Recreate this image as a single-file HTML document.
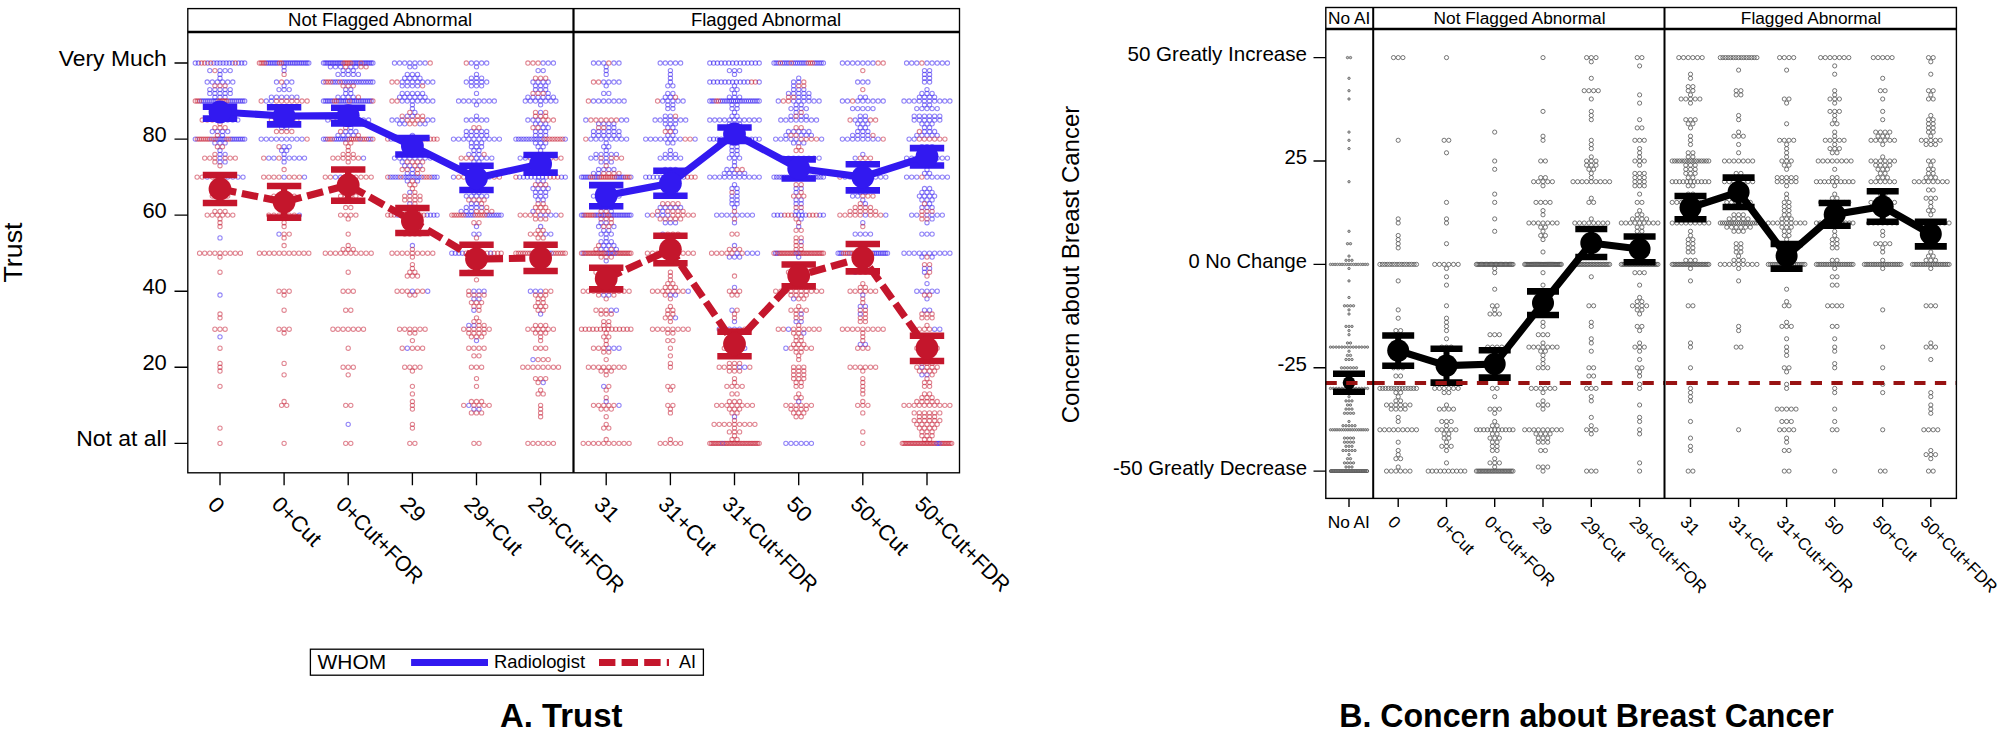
<!DOCTYPE html>
<html lang="en"><head><meta charset="utf-8"><title>Figure: Trust and Concern about Breast Cancer</title>
<style>
html,body{margin:0;padding:0;background:#fff}
body{width:2000px;height:729px;overflow:hidden}
svg{display:block}
.l circle{r:2.15px}
.r circle{r:2.1px}
.n circle{r:1.2px}
</style></head><body>
<svg width="2000" height="729" viewBox="0 0 2000 729" font-family='"Liberation Sans", sans-serif' fill="#000">
<rect width="2000" height="729" fill="#fff"/>
<g fill="none" stroke="#3219f0" stroke-opacity=".54" stroke-width="1.05" class="l">
<circle cx="195.3" cy="63"/><circle cx="198.4" cy="63"/><circle cx="207.7" cy="63"/><circle cx="213.8" cy="63"/><circle cx="216.9" cy="63"/><circle cx="220" cy="63"/><circle cx="223.1" cy="63"/><circle cx="226.2" cy="63"/><circle cx="229.3" cy="63"/><circle cx="232.4" cy="63"/><circle cx="238.5" cy="63"/><circle cx="241.6" cy="63"/><circle cx="244.7" cy="63"/><circle cx="209.8" cy="70.6"/><circle cx="220" cy="70.6"/><circle cx="225.1" cy="70.6"/><circle cx="230.2" cy="70.6"/><circle cx="220" cy="74.4"/><circle cx="220" cy="78.2"/><circle cx="207.2" cy="82"/><circle cx="212.3" cy="82"/><circle cx="217.4" cy="82"/><circle cx="222.6" cy="82"/><circle cx="227.7" cy="82"/><circle cx="232.8" cy="82"/><circle cx="209.8" cy="89.6"/><circle cx="214.9" cy="89.6"/><circle cx="220" cy="89.6"/><circle cx="225.1" cy="89.6"/><circle cx="230.2" cy="89.6"/><circle cx="209.8" cy="93.4"/><circle cx="214.9" cy="93.4"/><circle cx="220" cy="93.4"/><circle cx="225.1" cy="93.4"/><circle cx="230.2" cy="93.4"/><circle cx="214.9" cy="97.2"/><circle cx="220" cy="97.2"/><circle cx="225.1" cy="97.2"/><circle cx="201.2" cy="101"/><circle cx="203.2" cy="101"/><circle cx="205.2" cy="101"/><circle cx="207.2" cy="101"/><circle cx="209.1" cy="101"/><circle cx="211.1" cy="101"/><circle cx="213.1" cy="101"/><circle cx="215.1" cy="101"/><circle cx="217" cy="101"/><circle cx="228.9" cy="101"/><circle cx="230.9" cy="101"/><circle cx="232.8" cy="101"/><circle cx="234.8" cy="101"/><circle cx="236.8" cy="101"/><circle cx="238.8" cy="101"/><circle cx="240.7" cy="101"/><circle cx="242.7" cy="101"/><circle cx="244.7" cy="101"/><circle cx="214.9" cy="108.6"/><circle cx="220" cy="108.6"/><circle cx="225.1" cy="108.6"/><circle cx="222.5" cy="112.4"/><circle cx="222.5" cy="116.2"/><circle cx="217.5" cy="120"/><circle cx="222.6" cy="120"/><circle cx="227.7" cy="120"/><circle cx="232.8" cy="120"/><circle cx="237.8" cy="120"/><circle cx="212.3" cy="131.5"/><circle cx="217.4" cy="131.5"/><circle cx="222.5" cy="131.5"/><circle cx="227.7" cy="131.5"/><circle cx="222.5" cy="135.3"/><circle cx="195.3" cy="139.1"/><circle cx="211.1" cy="139.1"/><circle cx="217" cy="139.1"/><circle cx="219" cy="139.1"/><circle cx="221" cy="139.1"/><circle cx="223" cy="139.1"/><circle cx="224.9" cy="139.1"/><circle cx="230.9" cy="139.1"/><circle cx="232.8" cy="139.1"/><circle cx="234.8" cy="139.1"/><circle cx="236.8" cy="139.1"/><circle cx="238.8" cy="139.1"/><circle cx="240.7" cy="139.1"/><circle cx="242.7" cy="139.1"/><circle cx="244.7" cy="139.1"/><circle cx="214.9" cy="142.9"/><circle cx="220" cy="142.9"/><circle cx="225.1" cy="142.9"/><circle cx="220" cy="150.5"/><circle cx="220" cy="154.3"/><circle cx="225.1" cy="154.3"/><circle cx="220" cy="158.1"/><circle cx="220" cy="161.9"/><circle cx="225.1" cy="161.9"/><circle cx="207.2" cy="177.1"/><circle cx="227.7" cy="177.1"/><circle cx="232.8" cy="177.1"/><circle cx="237.9" cy="177.1"/><circle cx="243" cy="177.1"/><circle cx="222.5" cy="184.7"/><circle cx="220" cy="199.9"/><circle cx="220" cy="237.9"/><circle cx="220" cy="295"/><circle cx="220" cy="336.8"/><circle cx="266.7" cy="63"/><circle cx="268.6" cy="63"/><circle cx="270.4" cy="63"/><circle cx="272.2" cy="63"/><circle cx="274.1" cy="63"/><circle cx="275.9" cy="63"/><circle cx="277.7" cy="63"/><circle cx="283.2" cy="63"/><circle cx="285" cy="63"/><circle cx="286.9" cy="63"/><circle cx="288.7" cy="63"/><circle cx="290.5" cy="63"/><circle cx="292.4" cy="63"/><circle cx="294.2" cy="63"/><circle cx="296" cy="63"/><circle cx="297.8" cy="63"/><circle cx="299.7" cy="63"/><circle cx="301.5" cy="63"/><circle cx="303.3" cy="63"/><circle cx="305.2" cy="63"/><circle cx="307" cy="63"/><circle cx="308.8" cy="63"/><circle cx="284.1" cy="66.8"/><circle cx="284.1" cy="70.6"/><circle cx="276.5" cy="82"/><circle cx="286.7" cy="82"/><circle cx="291.8" cy="82"/><circle cx="284.1" cy="85.8"/><circle cx="279" cy="89.6"/><circle cx="284.1" cy="89.6"/><circle cx="289.2" cy="89.6"/><circle cx="271.4" cy="97.2"/><circle cx="276.5" cy="97.2"/><circle cx="281.6" cy="97.2"/><circle cx="286.7" cy="97.2"/><circle cx="291.8" cy="97.2"/><circle cx="296.9" cy="97.2"/><circle cx="266.3" cy="101"/><circle cx="271.4" cy="101"/><circle cx="279" cy="108.6"/><circle cx="284.1" cy="108.6"/><circle cx="289.2" cy="108.6"/><circle cx="281.6" cy="112.4"/><circle cx="286.7" cy="112.4"/><circle cx="281.6" cy="116.2"/><circle cx="286.7" cy="116.2"/><circle cx="281.6" cy="127.7"/><circle cx="286.7" cy="127.7"/><circle cx="261.2" cy="139.1"/><circle cx="266.3" cy="139.1"/><circle cx="271.4" cy="139.1"/><circle cx="276.5" cy="139.1"/><circle cx="281.6" cy="139.1"/><circle cx="286.7" cy="139.1"/><circle cx="291.8" cy="139.1"/><circle cx="296.9" cy="139.1"/><circle cx="302" cy="139.1"/><circle cx="284.1" cy="146.7"/><circle cx="289.2" cy="146.7"/><circle cx="281.6" cy="150.5"/><circle cx="286.7" cy="150.5"/><circle cx="284.1" cy="154.3"/><circle cx="268.8" cy="158.1"/><circle cx="273.9" cy="158.1"/><circle cx="284.1" cy="158.1"/><circle cx="289.2" cy="158.1"/><circle cx="294.3" cy="158.1"/><circle cx="299.4" cy="158.1"/><circle cx="304.5" cy="158.1"/><circle cx="284.1" cy="161.9"/><circle cx="284.1" cy="177.1"/><circle cx="304.5" cy="177.1"/><circle cx="284.1" cy="196.1"/><circle cx="289.2" cy="196.1"/><circle cx="299.4" cy="215.1"/><circle cx="279" cy="234.1"/><circle cx="323.5" cy="63"/><circle cx="325.2" cy="63"/><circle cx="326.9" cy="63"/><circle cx="328.7" cy="63"/><circle cx="330.4" cy="63"/><circle cx="332.1" cy="63"/><circle cx="333.8" cy="63"/><circle cx="335.5" cy="63"/><circle cx="337.2" cy="63"/><circle cx="338.9" cy="63"/><circle cx="340.6" cy="63"/><circle cx="342.3" cy="63"/><circle cx="352.5" cy="63"/><circle cx="354.2" cy="63"/><circle cx="355.9" cy="63"/><circle cx="357.6" cy="63"/><circle cx="359.3" cy="63"/><circle cx="362.7" cy="63"/><circle cx="364.4" cy="63"/><circle cx="366.1" cy="63"/><circle cx="367.8" cy="63"/><circle cx="369.5" cy="63"/><circle cx="371.2" cy="63"/><circle cx="372.9" cy="63"/><circle cx="330.4" cy="66.8"/><circle cx="335.5" cy="66.8"/><circle cx="340.6" cy="66.8"/><circle cx="350.8" cy="66.8"/><circle cx="355.9" cy="66.8"/><circle cx="343.1" cy="70.6"/><circle cx="348.2" cy="70.6"/><circle cx="353.3" cy="70.6"/><circle cx="338" cy="74.4"/><circle cx="343.1" cy="74.4"/><circle cx="348.2" cy="74.4"/><circle cx="353.3" cy="74.4"/><circle cx="358.4" cy="74.4"/><circle cx="323.5" cy="82"/><circle cx="332.9" cy="82"/><circle cx="335.3" cy="82"/><circle cx="337.7" cy="82"/><circle cx="342.4" cy="82"/><circle cx="344.7" cy="82"/><circle cx="347.1" cy="82"/><circle cx="349.4" cy="82"/><circle cx="351.8" cy="82"/><circle cx="354.1" cy="82"/><circle cx="356.5" cy="82"/><circle cx="358.8" cy="82"/><circle cx="361.2" cy="82"/><circle cx="363.5" cy="82"/><circle cx="365.9" cy="82"/><circle cx="368.2" cy="82"/><circle cx="370.6" cy="82"/><circle cx="372.9" cy="82"/><circle cx="345.7" cy="89.6"/><circle cx="350.8" cy="89.6"/><circle cx="345.7" cy="93.4"/><circle cx="350.8" cy="93.4"/><circle cx="338" cy="97.2"/><circle cx="343.1" cy="97.2"/><circle cx="348.2" cy="97.2"/><circle cx="353.3" cy="97.2"/><circle cx="323.5" cy="101"/><circle cx="325.4" cy="101"/><circle cx="327.2" cy="101"/><circle cx="329" cy="101"/><circle cx="330.9" cy="101"/><circle cx="332.7" cy="101"/><circle cx="338.2" cy="101"/><circle cx="340" cy="101"/><circle cx="341.8" cy="101"/><circle cx="343.7" cy="101"/><circle cx="345.5" cy="101"/><circle cx="347.3" cy="101"/><circle cx="351" cy="101"/><circle cx="352.8" cy="101"/><circle cx="354.6" cy="101"/><circle cx="356.5" cy="101"/><circle cx="358.3" cy="101"/><circle cx="360.1" cy="101"/><circle cx="362" cy="101"/><circle cx="363.8" cy="101"/><circle cx="365.6" cy="101"/><circle cx="367.5" cy="101"/><circle cx="369.3" cy="101"/><circle cx="371.1" cy="101"/><circle cx="343.1" cy="108.6"/><circle cx="348.2" cy="108.6"/><circle cx="345.7" cy="112.4"/><circle cx="350.8" cy="112.4"/><circle cx="327.8" cy="120"/><circle cx="338" cy="120"/><circle cx="358.4" cy="120"/><circle cx="363.5" cy="120"/><circle cx="368.6" cy="120"/><circle cx="350.8" cy="127.7"/><circle cx="345.7" cy="131.5"/><circle cx="350.8" cy="131.5"/><circle cx="355.9" cy="131.5"/><circle cx="338" cy="135.3"/><circle cx="343.1" cy="135.3"/><circle cx="348.2" cy="135.3"/><circle cx="353.3" cy="135.3"/><circle cx="323.5" cy="139.1"/><circle cx="325.7" cy="139.1"/><circle cx="334.3" cy="139.1"/><circle cx="336.4" cy="139.1"/><circle cx="338.6" cy="139.1"/><circle cx="340.7" cy="139.1"/><circle cx="342.9" cy="139.1"/><circle cx="345" cy="139.1"/><circle cx="347.2" cy="139.1"/><circle cx="360.1" cy="139.1"/><circle cx="368.6" cy="139.1"/><circle cx="370.8" cy="139.1"/><circle cx="363.5" cy="158.1"/><circle cx="343.1" cy="169.5"/><circle cx="348.2" cy="169.5"/><circle cx="335.5" cy="177.1"/><circle cx="340.6" cy="177.1"/><circle cx="345.7" cy="177.1"/><circle cx="348.2" cy="424.3"/><circle cx="394.5" cy="63"/><circle cx="399.6" cy="63"/><circle cx="404.7" cy="63"/><circle cx="409.8" cy="63"/><circle cx="414.9" cy="63"/><circle cx="420" cy="63"/><circle cx="425.1" cy="63"/><circle cx="409.8" cy="66.8"/><circle cx="414.9" cy="66.8"/><circle cx="407.3" cy="74.4"/><circle cx="412.4" cy="74.4"/><circle cx="417.5" cy="74.4"/><circle cx="404.7" cy="78.2"/><circle cx="409.8" cy="78.2"/><circle cx="414.9" cy="78.2"/><circle cx="420" cy="78.2"/><circle cx="402.2" cy="82"/><circle cx="407.3" cy="82"/><circle cx="412.4" cy="82"/><circle cx="417.5" cy="82"/><circle cx="422.6" cy="82"/><circle cx="427.7" cy="82"/><circle cx="432.8" cy="82"/><circle cx="402.2" cy="85.8"/><circle cx="407.3" cy="85.8"/><circle cx="412.4" cy="85.8"/><circle cx="417.5" cy="85.8"/><circle cx="402.2" cy="93.4"/><circle cx="407.3" cy="93.4"/><circle cx="412.4" cy="93.4"/><circle cx="417.5" cy="93.4"/><circle cx="422.6" cy="93.4"/><circle cx="399.6" cy="97.2"/><circle cx="404.7" cy="97.2"/><circle cx="409.8" cy="97.2"/><circle cx="414.9" cy="97.2"/><circle cx="420" cy="97.2"/><circle cx="425.1" cy="97.2"/><circle cx="402.2" cy="101"/><circle cx="407.3" cy="101"/><circle cx="412.4" cy="101"/><circle cx="417.5" cy="101"/><circle cx="422.6" cy="101"/><circle cx="427.7" cy="101"/><circle cx="432.8" cy="101"/><circle cx="412.4" cy="104.8"/><circle cx="412.4" cy="108.6"/><circle cx="414.9" cy="112.4"/><circle cx="407.3" cy="116.2"/><circle cx="412.4" cy="116.2"/><circle cx="392" cy="120"/><circle cx="397.1" cy="120"/><circle cx="402.2" cy="120"/><circle cx="427.7" cy="120"/><circle cx="432.8" cy="120"/><circle cx="399.6" cy="123.8"/><circle cx="404.7" cy="123.8"/><circle cx="420" cy="123.8"/><circle cx="425.1" cy="123.8"/><circle cx="412.4" cy="135.3"/><circle cx="391" cy="139.1"/><circle cx="394.2" cy="139.1"/><circle cx="397.5" cy="139.1"/><circle cx="400.8" cy="139.1"/><circle cx="404.1" cy="139.1"/><circle cx="410.7" cy="139.1"/><circle cx="414" cy="139.1"/><circle cx="417.3" cy="139.1"/><circle cx="420.6" cy="139.1"/><circle cx="407.3" cy="142.9"/><circle cx="412.4" cy="142.9"/><circle cx="417.5" cy="142.9"/><circle cx="407.3" cy="146.7"/><circle cx="412.4" cy="146.7"/><circle cx="409.8" cy="150.5"/><circle cx="394.5" cy="158.1"/><circle cx="399.6" cy="158.1"/><circle cx="404.7" cy="158.1"/><circle cx="409.8" cy="158.1"/><circle cx="414.9" cy="158.1"/><circle cx="420" cy="158.1"/><circle cx="425.1" cy="158.1"/><circle cx="430.2" cy="158.1"/><circle cx="402.2" cy="161.9"/><circle cx="404.7" cy="165.7"/><circle cx="409.8" cy="165.7"/><circle cx="420" cy="165.7"/><circle cx="412.4" cy="169.5"/><circle cx="407.3" cy="173.3"/><circle cx="412.4" cy="173.3"/><circle cx="390.3" cy="177.1"/><circle cx="392.9" cy="177.1"/><circle cx="395.5" cy="177.1"/><circle cx="398.1" cy="177.1"/><circle cx="403.3" cy="177.1"/><circle cx="405.9" cy="177.1"/><circle cx="408.5" cy="177.1"/><circle cx="411.1" cy="177.1"/><circle cx="413.7" cy="177.1"/><circle cx="416.3" cy="177.1"/><circle cx="418.9" cy="177.1"/><circle cx="421.5" cy="177.1"/><circle cx="431.9" cy="177.1"/><circle cx="434.5" cy="177.1"/><circle cx="437.1" cy="177.1"/><circle cx="407.3" cy="180.9"/><circle cx="417.5" cy="180.9"/><circle cx="409.8" cy="192.3"/><circle cx="409.8" cy="203.7"/><circle cx="414.9" cy="207.5"/><circle cx="397.5" cy="215.1"/><circle cx="427.2" cy="215.1"/><circle cx="430.5" cy="215.1"/><circle cx="433.8" cy="215.1"/><circle cx="437.1" cy="215.1"/><circle cx="414.9" cy="222.7"/><circle cx="412.4" cy="245.5"/><circle cx="412.4" cy="291.2"/><circle cx="427.7" cy="291.2"/><circle cx="407.3" cy="348.2"/><circle cx="471.4" cy="63"/><circle cx="476.5" cy="63"/><circle cx="481.6" cy="63"/><circle cx="486.7" cy="63"/><circle cx="476.5" cy="66.8"/><circle cx="476.5" cy="74.4"/><circle cx="471.4" cy="78.2"/><circle cx="476.5" cy="78.2"/><circle cx="481.6" cy="78.2"/><circle cx="466.3" cy="82"/><circle cx="471.4" cy="82"/><circle cx="476.5" cy="82"/><circle cx="481.6" cy="82"/><circle cx="486.7" cy="82"/><circle cx="471.4" cy="85.8"/><circle cx="476.5" cy="85.8"/><circle cx="481.6" cy="85.8"/><circle cx="476.5" cy="93.4"/><circle cx="458.6" cy="101"/><circle cx="463.7" cy="101"/><circle cx="468.8" cy="101"/><circle cx="473.9" cy="101"/><circle cx="479" cy="101"/><circle cx="484.1" cy="101"/><circle cx="489.2" cy="101"/><circle cx="494.3" cy="101"/><circle cx="476.5" cy="104.8"/><circle cx="476.5" cy="116.2"/><circle cx="466.3" cy="120"/><circle cx="471.4" cy="120"/><circle cx="476.5" cy="120"/><circle cx="481.6" cy="120"/><circle cx="486.7" cy="120"/><circle cx="466.3" cy="131.5"/><circle cx="471.4" cy="131.5"/><circle cx="476.5" cy="131.5"/><circle cx="481.6" cy="131.5"/><circle cx="486.7" cy="131.5"/><circle cx="466.3" cy="135.3"/><circle cx="471.4" cy="135.3"/><circle cx="476.5" cy="135.3"/><circle cx="481.6" cy="135.3"/><circle cx="486.7" cy="135.3"/><circle cx="453.5" cy="139.1"/><circle cx="458.6" cy="139.1"/><circle cx="463.7" cy="139.1"/><circle cx="468.8" cy="139.1"/><circle cx="473.9" cy="139.1"/><circle cx="479" cy="139.1"/><circle cx="484.1" cy="139.1"/><circle cx="489.2" cy="139.1"/><circle cx="494.3" cy="139.1"/><circle cx="499.4" cy="139.1"/><circle cx="471.4" cy="142.9"/><circle cx="476.5" cy="142.9"/><circle cx="481.6" cy="142.9"/><circle cx="471.4" cy="146.7"/><circle cx="476.5" cy="146.7"/><circle cx="481.6" cy="146.7"/><circle cx="473.9" cy="150.5"/><circle cx="479" cy="150.5"/><circle cx="468.8" cy="154.3"/><circle cx="473.9" cy="154.3"/><circle cx="479" cy="154.3"/><circle cx="476.5" cy="158.1"/><circle cx="481.6" cy="158.1"/><circle cx="486.7" cy="158.1"/><circle cx="491.8" cy="158.1"/><circle cx="473.9" cy="161.9"/><circle cx="479" cy="161.9"/><circle cx="473.9" cy="165.7"/><circle cx="471.4" cy="169.5"/><circle cx="476.5" cy="169.5"/><circle cx="473.9" cy="173.3"/><circle cx="479" cy="173.3"/><circle cx="453.5" cy="177.1"/><circle cx="484.1" cy="177.1"/><circle cx="489.2" cy="177.1"/><circle cx="473.9" cy="192.3"/><circle cx="479" cy="192.3"/><circle cx="466.3" cy="196.1"/><circle cx="471.4" cy="196.1"/><circle cx="476.5" cy="196.1"/><circle cx="481.6" cy="196.1"/><circle cx="486.7" cy="196.1"/><circle cx="471.4" cy="203.7"/><circle cx="476.5" cy="203.7"/><circle cx="466.3" cy="207.5"/><circle cx="471.4" cy="207.5"/><circle cx="476.5" cy="207.5"/><circle cx="481.6" cy="207.5"/><circle cx="461.2" cy="211.3"/><circle cx="466.3" cy="211.3"/><circle cx="471.4" cy="211.3"/><circle cx="465.9" cy="215.1"/><circle cx="468.2" cy="215.1"/><circle cx="470.6" cy="215.1"/><circle cx="473" cy="215.1"/><circle cx="487.1" cy="215.1"/><circle cx="489.4" cy="215.1"/><circle cx="491.8" cy="215.1"/><circle cx="494.1" cy="215.1"/><circle cx="496.5" cy="215.1"/><circle cx="498.8" cy="215.1"/><circle cx="501.2" cy="215.1"/><circle cx="476.5" cy="226.5"/><circle cx="473.9" cy="234.1"/><circle cx="479" cy="234.1"/><circle cx="451.8" cy="253.2"/><circle cx="455.3" cy="253.2"/><circle cx="458.8" cy="253.2"/><circle cx="462.4" cy="253.2"/><circle cx="490.6" cy="253.2"/><circle cx="473.9" cy="291.2"/><circle cx="479" cy="291.2"/><circle cx="484.1" cy="291.2"/><circle cx="473.9" cy="298.8"/><circle cx="479" cy="298.8"/><circle cx="473.9" cy="310.2"/><circle cx="468.8" cy="325.4"/><circle cx="473.9" cy="325.4"/><circle cx="476.5" cy="340.6"/><circle cx="468.8" cy="405.3"/><circle cx="473.9" cy="409.1"/><circle cx="479" cy="409.1"/><circle cx="543.1" cy="63"/><circle cx="548.2" cy="63"/><circle cx="553.4" cy="63"/><circle cx="538.1" cy="70.6"/><circle cx="543.2" cy="70.6"/><circle cx="533" cy="82"/><circle cx="538.1" cy="82"/><circle cx="543.2" cy="82"/><circle cx="548.2" cy="82"/><circle cx="535.5" cy="85.8"/><circle cx="540.6" cy="85.8"/><circle cx="545.7" cy="85.8"/><circle cx="535.5" cy="89.6"/><circle cx="540.6" cy="89.6"/><circle cx="545.7" cy="89.6"/><circle cx="548.2" cy="93.4"/><circle cx="527.9" cy="97.2"/><circle cx="533" cy="97.2"/><circle cx="538.1" cy="97.2"/><circle cx="543.1" cy="97.2"/><circle cx="548.2" cy="97.2"/><circle cx="553.4" cy="97.2"/><circle cx="525.3" cy="101"/><circle cx="530.4" cy="101"/><circle cx="535.5" cy="101"/><circle cx="540.6" cy="101"/><circle cx="545.7" cy="101"/><circle cx="550.8" cy="101"/><circle cx="555.9" cy="101"/><circle cx="540.6" cy="104.8"/><circle cx="540.6" cy="112.4"/><circle cx="527.9" cy="120"/><circle cx="533" cy="120"/><circle cx="538.1" cy="120"/><circle cx="535.5" cy="123.8"/><circle cx="540.6" cy="123.8"/><circle cx="545.7" cy="123.8"/><circle cx="543.2" cy="127.7"/><circle cx="548.2" cy="127.7"/><circle cx="535.5" cy="131.5"/><circle cx="540.6" cy="131.5"/><circle cx="545.7" cy="131.5"/><circle cx="535.5" cy="135.3"/><circle cx="540.6" cy="135.3"/><circle cx="545.7" cy="135.3"/><circle cx="515.9" cy="139.1"/><circle cx="518.5" cy="139.1"/><circle cx="521.1" cy="139.1"/><circle cx="523.7" cy="139.1"/><circle cx="526.3" cy="139.1"/><circle cx="528.9" cy="139.1"/><circle cx="531.5" cy="139.1"/><circle cx="534.1" cy="139.1"/><circle cx="536.7" cy="139.1"/><circle cx="539.3" cy="139.1"/><circle cx="541.9" cy="139.1"/><circle cx="565.3" cy="139.1"/><circle cx="535.5" cy="142.9"/><circle cx="540.6" cy="142.9"/><circle cx="545.7" cy="142.9"/><circle cx="538.1" cy="146.7"/><circle cx="543.2" cy="146.7"/><circle cx="540.6" cy="150.5"/><circle cx="520.2" cy="158.1"/><circle cx="525.3" cy="158.1"/><circle cx="535.5" cy="158.1"/><circle cx="540.6" cy="158.1"/><circle cx="538.1" cy="161.9"/><circle cx="543.2" cy="161.9"/><circle cx="538.1" cy="165.7"/><circle cx="543.2" cy="165.7"/><circle cx="519.7" cy="177.1"/><circle cx="523.5" cy="177.1"/><circle cx="527.3" cy="177.1"/><circle cx="531.1" cy="177.1"/><circle cx="534.9" cy="177.1"/><circle cx="538.7" cy="177.1"/><circle cx="542.5" cy="177.1"/><circle cx="546.3" cy="177.1"/><circle cx="561.5" cy="177.1"/><circle cx="565.3" cy="177.1"/><circle cx="538.1" cy="180.9"/><circle cx="543.2" cy="180.9"/><circle cx="533" cy="188.5"/><circle cx="538.1" cy="188.5"/><circle cx="543.2" cy="188.5"/><circle cx="548.2" cy="188.5"/><circle cx="535.5" cy="192.3"/><circle cx="540.6" cy="192.3"/><circle cx="545.7" cy="192.3"/><circle cx="535.5" cy="196.1"/><circle cx="540.6" cy="196.1"/><circle cx="545.7" cy="196.1"/><circle cx="538.1" cy="199.9"/><circle cx="543.2" cy="199.9"/><circle cx="533" cy="211.3"/><circle cx="540.6" cy="215.1"/><circle cx="545.7" cy="215.1"/><circle cx="550.8" cy="215.1"/><circle cx="555.9" cy="215.1"/><circle cx="540.6" cy="226.5"/><circle cx="545.7" cy="234.1"/><circle cx="550.8" cy="234.1"/><circle cx="541.8" cy="253.2"/><circle cx="544.1" cy="253.2"/><circle cx="546.5" cy="253.2"/><circle cx="548.8" cy="253.2"/><circle cx="551.2" cy="253.2"/><circle cx="540.6" cy="260.8"/><circle cx="530.4" cy="291.2"/><circle cx="535.5" cy="291.2"/><circle cx="540.6" cy="291.2"/><circle cx="540.6" cy="314"/><circle cx="533" cy="359.6"/><circle cx="543.2" cy="382.5"/><circle cx="593.5" cy="63"/><circle cx="598.6" cy="63"/><circle cx="603.7" cy="63"/><circle cx="613.9" cy="63"/><circle cx="619" cy="63"/><circle cx="606.2" cy="66.8"/><circle cx="606.2" cy="70.6"/><circle cx="606.2" cy="74.4"/><circle cx="603.7" cy="82"/><circle cx="608.8" cy="82"/><circle cx="613.9" cy="82"/><circle cx="619" cy="82"/><circle cx="606.2" cy="85.8"/><circle cx="603.7" cy="93.4"/><circle cx="608.8" cy="93.4"/><circle cx="593.5" cy="101"/><circle cx="598.6" cy="101"/><circle cx="603.6" cy="101"/><circle cx="608.8" cy="101"/><circle cx="613.9" cy="101"/><circle cx="619" cy="101"/><circle cx="624.1" cy="101"/><circle cx="585.8" cy="120"/><circle cx="621.5" cy="120"/><circle cx="626.6" cy="120"/><circle cx="598.6" cy="123.8"/><circle cx="603.7" cy="123.8"/><circle cx="608.8" cy="123.8"/><circle cx="613.9" cy="123.8"/><circle cx="608.8" cy="127.7"/><circle cx="613.9" cy="127.7"/><circle cx="593.5" cy="131.5"/><circle cx="598.6" cy="131.5"/><circle cx="603.7" cy="131.5"/><circle cx="608.8" cy="131.5"/><circle cx="613.9" cy="131.5"/><circle cx="619" cy="131.5"/><circle cx="593.5" cy="135.3"/><circle cx="598.6" cy="135.3"/><circle cx="603.7" cy="135.3"/><circle cx="608.8" cy="135.3"/><circle cx="613.9" cy="135.3"/><circle cx="619" cy="135.3"/><circle cx="590.9" cy="139.1"/><circle cx="596" cy="139.1"/><circle cx="601.1" cy="139.1"/><circle cx="606.2" cy="139.1"/><circle cx="611.3" cy="139.1"/><circle cx="616.4" cy="139.1"/><circle cx="621.5" cy="139.1"/><circle cx="626.6" cy="139.1"/><circle cx="606.2" cy="142.9"/><circle cx="603.7" cy="146.7"/><circle cx="608.8" cy="146.7"/><circle cx="606.2" cy="150.5"/><circle cx="596" cy="154.3"/><circle cx="601.1" cy="154.3"/><circle cx="606.2" cy="154.3"/><circle cx="611.3" cy="154.3"/><circle cx="616.4" cy="154.3"/><circle cx="590.9" cy="158.1"/><circle cx="596" cy="158.1"/><circle cx="606.2" cy="158.1"/><circle cx="601.1" cy="161.9"/><circle cx="606.2" cy="161.9"/><circle cx="611.3" cy="161.9"/><circle cx="598.6" cy="169.5"/><circle cx="603.7" cy="169.5"/><circle cx="608.8" cy="169.5"/><circle cx="613.9" cy="169.5"/><circle cx="593.5" cy="173.3"/><circle cx="598.6" cy="173.3"/><circle cx="581.5" cy="177.1"/><circle cx="583.3" cy="177.1"/><circle cx="585.2" cy="177.1"/><circle cx="587" cy="177.1"/><circle cx="588.8" cy="177.1"/><circle cx="594.3" cy="177.1"/><circle cx="596.1" cy="177.1"/><circle cx="598" cy="177.1"/><circle cx="616.3" cy="177.1"/><circle cx="618.1" cy="177.1"/><circle cx="619.9" cy="177.1"/><circle cx="621.8" cy="177.1"/><circle cx="623.6" cy="177.1"/><circle cx="630.9" cy="177.1"/><circle cx="601.1" cy="184.7"/><circle cx="606.2" cy="184.7"/><circle cx="611.3" cy="184.7"/><circle cx="603.7" cy="192.3"/><circle cx="608.8" cy="192.3"/><circle cx="593.5" cy="196.1"/><circle cx="603.7" cy="196.1"/><circle cx="613.9" cy="196.1"/><circle cx="619" cy="196.1"/><circle cx="603.7" cy="203.7"/><circle cx="608.8" cy="203.7"/><circle cx="601.1" cy="207.5"/><circle cx="606.2" cy="207.5"/><circle cx="611.3" cy="207.5"/><circle cx="611.3" cy="211.3"/><circle cx="581.5" cy="215.1"/><circle cx="583.2" cy="215.1"/><circle cx="595.1" cy="215.1"/><circle cx="596.8" cy="215.1"/><circle cx="598.5" cy="215.1"/><circle cx="601.9" cy="215.1"/><circle cx="603.6" cy="215.1"/><circle cx="605.3" cy="215.1"/><circle cx="610.5" cy="215.1"/><circle cx="612.2" cy="215.1"/><circle cx="613.9" cy="215.1"/><circle cx="615.6" cy="215.1"/><circle cx="617.3" cy="215.1"/><circle cx="619" cy="215.1"/><circle cx="620.7" cy="215.1"/><circle cx="622.4" cy="215.1"/><circle cx="624.1" cy="215.1"/><circle cx="625.8" cy="215.1"/><circle cx="627.5" cy="215.1"/><circle cx="629.2" cy="215.1"/><circle cx="630.9" cy="215.1"/><circle cx="601.1" cy="222.7"/><circle cx="606.2" cy="222.7"/><circle cx="598.6" cy="226.5"/><circle cx="613.9" cy="226.5"/><circle cx="603.7" cy="230.3"/><circle cx="608.8" cy="230.3"/><circle cx="601.1" cy="234.1"/><circle cx="606.2" cy="234.1"/><circle cx="611.3" cy="234.1"/><circle cx="606.2" cy="237.9"/><circle cx="601.1" cy="241.7"/><circle cx="606.2" cy="241.7"/><circle cx="611.3" cy="241.7"/><circle cx="603.7" cy="245.5"/><circle cx="608.8" cy="245.5"/><circle cx="613.9" cy="245.5"/><circle cx="601.1" cy="249.3"/><circle cx="606.2" cy="249.3"/><circle cx="616.4" cy="249.3"/><circle cx="583.1" cy="253.2"/><circle cx="607" cy="253.2"/><circle cx="608.6" cy="253.2"/><circle cx="610.2" cy="253.2"/><circle cx="613.4" cy="253.2"/><circle cx="615" cy="253.2"/><circle cx="606.2" cy="260.8"/><circle cx="603.7" cy="283.6"/><circle cx="608.8" cy="283.6"/><circle cx="603.7" cy="295"/><circle cx="608.8" cy="295"/><circle cx="611.3" cy="310.2"/><circle cx="616.4" cy="310.2"/><circle cx="608.8" cy="348.2"/><circle cx="613.9" cy="348.2"/><circle cx="619" cy="348.2"/><circle cx="603.7" cy="386.3"/><circle cx="606.2" cy="401.5"/><circle cx="619" cy="405.3"/><circle cx="660.2" cy="63"/><circle cx="665.3" cy="63"/><circle cx="670.4" cy="63"/><circle cx="675.5" cy="63"/><circle cx="680.6" cy="63"/><circle cx="670.4" cy="70.6"/><circle cx="670.4" cy="74.4"/><circle cx="670.4" cy="78.2"/><circle cx="670.4" cy="82"/><circle cx="667.8" cy="85.8"/><circle cx="672.9" cy="85.8"/><circle cx="667.8" cy="93.4"/><circle cx="672.9" cy="93.4"/><circle cx="665.3" cy="97.2"/><circle cx="670.4" cy="97.2"/><circle cx="662.7" cy="101"/><circle cx="667.8" cy="101"/><circle cx="672.9" cy="101"/><circle cx="678" cy="101"/><circle cx="683.1" cy="101"/><circle cx="667.8" cy="104.8"/><circle cx="672.9" cy="104.8"/><circle cx="667.8" cy="108.6"/><circle cx="672.9" cy="108.6"/><circle cx="665.3" cy="116.2"/><circle cx="670.4" cy="116.2"/><circle cx="655.1" cy="120"/><circle cx="660.2" cy="120"/><circle cx="665.3" cy="120"/><circle cx="670.4" cy="120"/><circle cx="675.5" cy="120"/><circle cx="680.6" cy="120"/><circle cx="685.7" cy="120"/><circle cx="665.3" cy="123.8"/><circle cx="670.4" cy="123.8"/><circle cx="675.5" cy="123.8"/><circle cx="667.8" cy="127.7"/><circle cx="672.9" cy="127.7"/><circle cx="675.5" cy="131.5"/><circle cx="667.8" cy="135.3"/><circle cx="672.9" cy="135.3"/><circle cx="645.7" cy="139.1"/><circle cx="650.6" cy="139.1"/><circle cx="655.5" cy="139.1"/><circle cx="660.5" cy="139.1"/><circle cx="665.4" cy="139.1"/><circle cx="670.4" cy="139.1"/><circle cx="675.3" cy="139.1"/><circle cx="680.2" cy="139.1"/><circle cx="695.1" cy="139.1"/><circle cx="667.8" cy="142.9"/><circle cx="672.9" cy="142.9"/><circle cx="670.4" cy="150.5"/><circle cx="665.3" cy="154.3"/><circle cx="670.4" cy="154.3"/><circle cx="675.5" cy="154.3"/><circle cx="660.2" cy="158.1"/><circle cx="665.3" cy="158.1"/><circle cx="670.4" cy="158.1"/><circle cx="675.5" cy="158.1"/><circle cx="680.6" cy="158.1"/><circle cx="665.3" cy="169.5"/><circle cx="670.4" cy="169.5"/><circle cx="675.5" cy="169.5"/><circle cx="645.7" cy="177.1"/><circle cx="649.5" cy="177.1"/><circle cx="653.3" cy="177.1"/><circle cx="657.1" cy="177.1"/><circle cx="660.9" cy="177.1"/><circle cx="664.7" cy="177.1"/><circle cx="668.5" cy="177.1"/><circle cx="672.3" cy="177.1"/><circle cx="676.1" cy="177.1"/><circle cx="679.9" cy="177.1"/><circle cx="683.7" cy="177.1"/><circle cx="667.8" cy="184.7"/><circle cx="672.9" cy="184.7"/><circle cx="665.3" cy="192.3"/><circle cx="670.4" cy="192.3"/><circle cx="675.5" cy="192.3"/><circle cx="657.6" cy="196.1"/><circle cx="662.7" cy="196.1"/><circle cx="660.2" cy="207.5"/><circle cx="665.3" cy="207.5"/><circle cx="670.4" cy="207.5"/><circle cx="675.5" cy="207.5"/><circle cx="680.6" cy="207.5"/><circle cx="662.7" cy="211.3"/><circle cx="647.4" cy="215.1"/><circle cx="657.6" cy="215.1"/><circle cx="662.7" cy="215.1"/><circle cx="667.8" cy="215.1"/><circle cx="665.3" cy="222.7"/><circle cx="670.4" cy="222.7"/><circle cx="675.5" cy="222.7"/><circle cx="662.7" cy="234.1"/><circle cx="688.2" cy="291.2"/><circle cx="670.4" cy="295"/><circle cx="675.5" cy="295"/><circle cx="675.5" cy="317.8"/><circle cx="709.8" cy="63"/><circle cx="713.6" cy="63"/><circle cx="717.4" cy="63"/><circle cx="721.2" cy="63"/><circle cx="725" cy="63"/><circle cx="728.8" cy="63"/><circle cx="732.6" cy="63"/><circle cx="736.4" cy="63"/><circle cx="740.2" cy="63"/><circle cx="744" cy="63"/><circle cx="747.8" cy="63"/><circle cx="751.6" cy="63"/><circle cx="755.4" cy="63"/><circle cx="759.2" cy="63"/><circle cx="729.4" cy="70.6"/><circle cx="734.5" cy="70.6"/><circle cx="739.6" cy="70.6"/><circle cx="734.5" cy="74.4"/><circle cx="709.8" cy="82"/><circle cx="713.6" cy="82"/><circle cx="717.4" cy="82"/><circle cx="721.2" cy="82"/><circle cx="725" cy="82"/><circle cx="728.8" cy="82"/><circle cx="732.6" cy="82"/><circle cx="736.4" cy="82"/><circle cx="740.2" cy="82"/><circle cx="744" cy="82"/><circle cx="747.8" cy="82"/><circle cx="759.2" cy="82"/><circle cx="734.5" cy="85.8"/><circle cx="732" cy="89.6"/><circle cx="737.1" cy="89.6"/><circle cx="734.5" cy="93.4"/><circle cx="729.4" cy="97.2"/><circle cx="734.5" cy="97.2"/><circle cx="739.6" cy="97.2"/><circle cx="709.8" cy="101"/><circle cx="712" cy="101"/><circle cx="714.1" cy="101"/><circle cx="720.6" cy="101"/><circle cx="722.7" cy="101"/><circle cx="724.9" cy="101"/><circle cx="727" cy="101"/><circle cx="729.2" cy="101"/><circle cx="731.3" cy="101"/><circle cx="733.4" cy="101"/><circle cx="735.6" cy="101"/><circle cx="737.7" cy="101"/><circle cx="739.9" cy="101"/><circle cx="742" cy="101"/><circle cx="744.2" cy="101"/><circle cx="746.3" cy="101"/><circle cx="748.5" cy="101"/><circle cx="750.6" cy="101"/><circle cx="752.8" cy="101"/><circle cx="754.9" cy="101"/><circle cx="757.1" cy="101"/><circle cx="759.2" cy="101"/><circle cx="732" cy="104.8"/><circle cx="737.1" cy="104.8"/><circle cx="732" cy="108.6"/><circle cx="737.1" cy="108.6"/><circle cx="734.5" cy="112.4"/><circle cx="732" cy="116.2"/><circle cx="737.1" cy="116.2"/><circle cx="709.8" cy="120"/><circle cx="714.8" cy="120"/><circle cx="719.7" cy="120"/><circle cx="724.6" cy="120"/><circle cx="729.6" cy="120"/><circle cx="734.5" cy="120"/><circle cx="739.5" cy="120"/><circle cx="744.4" cy="120"/><circle cx="749.3" cy="120"/><circle cx="754.3" cy="120"/><circle cx="759.2" cy="120"/><circle cx="729.4" cy="123.8"/><circle cx="734.5" cy="123.8"/><circle cx="739.6" cy="123.8"/><circle cx="732" cy="127.7"/><circle cx="737.1" cy="127.7"/><circle cx="729.4" cy="131.5"/><circle cx="734.5" cy="131.5"/><circle cx="739.6" cy="131.5"/><circle cx="729.4" cy="135.3"/><circle cx="734.5" cy="135.3"/><circle cx="739.6" cy="135.3"/><circle cx="709.8" cy="139.1"/><circle cx="713.6" cy="139.1"/><circle cx="717.4" cy="139.1"/><circle cx="721.2" cy="139.1"/><circle cx="725" cy="139.1"/><circle cx="728.8" cy="139.1"/><circle cx="732.6" cy="139.1"/><circle cx="736.4" cy="139.1"/><circle cx="740.2" cy="139.1"/><circle cx="744" cy="139.1"/><circle cx="747.8" cy="139.1"/><circle cx="751.6" cy="139.1"/><circle cx="755.4" cy="139.1"/><circle cx="759.2" cy="139.1"/><circle cx="732" cy="142.9"/><circle cx="737.1" cy="142.9"/><circle cx="732" cy="146.7"/><circle cx="737.1" cy="146.7"/><circle cx="732" cy="150.5"/><circle cx="737.1" cy="150.5"/><circle cx="732" cy="154.3"/><circle cx="737.1" cy="154.3"/><circle cx="729.4" cy="158.1"/><circle cx="734.5" cy="158.1"/><circle cx="739.6" cy="158.1"/><circle cx="734.5" cy="161.9"/><circle cx="734.5" cy="165.7"/><circle cx="726.9" cy="169.5"/><circle cx="732" cy="169.5"/><circle cx="724.3" cy="173.3"/><circle cx="729.4" cy="173.3"/><circle cx="734.5" cy="173.3"/><circle cx="739.6" cy="173.3"/><circle cx="744.7" cy="173.3"/><circle cx="709.8" cy="177.1"/><circle cx="714.8" cy="177.1"/><circle cx="719.7" cy="177.1"/><circle cx="724.6" cy="177.1"/><circle cx="729.6" cy="177.1"/><circle cx="734.5" cy="177.1"/><circle cx="739.5" cy="177.1"/><circle cx="744.4" cy="177.1"/><circle cx="749.3" cy="177.1"/><circle cx="754.3" cy="177.1"/><circle cx="759.2" cy="177.1"/><circle cx="734.5" cy="184.7"/><circle cx="732" cy="188.5"/><circle cx="737.1" cy="188.5"/><circle cx="737.1" cy="192.3"/><circle cx="732" cy="196.1"/><circle cx="737.1" cy="196.1"/><circle cx="732" cy="199.9"/><circle cx="737.1" cy="199.9"/><circle cx="732" cy="203.7"/><circle cx="737.1" cy="203.7"/><circle cx="734.5" cy="207.5"/><circle cx="716.7" cy="215.1"/><circle cx="721.8" cy="215.1"/><circle cx="726.9" cy="215.1"/><circle cx="732" cy="215.1"/><circle cx="737.1" cy="215.1"/><circle cx="742.2" cy="215.1"/><circle cx="747.3" cy="215.1"/><circle cx="752.4" cy="215.1"/><circle cx="734.5" cy="222.7"/><circle cx="734.5" cy="245.5"/><circle cx="737.1" cy="253.2"/><circle cx="747.3" cy="253.2"/><circle cx="752.4" cy="253.2"/><circle cx="757.5" cy="253.2"/><circle cx="729.4" cy="257"/><circle cx="734.5" cy="257"/><circle cx="739.6" cy="257"/><circle cx="734.5" cy="287.4"/><circle cx="732" cy="310.2"/><circle cx="734.5" cy="321.6"/><circle cx="719.2" cy="329.2"/><circle cx="724.3" cy="329.2"/><circle cx="729.4" cy="329.2"/><circle cx="734.5" cy="329.2"/><circle cx="739.6" cy="329.2"/><circle cx="744.7" cy="348.2"/><circle cx="739.6" cy="367.2"/><circle cx="744.7" cy="367.2"/><circle cx="734.5" cy="416.7"/><circle cx="722.6" cy="443.3"/><circle cx="774" cy="63"/><circle cx="776.1" cy="63"/><circle cx="778.3" cy="63"/><circle cx="782.6" cy="63"/><circle cx="784.7" cy="63"/><circle cx="786.9" cy="63"/><circle cx="789" cy="63"/><circle cx="793.3" cy="63"/><circle cx="795.5" cy="63"/><circle cx="797.6" cy="63"/><circle cx="799.8" cy="63"/><circle cx="801.9" cy="63"/><circle cx="804" cy="63"/><circle cx="806.2" cy="63"/><circle cx="814.8" cy="63"/><circle cx="816.9" cy="63"/><circle cx="819.1" cy="63"/><circle cx="821.2" cy="63"/><circle cx="823.4" cy="63"/><circle cx="798.7" cy="78.2"/><circle cx="793.6" cy="82"/><circle cx="798.7" cy="82"/><circle cx="793.6" cy="85.8"/><circle cx="793.6" cy="89.6"/><circle cx="798.7" cy="89.6"/><circle cx="803.8" cy="89.6"/><circle cx="788.5" cy="93.4"/><circle cx="793.6" cy="93.4"/><circle cx="798.7" cy="93.4"/><circle cx="803.8" cy="93.4"/><circle cx="808.9" cy="93.4"/><circle cx="798.7" cy="97.2"/><circle cx="803.8" cy="97.2"/><circle cx="808.9" cy="97.2"/><circle cx="778.3" cy="101"/><circle cx="793.6" cy="101"/><circle cx="798.7" cy="101"/><circle cx="803.8" cy="101"/><circle cx="808.9" cy="101"/><circle cx="814" cy="101"/><circle cx="819.1" cy="101"/><circle cx="796.1" cy="104.8"/><circle cx="801.2" cy="104.8"/><circle cx="791" cy="108.6"/><circle cx="796.1" cy="108.6"/><circle cx="801.2" cy="108.6"/><circle cx="806.3" cy="108.6"/><circle cx="796.1" cy="112.4"/><circle cx="791" cy="116.2"/><circle cx="801.2" cy="116.2"/><circle cx="806.3" cy="116.2"/><circle cx="780.8" cy="120"/><circle cx="785.9" cy="120"/><circle cx="791" cy="120"/><circle cx="796.1" cy="120"/><circle cx="801.2" cy="120"/><circle cx="806.3" cy="120"/><circle cx="811.4" cy="120"/><circle cx="816.5" cy="120"/><circle cx="788.5" cy="131.5"/><circle cx="793.6" cy="131.5"/><circle cx="798.7" cy="131.5"/><circle cx="803.8" cy="131.5"/><circle cx="808.9" cy="131.5"/><circle cx="785.9" cy="135.3"/><circle cx="801.2" cy="135.3"/><circle cx="806.3" cy="135.3"/><circle cx="811.4" cy="135.3"/><circle cx="775.7" cy="139.1"/><circle cx="780.8" cy="139.1"/><circle cx="785.9" cy="139.1"/><circle cx="791" cy="139.1"/><circle cx="796.1" cy="139.1"/><circle cx="821.6" cy="139.1"/><circle cx="793.6" cy="142.9"/><circle cx="798.7" cy="142.9"/><circle cx="803.8" cy="142.9"/><circle cx="778.3" cy="158.1"/><circle cx="783.4" cy="158.1"/><circle cx="788.5" cy="158.1"/><circle cx="793.6" cy="158.1"/><circle cx="798.7" cy="158.1"/><circle cx="803.8" cy="158.1"/><circle cx="808.9" cy="158.1"/><circle cx="814" cy="158.1"/><circle cx="819.1" cy="158.1"/><circle cx="793.6" cy="169.5"/><circle cx="798.7" cy="169.5"/><circle cx="803.8" cy="169.5"/><circle cx="796.1" cy="173.3"/><circle cx="774" cy="177.1"/><circle cx="776.6" cy="177.1"/><circle cx="779.2" cy="177.1"/><circle cx="781.8" cy="177.1"/><circle cx="784.4" cy="177.1"/><circle cx="787" cy="177.1"/><circle cx="789.6" cy="177.1"/><circle cx="797.4" cy="177.1"/><circle cx="800" cy="177.1"/><circle cx="802.6" cy="177.1"/><circle cx="805.2" cy="177.1"/><circle cx="807.8" cy="177.1"/><circle cx="810.4" cy="177.1"/><circle cx="813" cy="177.1"/><circle cx="815.6" cy="177.1"/><circle cx="818.2" cy="177.1"/><circle cx="820.8" cy="177.1"/><circle cx="823.4" cy="177.1"/><circle cx="796.1" cy="188.5"/><circle cx="801.2" cy="188.5"/><circle cx="796.1" cy="192.3"/><circle cx="796.1" cy="199.9"/><circle cx="801.2" cy="199.9"/><circle cx="796.1" cy="203.7"/><circle cx="801.2" cy="203.7"/><circle cx="796.1" cy="211.3"/><circle cx="801.2" cy="211.3"/><circle cx="774" cy="215.1"/><circle cx="777.5" cy="215.1"/><circle cx="781" cy="215.1"/><circle cx="795.2" cy="215.1"/><circle cx="798.7" cy="215.1"/><circle cx="802.2" cy="215.1"/><circle cx="805.7" cy="215.1"/><circle cx="819.9" cy="215.1"/><circle cx="823.4" cy="215.1"/><circle cx="801.2" cy="218.9"/><circle cx="798.7" cy="226.5"/><circle cx="801.2" cy="241.7"/><circle cx="775.6" cy="253.2"/><circle cx="777.2" cy="253.2"/><circle cx="796.3" cy="253.2"/><circle cx="797.9" cy="253.2"/><circle cx="798.7" cy="257"/><circle cx="793.6" cy="298.8"/><circle cx="801.2" cy="314"/><circle cx="796.1" cy="321.6"/><circle cx="801.2" cy="321.6"/><circle cx="788.5" cy="329.2"/><circle cx="803.8" cy="333"/><circle cx="785.9" cy="348.2"/><circle cx="798.7" cy="401.5"/><circle cx="785.9" cy="443.3"/><circle cx="791" cy="443.3"/><circle cx="796.1" cy="443.3"/><circle cx="801.2" cy="443.3"/><circle cx="806.3" cy="443.3"/><circle cx="811.4" cy="443.3"/><circle cx="842.4" cy="63"/><circle cx="847.5" cy="63"/><circle cx="852.6" cy="63"/><circle cx="857.7" cy="63"/><circle cx="862.8" cy="63"/><circle cx="867.9" cy="63"/><circle cx="873" cy="63"/><circle cx="857.7" cy="82"/><circle cx="862.8" cy="82"/><circle cx="867.9" cy="82"/><circle cx="860.3" cy="97.2"/><circle cx="865.4" cy="97.2"/><circle cx="842.4" cy="101"/><circle cx="847.5" cy="101"/><circle cx="857.7" cy="101"/><circle cx="862.8" cy="101"/><circle cx="867.9" cy="101"/><circle cx="873" cy="101"/><circle cx="878.1" cy="101"/><circle cx="883.2" cy="101"/><circle cx="852.6" cy="108.6"/><circle cx="857.7" cy="108.6"/><circle cx="862.8" cy="108.6"/><circle cx="867.9" cy="108.6"/><circle cx="873" cy="108.6"/><circle cx="860.3" cy="116.2"/><circle cx="865.4" cy="116.2"/><circle cx="855.2" cy="120"/><circle cx="860.3" cy="120"/><circle cx="865.4" cy="120"/><circle cx="857.7" cy="123.8"/><circle cx="862.8" cy="123.8"/><circle cx="867.9" cy="123.8"/><circle cx="860.3" cy="127.7"/><circle cx="865.4" cy="127.7"/><circle cx="857.7" cy="131.5"/><circle cx="862.8" cy="131.5"/><circle cx="867.9" cy="131.5"/><circle cx="852.6" cy="135.3"/><circle cx="857.7" cy="135.3"/><circle cx="862.8" cy="135.3"/><circle cx="867.9" cy="135.3"/><circle cx="842.4" cy="139.1"/><circle cx="847.5" cy="139.1"/><circle cx="852.6" cy="139.1"/><circle cx="857.7" cy="139.1"/><circle cx="862.8" cy="139.1"/><circle cx="867.9" cy="139.1"/><circle cx="873" cy="139.1"/><circle cx="878.1" cy="139.1"/><circle cx="862.8" cy="154.3"/><circle cx="855.2" cy="158.1"/><circle cx="860.3" cy="169.5"/><circle cx="865.4" cy="169.5"/><circle cx="865.4" cy="173.3"/><circle cx="845" cy="177.1"/><circle cx="850.1" cy="177.1"/><circle cx="855.2" cy="177.1"/><circle cx="860.3" cy="177.1"/><circle cx="865.4" cy="177.1"/><circle cx="870.5" cy="177.1"/><circle cx="875.6" cy="177.1"/><circle cx="880.7" cy="177.1"/><circle cx="885.8" cy="177.1"/><circle cx="860.3" cy="192.3"/><circle cx="865.4" cy="192.3"/><circle cx="852.6" cy="196.1"/><circle cx="857.7" cy="196.1"/><circle cx="862.8" cy="199.9"/><circle cx="865.4" cy="203.7"/><circle cx="865.4" cy="215.1"/><circle cx="885.8" cy="215.1"/><circle cx="862.8" cy="222.7"/><circle cx="855.2" cy="234.1"/><circle cx="860.3" cy="234.1"/><circle cx="865.4" cy="234.1"/><circle cx="870.5" cy="234.1"/><circle cx="838.1" cy="253.2"/><circle cx="840" cy="253.2"/><circle cx="841.8" cy="253.2"/><circle cx="849.1" cy="253.2"/><circle cx="856.4" cy="253.2"/><circle cx="858.3" cy="253.2"/><circle cx="860.1" cy="253.2"/><circle cx="861.9" cy="253.2"/><circle cx="863.8" cy="253.2"/><circle cx="865.6" cy="253.2"/><circle cx="869.2" cy="253.2"/><circle cx="872.9" cy="253.2"/><circle cx="874.7" cy="253.2"/><circle cx="876.6" cy="253.2"/><circle cx="878.4" cy="253.2"/><circle cx="880.2" cy="253.2"/><circle cx="882.1" cy="253.2"/><circle cx="883.9" cy="253.2"/><circle cx="885.7" cy="253.2"/><circle cx="887.5" cy="253.2"/><circle cx="865.4" cy="260.8"/><circle cx="855.2" cy="272.2"/><circle cx="862.8" cy="295"/><circle cx="860.3" cy="306.4"/><circle cx="865.4" cy="306.4"/><circle cx="860.3" cy="314"/><circle cx="860.3" cy="344.4"/><circle cx="865.4" cy="344.4"/><circle cx="906.6" cy="63"/><circle cx="911.7" cy="63"/><circle cx="916.8" cy="63"/><circle cx="927" cy="63"/><circle cx="932.1" cy="63"/><circle cx="937.2" cy="63"/><circle cx="942.3" cy="63"/><circle cx="947.4" cy="63"/><circle cx="924.5" cy="70.6"/><circle cx="929.6" cy="70.6"/><circle cx="924.5" cy="74.4"/><circle cx="929.6" cy="74.4"/><circle cx="924.5" cy="78.2"/><circle cx="929.6" cy="78.2"/><circle cx="924.5" cy="82"/><circle cx="929.6" cy="82"/><circle cx="927" cy="89.6"/><circle cx="921.9" cy="93.4"/><circle cx="927" cy="93.4"/><circle cx="932.1" cy="93.4"/><circle cx="919.4" cy="97.2"/><circle cx="924.5" cy="97.2"/><circle cx="929.6" cy="97.2"/><circle cx="934.6" cy="97.2"/><circle cx="904" cy="101"/><circle cx="909.1" cy="101"/><circle cx="914.2" cy="101"/><circle cx="919.3" cy="101"/><circle cx="924.4" cy="101"/><circle cx="929.5" cy="101"/><circle cx="934.6" cy="101"/><circle cx="939.8" cy="101"/><circle cx="944.8" cy="101"/><circle cx="949.9" cy="101"/><circle cx="924.5" cy="104.8"/><circle cx="929.6" cy="104.8"/><circle cx="916.8" cy="108.6"/><circle cx="921.9" cy="108.6"/><circle cx="927" cy="108.6"/><circle cx="932.1" cy="108.6"/><circle cx="937.2" cy="108.6"/><circle cx="914.2" cy="116.2"/><circle cx="919.4" cy="116.2"/><circle cx="924.5" cy="116.2"/><circle cx="929.5" cy="116.2"/><circle cx="934.6" cy="116.2"/><circle cx="939.8" cy="116.2"/><circle cx="914.2" cy="120"/><circle cx="919.4" cy="120"/><circle cx="924.5" cy="120"/><circle cx="929.5" cy="120"/><circle cx="934.6" cy="120"/><circle cx="939.8" cy="120"/><circle cx="921.9" cy="123.8"/><circle cx="927" cy="123.8"/><circle cx="932.1" cy="123.8"/><circle cx="924.5" cy="127.7"/><circle cx="929.6" cy="127.7"/><circle cx="924.5" cy="131.5"/><circle cx="929.6" cy="131.5"/><circle cx="934.6" cy="131.5"/><circle cx="916.8" cy="135.3"/><circle cx="921.9" cy="135.3"/><circle cx="927" cy="135.3"/><circle cx="932.1" cy="135.3"/><circle cx="937.2" cy="135.3"/><circle cx="909.1" cy="139.1"/><circle cx="914.2" cy="139.1"/><circle cx="921.9" cy="146.7"/><circle cx="927" cy="146.7"/><circle cx="932.1" cy="146.7"/><circle cx="924.5" cy="150.5"/><circle cx="929.6" cy="150.5"/><circle cx="921.9" cy="154.3"/><circle cx="927" cy="154.3"/><circle cx="932.1" cy="154.3"/><circle cx="906.6" cy="158.1"/><circle cx="911.7" cy="158.1"/><circle cx="916.8" cy="158.1"/><circle cx="921.9" cy="158.1"/><circle cx="927" cy="158.1"/><circle cx="932.1" cy="158.1"/><circle cx="937.2" cy="158.1"/><circle cx="942.3" cy="158.1"/><circle cx="947.4" cy="158.1"/><circle cx="927" cy="169.5"/><circle cx="924.5" cy="173.3"/><circle cx="929.6" cy="173.3"/><circle cx="906.6" cy="177.1"/><circle cx="911.7" cy="177.1"/><circle cx="916.8" cy="177.1"/><circle cx="927" cy="177.1"/><circle cx="932.1" cy="177.1"/><circle cx="937.2" cy="177.1"/><circle cx="942.3" cy="177.1"/><circle cx="947.4" cy="177.1"/><circle cx="924.5" cy="188.5"/><circle cx="929.6" cy="188.5"/><circle cx="921.9" cy="192.3"/><circle cx="927" cy="192.3"/><circle cx="932.1" cy="192.3"/><circle cx="919.4" cy="196.1"/><circle cx="924.5" cy="196.1"/><circle cx="929.6" cy="196.1"/><circle cx="934.6" cy="196.1"/><circle cx="921.9" cy="199.9"/><circle cx="927" cy="199.9"/><circle cx="932.1" cy="199.9"/><circle cx="929.6" cy="203.7"/><circle cx="921.9" cy="207.5"/><circle cx="927" cy="207.5"/><circle cx="932.1" cy="207.5"/><circle cx="911.7" cy="215.1"/><circle cx="916.8" cy="215.1"/><circle cx="927" cy="215.1"/><circle cx="932.1" cy="215.1"/><circle cx="937.2" cy="215.1"/><circle cx="942.3" cy="215.1"/><circle cx="932.1" cy="218.9"/><circle cx="927" cy="222.7"/><circle cx="921.9" cy="234.1"/><circle cx="927" cy="234.1"/><circle cx="932.1" cy="234.1"/><circle cx="904" cy="253.2"/><circle cx="909.1" cy="253.2"/><circle cx="914.2" cy="253.2"/><circle cx="919.3" cy="253.2"/><circle cx="924.4" cy="253.2"/><circle cx="929.5" cy="253.2"/><circle cx="934.6" cy="253.2"/><circle cx="939.8" cy="253.2"/><circle cx="944.8" cy="253.2"/><circle cx="949.9" cy="253.2"/><circle cx="921.9" cy="257"/><circle cx="932.1" cy="257"/><circle cx="924.5" cy="268.4"/><circle cx="929.6" cy="268.4"/><circle cx="924.5" cy="272.2"/><circle cx="927" cy="283.6"/><circle cx="916.8" cy="291.2"/><circle cx="921.9" cy="291.2"/><circle cx="927" cy="291.2"/><circle cx="932.1" cy="291.2"/><circle cx="937.2" cy="291.2"/><circle cx="927" cy="298.8"/><circle cx="924.5" cy="310.2"/><circle cx="929.6" cy="310.2"/><circle cx="934.6" cy="329.2"/><circle cx="939.8" cy="329.2"/><circle cx="921.9" cy="367.2"/><circle cx="921.9" cy="374.8"/><circle cx="927" cy="374.8"/><circle cx="936.7" cy="443.3"/><circle cx="938.2" cy="443.3"/><circle cx="939.7" cy="443.3"/>
</g>
<g fill="none" stroke="#c4162c" stroke-opacity=".52" stroke-width="1.05" class="l">
<circle cx="201.5" cy="63"/><circle cx="204.6" cy="63"/><circle cx="210.7" cy="63"/><circle cx="235.4" cy="63"/><circle cx="214.9" cy="70.6"/><circle cx="214.9" cy="85.8"/><circle cx="220" cy="85.8"/><circle cx="225.1" cy="85.8"/><circle cx="195.3" cy="101"/><circle cx="197.3" cy="101"/><circle cx="199.3" cy="101"/><circle cx="219" cy="101"/><circle cx="221" cy="101"/><circle cx="223" cy="101"/><circle cx="224.9" cy="101"/><circle cx="226.9" cy="101"/><circle cx="217.4" cy="112.4"/><circle cx="217.4" cy="116.2"/><circle cx="202.2" cy="120"/><circle cx="207.2" cy="120"/><circle cx="212.3" cy="120"/><circle cx="220" cy="123.8"/><circle cx="214.9" cy="127.7"/><circle cx="220" cy="127.7"/><circle cx="225.1" cy="127.7"/><circle cx="217.4" cy="135.3"/><circle cx="197.3" cy="139.1"/><circle cx="199.3" cy="139.1"/><circle cx="201.2" cy="139.1"/><circle cx="203.2" cy="139.1"/><circle cx="205.2" cy="139.1"/><circle cx="207.2" cy="139.1"/><circle cx="209.1" cy="139.1"/><circle cx="213.1" cy="139.1"/><circle cx="215.1" cy="139.1"/><circle cx="226.9" cy="139.1"/><circle cx="228.9" cy="139.1"/><circle cx="217.4" cy="146.7"/><circle cx="222.5" cy="146.7"/><circle cx="214.9" cy="154.3"/><circle cx="204.7" cy="158.1"/><circle cx="209.8" cy="158.1"/><circle cx="214.9" cy="158.1"/><circle cx="225.1" cy="158.1"/><circle cx="230.2" cy="158.1"/><circle cx="235.3" cy="158.1"/><circle cx="214.9" cy="161.9"/><circle cx="220" cy="165.7"/><circle cx="197.1" cy="177.1"/><circle cx="202.2" cy="177.1"/><circle cx="212.4" cy="177.1"/><circle cx="217.5" cy="177.1"/><circle cx="222.6" cy="177.1"/><circle cx="217.4" cy="184.7"/><circle cx="217.4" cy="192.3"/><circle cx="222.5" cy="192.3"/><circle cx="212.3" cy="196.1"/><circle cx="217.4" cy="196.1"/><circle cx="222.5" cy="196.1"/><circle cx="227.7" cy="196.1"/><circle cx="214.9" cy="211.3"/><circle cx="220" cy="211.3"/><circle cx="225.1" cy="211.3"/><circle cx="207.2" cy="215.1"/><circle cx="212.3" cy="215.1"/><circle cx="217.4" cy="215.1"/><circle cx="222.6" cy="215.1"/><circle cx="227.7" cy="215.1"/><circle cx="232.8" cy="215.1"/><circle cx="220" cy="218.9"/><circle cx="220" cy="222.7"/><circle cx="220" cy="226.5"/><circle cx="199.6" cy="253.2"/><circle cx="204.7" cy="253.2"/><circle cx="209.8" cy="253.2"/><circle cx="214.9" cy="253.2"/><circle cx="220" cy="253.2"/><circle cx="225.1" cy="253.2"/><circle cx="230.2" cy="253.2"/><circle cx="235.3" cy="253.2"/><circle cx="240.4" cy="253.2"/><circle cx="220" cy="257"/><circle cx="220" cy="272.2"/><circle cx="220" cy="314"/><circle cx="220" cy="317.8"/><circle cx="214.9" cy="329.2"/><circle cx="220" cy="329.2"/><circle cx="225.1" cy="329.2"/><circle cx="220" cy="348.2"/><circle cx="220" cy="363.4"/><circle cx="220" cy="367.2"/><circle cx="220" cy="371"/><circle cx="220" cy="386.3"/><circle cx="220" cy="428.1"/><circle cx="220" cy="443.3"/><circle cx="259.4" cy="63"/><circle cx="261.2" cy="63"/><circle cx="263.1" cy="63"/><circle cx="264.9" cy="63"/><circle cx="279.5" cy="63"/><circle cx="281.4" cy="63"/><circle cx="284.1" cy="74.4"/><circle cx="281.6" cy="82"/><circle cx="261.2" cy="101"/><circle cx="276.5" cy="101"/><circle cx="281.6" cy="101"/><circle cx="286.7" cy="101"/><circle cx="291.8" cy="101"/><circle cx="296.9" cy="101"/><circle cx="302" cy="101"/><circle cx="307.1" cy="101"/><circle cx="271.4" cy="120"/><circle cx="276.5" cy="120"/><circle cx="281.6" cy="120"/><circle cx="286.7" cy="120"/><circle cx="291.8" cy="120"/><circle cx="296.9" cy="120"/><circle cx="276.5" cy="131.5"/><circle cx="281.6" cy="131.5"/><circle cx="286.7" cy="131.5"/><circle cx="291.8" cy="131.5"/><circle cx="307.1" cy="139.1"/><circle cx="279" cy="146.7"/><circle cx="263.7" cy="158.1"/><circle cx="279" cy="158.1"/><circle cx="284.1" cy="169.5"/><circle cx="263.7" cy="177.1"/><circle cx="268.8" cy="177.1"/><circle cx="273.9" cy="177.1"/><circle cx="279" cy="177.1"/><circle cx="289.2" cy="177.1"/><circle cx="294.3" cy="177.1"/><circle cx="299.4" cy="177.1"/><circle cx="273.9" cy="196.1"/><circle cx="279" cy="196.1"/><circle cx="294.3" cy="196.1"/><circle cx="268.8" cy="215.1"/><circle cx="273.9" cy="215.1"/><circle cx="279" cy="215.1"/><circle cx="284.1" cy="215.1"/><circle cx="289.2" cy="215.1"/><circle cx="294.3" cy="215.1"/><circle cx="284.1" cy="222.7"/><circle cx="284.1" cy="226.5"/><circle cx="284.1" cy="234.1"/><circle cx="289.2" cy="234.1"/><circle cx="284.1" cy="237.9"/><circle cx="284.1" cy="245.5"/><circle cx="259.4" cy="253.2"/><circle cx="264.4" cy="253.2"/><circle cx="269.3" cy="253.2"/><circle cx="274.2" cy="253.2"/><circle cx="279.2" cy="253.2"/><circle cx="284.1" cy="253.2"/><circle cx="289.1" cy="253.2"/><circle cx="294" cy="253.2"/><circle cx="298.9" cy="253.2"/><circle cx="303.9" cy="253.2"/><circle cx="308.8" cy="253.2"/><circle cx="279" cy="291.2"/><circle cx="284.1" cy="291.2"/><circle cx="289.2" cy="291.2"/><circle cx="284.1" cy="295"/><circle cx="284.1" cy="310.2"/><circle cx="279" cy="329.2"/><circle cx="284.1" cy="329.2"/><circle cx="289.2" cy="329.2"/><circle cx="284.1" cy="333"/><circle cx="284.1" cy="363.4"/><circle cx="284.1" cy="374.8"/><circle cx="284.1" cy="401.5"/><circle cx="281.6" cy="405.3"/><circle cx="286.7" cy="405.3"/><circle cx="284.1" cy="443.3"/><circle cx="344" cy="63"/><circle cx="345.7" cy="63"/><circle cx="347.4" cy="63"/><circle cx="349.1" cy="63"/><circle cx="350.8" cy="63"/><circle cx="361" cy="63"/><circle cx="345.7" cy="66.8"/><circle cx="361" cy="66.8"/><circle cx="366.1" cy="66.8"/><circle cx="325.9" cy="82"/><circle cx="328.2" cy="82"/><circle cx="330.6" cy="82"/><circle cx="340" cy="82"/><circle cx="343.1" cy="85.8"/><circle cx="348.2" cy="85.8"/><circle cx="353.3" cy="85.8"/><circle cx="358.4" cy="97.2"/><circle cx="334.5" cy="101"/><circle cx="336.3" cy="101"/><circle cx="349.2" cy="101"/><circle cx="372.9" cy="101"/><circle cx="353.3" cy="108.6"/><circle cx="343.1" cy="116.2"/><circle cx="348.2" cy="116.2"/><circle cx="353.3" cy="116.2"/><circle cx="332.9" cy="120"/><circle cx="343.1" cy="120"/><circle cx="348.2" cy="120"/><circle cx="353.3" cy="120"/><circle cx="345.7" cy="127.7"/><circle cx="340.6" cy="131.5"/><circle cx="358.4" cy="135.3"/><circle cx="327.8" cy="139.1"/><circle cx="330" cy="139.1"/><circle cx="332.1" cy="139.1"/><circle cx="349.3" cy="139.1"/><circle cx="351.5" cy="139.1"/><circle cx="353.6" cy="139.1"/><circle cx="355.8" cy="139.1"/><circle cx="357.9" cy="139.1"/><circle cx="362.2" cy="139.1"/><circle cx="364.3" cy="139.1"/><circle cx="366.5" cy="139.1"/><circle cx="372.9" cy="139.1"/><circle cx="345.7" cy="142.9"/><circle cx="350.8" cy="142.9"/><circle cx="348.2" cy="146.7"/><circle cx="348.2" cy="150.5"/><circle cx="343.1" cy="154.3"/><circle cx="348.2" cy="154.3"/><circle cx="353.3" cy="154.3"/><circle cx="332.9" cy="158.1"/><circle cx="338" cy="158.1"/><circle cx="343.1" cy="158.1"/><circle cx="348.2" cy="158.1"/><circle cx="353.3" cy="158.1"/><circle cx="358.4" cy="158.1"/><circle cx="348.2" cy="161.9"/><circle cx="353.3" cy="169.5"/><circle cx="325.3" cy="177.1"/><circle cx="330.4" cy="177.1"/><circle cx="350.8" cy="177.1"/><circle cx="355.9" cy="177.1"/><circle cx="361" cy="177.1"/><circle cx="366.1" cy="177.1"/><circle cx="371.2" cy="177.1"/><circle cx="340.6" cy="196.1"/><circle cx="345.7" cy="196.1"/><circle cx="350.8" cy="196.1"/><circle cx="355.9" cy="196.1"/><circle cx="345.7" cy="207.5"/><circle cx="350.8" cy="207.5"/><circle cx="340.6" cy="215.1"/><circle cx="345.7" cy="215.1"/><circle cx="350.8" cy="215.1"/><circle cx="355.9" cy="215.1"/><circle cx="348.2" cy="218.9"/><circle cx="348.2" cy="234.1"/><circle cx="348.2" cy="245.5"/><circle cx="343.1" cy="249.3"/><circle cx="348.2" cy="249.3"/><circle cx="353.3" cy="249.3"/><circle cx="325.3" cy="253.2"/><circle cx="330.4" cy="253.2"/><circle cx="335.5" cy="253.2"/><circle cx="340.6" cy="253.2"/><circle cx="345.7" cy="253.2"/><circle cx="350.8" cy="253.2"/><circle cx="355.9" cy="253.2"/><circle cx="361" cy="253.2"/><circle cx="366.1" cy="253.2"/><circle cx="371.2" cy="253.2"/><circle cx="348.2" cy="272.2"/><circle cx="343.1" cy="291.2"/><circle cx="348.2" cy="291.2"/><circle cx="353.3" cy="291.2"/><circle cx="345.7" cy="310.2"/><circle cx="350.8" cy="310.2"/><circle cx="332.9" cy="329.2"/><circle cx="338" cy="329.2"/><circle cx="343.1" cy="329.2"/><circle cx="348.2" cy="329.2"/><circle cx="353.3" cy="329.2"/><circle cx="358.4" cy="329.2"/><circle cx="363.5" cy="329.2"/><circle cx="348.2" cy="348.2"/><circle cx="343.1" cy="367.2"/><circle cx="348.2" cy="367.2"/><circle cx="353.3" cy="367.2"/><circle cx="348.2" cy="374.8"/><circle cx="345.7" cy="405.3"/><circle cx="350.8" cy="405.3"/><circle cx="345.7" cy="443.3"/><circle cx="350.8" cy="443.3"/><circle cx="430.2" cy="63"/><circle cx="392" cy="82"/><circle cx="397.1" cy="82"/><circle cx="422.6" cy="85.8"/><circle cx="392" cy="101"/><circle cx="397.1" cy="101"/><circle cx="409.8" cy="112.4"/><circle cx="402.2" cy="116.2"/><circle cx="417.5" cy="116.2"/><circle cx="422.6" cy="116.2"/><circle cx="407.3" cy="120"/><circle cx="412.4" cy="120"/><circle cx="417.5" cy="120"/><circle cx="422.6" cy="120"/><circle cx="409.8" cy="123.8"/><circle cx="414.9" cy="123.8"/><circle cx="387.7" cy="139.1"/><circle cx="407.4" cy="139.1"/><circle cx="423.9" cy="139.1"/><circle cx="427.2" cy="139.1"/><circle cx="430.5" cy="139.1"/><circle cx="433.8" cy="139.1"/><circle cx="437.1" cy="139.1"/><circle cx="417.5" cy="146.7"/><circle cx="414.9" cy="150.5"/><circle cx="407.3" cy="154.3"/><circle cx="412.4" cy="154.3"/><circle cx="417.5" cy="154.3"/><circle cx="407.3" cy="161.9"/><circle cx="412.4" cy="161.9"/><circle cx="417.5" cy="161.9"/><circle cx="422.6" cy="161.9"/><circle cx="414.9" cy="165.7"/><circle cx="402.2" cy="169.5"/><circle cx="407.3" cy="169.5"/><circle cx="417.5" cy="169.5"/><circle cx="422.6" cy="169.5"/><circle cx="417.5" cy="173.3"/><circle cx="387.7" cy="177.1"/><circle cx="400.7" cy="177.1"/><circle cx="424.1" cy="177.1"/><circle cx="426.7" cy="177.1"/><circle cx="429.3" cy="177.1"/><circle cx="412.4" cy="180.9"/><circle cx="409.8" cy="184.7"/><circle cx="414.9" cy="184.7"/><circle cx="412.4" cy="188.5"/><circle cx="414.9" cy="192.3"/><circle cx="404.7" cy="196.1"/><circle cx="409.8" cy="196.1"/><circle cx="414.9" cy="196.1"/><circle cx="420" cy="196.1"/><circle cx="404.7" cy="199.9"/><circle cx="409.8" cy="199.9"/><circle cx="414.9" cy="199.9"/><circle cx="420" cy="199.9"/><circle cx="414.9" cy="203.7"/><circle cx="409.8" cy="207.5"/><circle cx="407.3" cy="211.3"/><circle cx="412.4" cy="211.3"/><circle cx="417.5" cy="211.3"/><circle cx="387.7" cy="215.1"/><circle cx="391" cy="215.1"/><circle cx="394.2" cy="215.1"/><circle cx="400.8" cy="215.1"/><circle cx="404.1" cy="215.1"/><circle cx="407.4" cy="215.1"/><circle cx="410.7" cy="215.1"/><circle cx="414" cy="215.1"/><circle cx="417.3" cy="215.1"/><circle cx="420.6" cy="215.1"/><circle cx="423.9" cy="215.1"/><circle cx="409.8" cy="222.7"/><circle cx="409.8" cy="230.3"/><circle cx="414.9" cy="230.3"/><circle cx="404.7" cy="234.1"/><circle cx="409.8" cy="234.1"/><circle cx="414.9" cy="234.1"/><circle cx="420" cy="234.1"/><circle cx="412.4" cy="249.3"/><circle cx="392" cy="253.2"/><circle cx="397.1" cy="253.2"/><circle cx="402.2" cy="253.2"/><circle cx="407.3" cy="253.2"/><circle cx="412.4" cy="253.2"/><circle cx="417.5" cy="253.2"/><circle cx="422.6" cy="253.2"/><circle cx="427.7" cy="253.2"/><circle cx="432.8" cy="253.2"/><circle cx="412.4" cy="257"/><circle cx="412.4" cy="264.6"/><circle cx="412.4" cy="268.4"/><circle cx="409.8" cy="272.2"/><circle cx="414.9" cy="272.2"/><circle cx="407.3" cy="276"/><circle cx="412.4" cy="276"/><circle cx="417.5" cy="276"/><circle cx="397.1" cy="291.2"/><circle cx="402.2" cy="291.2"/><circle cx="407.3" cy="291.2"/><circle cx="417.5" cy="291.2"/><circle cx="422.6" cy="291.2"/><circle cx="409.8" cy="295"/><circle cx="414.9" cy="295"/><circle cx="399.6" cy="329.2"/><circle cx="404.7" cy="329.2"/><circle cx="409.8" cy="329.2"/><circle cx="414.9" cy="329.2"/><circle cx="420" cy="329.2"/><circle cx="425.1" cy="329.2"/><circle cx="409.8" cy="333"/><circle cx="414.9" cy="333"/><circle cx="412.4" cy="340.6"/><circle cx="402.2" cy="348.2"/><circle cx="412.4" cy="348.2"/><circle cx="417.5" cy="348.2"/><circle cx="422.6" cy="348.2"/><circle cx="404.7" cy="367.2"/><circle cx="409.8" cy="367.2"/><circle cx="414.9" cy="367.2"/><circle cx="420" cy="367.2"/><circle cx="412.4" cy="371"/><circle cx="412.4" cy="386.3"/><circle cx="412.4" cy="393.9"/><circle cx="412.4" cy="401.5"/><circle cx="412.4" cy="405.3"/><circle cx="412.4" cy="409.1"/><circle cx="412.4" cy="424.3"/><circle cx="412.4" cy="428.1"/><circle cx="409.8" cy="443.3"/><circle cx="414.9" cy="443.3"/><circle cx="466.3" cy="63"/><circle cx="473.9" cy="127.7"/><circle cx="479" cy="127.7"/><circle cx="484.1" cy="154.3"/><circle cx="461.2" cy="158.1"/><circle cx="466.3" cy="158.1"/><circle cx="471.4" cy="158.1"/><circle cx="479" cy="165.7"/><circle cx="481.6" cy="169.5"/><circle cx="458.6" cy="177.1"/><circle cx="463.7" cy="177.1"/><circle cx="468.8" cy="177.1"/><circle cx="473.9" cy="177.1"/><circle cx="479" cy="177.1"/><circle cx="494.3" cy="177.1"/><circle cx="499.4" cy="177.1"/><circle cx="473.9" cy="184.7"/><circle cx="479" cy="184.7"/><circle cx="468.8" cy="199.9"/><circle cx="473.9" cy="199.9"/><circle cx="479" cy="199.9"/><circle cx="484.1" cy="199.9"/><circle cx="481.6" cy="203.7"/><circle cx="486.7" cy="207.5"/><circle cx="476.5" cy="211.3"/><circle cx="481.6" cy="211.3"/><circle cx="486.7" cy="211.3"/><circle cx="491.8" cy="211.3"/><circle cx="451.8" cy="215.1"/><circle cx="454.1" cy="215.1"/><circle cx="456.5" cy="215.1"/><circle cx="458.8" cy="215.1"/><circle cx="461.2" cy="215.1"/><circle cx="463.5" cy="215.1"/><circle cx="475.3" cy="215.1"/><circle cx="477.7" cy="215.1"/><circle cx="480" cy="215.1"/><circle cx="482.4" cy="215.1"/><circle cx="484.7" cy="215.1"/><circle cx="473.9" cy="222.7"/><circle cx="479" cy="222.7"/><circle cx="476.5" cy="237.9"/><circle cx="465.9" cy="253.2"/><circle cx="469.4" cy="253.2"/><circle cx="473" cy="253.2"/><circle cx="476.5" cy="253.2"/><circle cx="480" cy="253.2"/><circle cx="483.5" cy="253.2"/><circle cx="487.1" cy="253.2"/><circle cx="494.1" cy="253.2"/><circle cx="497.7" cy="253.2"/><circle cx="501.2" cy="253.2"/><circle cx="473.9" cy="260.8"/><circle cx="479" cy="260.8"/><circle cx="476.5" cy="264.6"/><circle cx="468.8" cy="272.2"/><circle cx="473.9" cy="272.2"/><circle cx="479" cy="272.2"/><circle cx="484.1" cy="272.2"/><circle cx="476.5" cy="279.8"/><circle cx="468.8" cy="291.2"/><circle cx="468.8" cy="295"/><circle cx="473.9" cy="295"/><circle cx="479" cy="295"/><circle cx="484.1" cy="295"/><circle cx="471.4" cy="302.6"/><circle cx="476.5" cy="302.6"/><circle cx="481.6" cy="302.6"/><circle cx="473.9" cy="306.4"/><circle cx="479" cy="306.4"/><circle cx="479" cy="310.2"/><circle cx="476.5" cy="317.8"/><circle cx="473.9" cy="321.6"/><circle cx="479" cy="321.6"/><circle cx="479" cy="325.4"/><circle cx="484.1" cy="325.4"/><circle cx="463.7" cy="329.2"/><circle cx="468.8" cy="329.2"/><circle cx="473.9" cy="329.2"/><circle cx="479" cy="329.2"/><circle cx="484.1" cy="329.2"/><circle cx="489.2" cy="329.2"/><circle cx="468.8" cy="333"/><circle cx="473.9" cy="333"/><circle cx="479" cy="333"/><circle cx="484.1" cy="333"/><circle cx="471.4" cy="336.8"/><circle cx="476.5" cy="336.8"/><circle cx="481.6" cy="336.8"/><circle cx="468.8" cy="348.2"/><circle cx="473.9" cy="348.2"/><circle cx="479" cy="348.2"/><circle cx="484.1" cy="348.2"/><circle cx="473.9" cy="355.8"/><circle cx="479" cy="355.8"/><circle cx="471.4" cy="367.2"/><circle cx="476.5" cy="367.2"/><circle cx="481.6" cy="367.2"/><circle cx="476.5" cy="378.6"/><circle cx="476.5" cy="386.3"/><circle cx="471.4" cy="401.5"/><circle cx="476.5" cy="401.5"/><circle cx="481.6" cy="401.5"/><circle cx="463.7" cy="405.3"/><circle cx="473.9" cy="405.3"/><circle cx="479" cy="405.3"/><circle cx="484.1" cy="405.3"/><circle cx="489.2" cy="405.3"/><circle cx="471.4" cy="412.9"/><circle cx="476.5" cy="412.9"/><circle cx="481.6" cy="412.9"/><circle cx="473.9" cy="443.3"/><circle cx="479" cy="443.3"/><circle cx="527.9" cy="63"/><circle cx="533" cy="63"/><circle cx="538.1" cy="63"/><circle cx="535.5" cy="78.2"/><circle cx="540.6" cy="78.2"/><circle cx="545.7" cy="78.2"/><circle cx="533" cy="93.4"/><circle cx="538.1" cy="93.4"/><circle cx="543.2" cy="93.4"/><circle cx="535.5" cy="112.4"/><circle cx="545.7" cy="112.4"/><circle cx="535.5" cy="116.2"/><circle cx="540.6" cy="116.2"/><circle cx="545.7" cy="116.2"/><circle cx="543.1" cy="120"/><circle cx="548.2" cy="120"/><circle cx="553.4" cy="120"/><circle cx="533" cy="127.7"/><circle cx="538.1" cy="127.7"/><circle cx="544.5" cy="139.1"/><circle cx="547.1" cy="139.1"/><circle cx="549.7" cy="139.1"/><circle cx="552.3" cy="139.1"/><circle cx="554.9" cy="139.1"/><circle cx="557.5" cy="139.1"/><circle cx="560.1" cy="139.1"/><circle cx="562.7" cy="139.1"/><circle cx="538.1" cy="154.3"/><circle cx="543.2" cy="154.3"/><circle cx="530.4" cy="158.1"/><circle cx="545.7" cy="158.1"/><circle cx="550.8" cy="158.1"/><circle cx="555.9" cy="158.1"/><circle cx="561" cy="158.1"/><circle cx="515.9" cy="177.1"/><circle cx="550.1" cy="177.1"/><circle cx="553.9" cy="177.1"/><circle cx="557.7" cy="177.1"/><circle cx="535.5" cy="184.7"/><circle cx="540.6" cy="184.7"/><circle cx="545.7" cy="184.7"/><circle cx="538.1" cy="203.7"/><circle cx="543.2" cy="203.7"/><circle cx="535.5" cy="207.5"/><circle cx="540.6" cy="207.5"/><circle cx="545.7" cy="207.5"/><circle cx="538.1" cy="211.3"/><circle cx="543.2" cy="211.3"/><circle cx="548.2" cy="211.3"/><circle cx="520.2" cy="215.1"/><circle cx="525.3" cy="215.1"/><circle cx="530.4" cy="215.1"/><circle cx="535.5" cy="215.1"/><circle cx="561" cy="215.1"/><circle cx="535.5" cy="218.9"/><circle cx="540.6" cy="218.9"/><circle cx="545.7" cy="218.9"/><circle cx="538.1" cy="230.3"/><circle cx="543.2" cy="230.3"/><circle cx="530.4" cy="234.1"/><circle cx="535.5" cy="234.1"/><circle cx="540.6" cy="234.1"/><circle cx="538.1" cy="237.9"/><circle cx="543.2" cy="237.9"/><circle cx="515.9" cy="253.2"/><circle cx="518.3" cy="253.2"/><circle cx="520.6" cy="253.2"/><circle cx="523" cy="253.2"/><circle cx="525.3" cy="253.2"/><circle cx="527.7" cy="253.2"/><circle cx="530" cy="253.2"/><circle cx="532.4" cy="253.2"/><circle cx="534.7" cy="253.2"/><circle cx="537.1" cy="253.2"/><circle cx="539.4" cy="253.2"/><circle cx="553.5" cy="253.2"/><circle cx="555.9" cy="253.2"/><circle cx="558.2" cy="253.2"/><circle cx="560.6" cy="253.2"/><circle cx="562.9" cy="253.2"/><circle cx="565.3" cy="253.2"/><circle cx="538.1" cy="257"/><circle cx="543.2" cy="257"/><circle cx="540.6" cy="268.4"/><circle cx="545.7" cy="291.2"/><circle cx="550.8" cy="291.2"/><circle cx="535.5" cy="295"/><circle cx="540.6" cy="295"/><circle cx="545.7" cy="295"/><circle cx="538.1" cy="298.8"/><circle cx="543.2" cy="298.8"/><circle cx="538.1" cy="302.6"/><circle cx="543.2" cy="302.6"/><circle cx="535.5" cy="306.4"/><circle cx="540.6" cy="306.4"/><circle cx="545.7" cy="306.4"/><circle cx="538.1" cy="310.2"/><circle cx="543.2" cy="310.2"/><circle cx="535.5" cy="325.4"/><circle cx="540.6" cy="325.4"/><circle cx="545.7" cy="325.4"/><circle cx="527.9" cy="329.2"/><circle cx="533" cy="329.2"/><circle cx="538.1" cy="329.2"/><circle cx="543.1" cy="329.2"/><circle cx="548.2" cy="329.2"/><circle cx="553.4" cy="329.2"/><circle cx="535.5" cy="333"/><circle cx="540.6" cy="333"/><circle cx="545.7" cy="333"/><circle cx="540.6" cy="336.8"/><circle cx="540.6" cy="340.6"/><circle cx="535.5" cy="348.2"/><circle cx="540.6" cy="348.2"/><circle cx="545.7" cy="348.2"/><circle cx="538.1" cy="359.6"/><circle cx="543.2" cy="359.6"/><circle cx="548.2" cy="359.6"/><circle cx="522.8" cy="367.2"/><circle cx="527.9" cy="367.2"/><circle cx="533" cy="367.2"/><circle cx="538" cy="367.2"/><circle cx="543.1" cy="367.2"/><circle cx="548.2" cy="367.2"/><circle cx="553.4" cy="367.2"/><circle cx="558.5" cy="367.2"/><circle cx="535.5" cy="378.6"/><circle cx="540.6" cy="378.6"/><circle cx="545.7" cy="378.6"/><circle cx="538.1" cy="382.5"/><circle cx="540.6" cy="390.1"/><circle cx="538.1" cy="393.9"/><circle cx="543.2" cy="393.9"/><circle cx="540.6" cy="405.3"/><circle cx="540.6" cy="409.1"/><circle cx="540.6" cy="412.9"/><circle cx="540.6" cy="416.7"/><circle cx="527.9" cy="443.3"/><circle cx="533" cy="443.3"/><circle cx="538.1" cy="443.3"/><circle cx="543.1" cy="443.3"/><circle cx="548.2" cy="443.3"/><circle cx="553.4" cy="443.3"/><circle cx="608.8" cy="63"/><circle cx="593.5" cy="82"/><circle cx="598.6" cy="82"/><circle cx="588.4" cy="101"/><circle cx="590.9" cy="120"/><circle cx="596" cy="120"/><circle cx="601.1" cy="120"/><circle cx="606.2" cy="120"/><circle cx="611.3" cy="120"/><circle cx="616.4" cy="120"/><circle cx="598.6" cy="127.7"/><circle cx="603.7" cy="127.7"/><circle cx="585.8" cy="139.1"/><circle cx="601.1" cy="158.1"/><circle cx="611.3" cy="158.1"/><circle cx="616.4" cy="158.1"/><circle cx="621.5" cy="158.1"/><circle cx="606.2" cy="165.7"/><circle cx="603.7" cy="173.3"/><circle cx="608.8" cy="173.3"/><circle cx="613.9" cy="173.3"/><circle cx="619" cy="173.3"/><circle cx="590.6" cy="177.1"/><circle cx="592.5" cy="177.1"/><circle cx="599.8" cy="177.1"/><circle cx="601.6" cy="177.1"/><circle cx="603.5" cy="177.1"/><circle cx="605.3" cy="177.1"/><circle cx="607.1" cy="177.1"/><circle cx="608.9" cy="177.1"/><circle cx="610.8" cy="177.1"/><circle cx="612.6" cy="177.1"/><circle cx="614.4" cy="177.1"/><circle cx="625.4" cy="177.1"/><circle cx="627.2" cy="177.1"/><circle cx="629.1" cy="177.1"/><circle cx="598.6" cy="196.1"/><circle cx="608.8" cy="196.1"/><circle cx="601.1" cy="211.3"/><circle cx="606.2" cy="211.3"/><circle cx="584.9" cy="215.1"/><circle cx="586.6" cy="215.1"/><circle cx="588.3" cy="215.1"/><circle cx="590" cy="215.1"/><circle cx="591.7" cy="215.1"/><circle cx="593.4" cy="215.1"/><circle cx="600.2" cy="215.1"/><circle cx="607.1" cy="215.1"/><circle cx="608.8" cy="215.1"/><circle cx="601.1" cy="218.9"/><circle cx="606.2" cy="218.9"/><circle cx="611.3" cy="218.9"/><circle cx="611.3" cy="222.7"/><circle cx="603.7" cy="226.5"/><circle cx="608.8" cy="226.5"/><circle cx="598.6" cy="245.5"/><circle cx="596" cy="249.3"/><circle cx="611.3" cy="249.3"/><circle cx="581.5" cy="253.2"/><circle cx="584.7" cy="253.2"/><circle cx="586.3" cy="253.2"/><circle cx="587.9" cy="253.2"/><circle cx="589.5" cy="253.2"/><circle cx="591.1" cy="253.2"/><circle cx="592.7" cy="253.2"/><circle cx="594.2" cy="253.2"/><circle cx="595.8" cy="253.2"/><circle cx="597.4" cy="253.2"/><circle cx="599" cy="253.2"/><circle cx="600.6" cy="253.2"/><circle cx="602.2" cy="253.2"/><circle cx="603.8" cy="253.2"/><circle cx="605.4" cy="253.2"/><circle cx="611.8" cy="253.2"/><circle cx="616.6" cy="253.2"/><circle cx="618.2" cy="253.2"/><circle cx="619.7" cy="253.2"/><circle cx="621.3" cy="253.2"/><circle cx="622.9" cy="253.2"/><circle cx="624.5" cy="253.2"/><circle cx="626.1" cy="253.2"/><circle cx="627.7" cy="253.2"/><circle cx="629.3" cy="253.2"/><circle cx="630.9" cy="253.2"/><circle cx="601.1" cy="257"/><circle cx="606.2" cy="257"/><circle cx="611.3" cy="257"/><circle cx="596" cy="272.2"/><circle cx="601.1" cy="272.2"/><circle cx="606.2" cy="272.2"/><circle cx="611.3" cy="272.2"/><circle cx="616.4" cy="272.2"/><circle cx="603.7" cy="279.8"/><circle cx="608.8" cy="279.8"/><circle cx="583.2" cy="291.2"/><circle cx="588.4" cy="291.2"/><circle cx="593.5" cy="291.2"/><circle cx="598.5" cy="291.2"/><circle cx="603.6" cy="291.2"/><circle cx="608.8" cy="291.2"/><circle cx="613.9" cy="291.2"/><circle cx="619" cy="291.2"/><circle cx="624" cy="291.2"/><circle cx="629.1" cy="291.2"/><circle cx="598.6" cy="295"/><circle cx="613.9" cy="295"/><circle cx="606.2" cy="298.8"/><circle cx="596" cy="310.2"/><circle cx="601.1" cy="310.2"/><circle cx="606.2" cy="310.2"/><circle cx="601.1" cy="314"/><circle cx="606.2" cy="314"/><circle cx="611.3" cy="314"/><circle cx="603.7" cy="321.6"/><circle cx="608.8" cy="321.6"/><circle cx="603.7" cy="325.4"/><circle cx="608.8" cy="325.4"/><circle cx="581.5" cy="329.2"/><circle cx="585.3" cy="329.2"/><circle cx="589.1" cy="329.2"/><circle cx="592.9" cy="329.2"/><circle cx="596.7" cy="329.2"/><circle cx="600.5" cy="329.2"/><circle cx="604.3" cy="329.2"/><circle cx="608.1" cy="329.2"/><circle cx="611.9" cy="329.2"/><circle cx="615.7" cy="329.2"/><circle cx="619.5" cy="329.2"/><circle cx="623.3" cy="329.2"/><circle cx="627.1" cy="329.2"/><circle cx="630.9" cy="329.2"/><circle cx="606.2" cy="333"/><circle cx="603.7" cy="336.8"/><circle cx="608.8" cy="336.8"/><circle cx="606.2" cy="340.6"/><circle cx="606.2" cy="344.4"/><circle cx="593.5" cy="348.2"/><circle cx="598.6" cy="348.2"/><circle cx="603.7" cy="348.2"/><circle cx="603.7" cy="352"/><circle cx="608.8" cy="352"/><circle cx="606.2" cy="359.6"/><circle cx="588.4" cy="367.2"/><circle cx="593.5" cy="367.2"/><circle cx="598.6" cy="367.2"/><circle cx="603.6" cy="367.2"/><circle cx="608.8" cy="367.2"/><circle cx="613.9" cy="367.2"/><circle cx="619" cy="367.2"/><circle cx="624.1" cy="367.2"/><circle cx="601.1" cy="371"/><circle cx="606.2" cy="371"/><circle cx="611.3" cy="371"/><circle cx="606.2" cy="374.8"/><circle cx="608.8" cy="386.3"/><circle cx="606.2" cy="390.1"/><circle cx="606.2" cy="397.7"/><circle cx="593.5" cy="405.3"/><circle cx="598.6" cy="405.3"/><circle cx="603.7" cy="405.3"/><circle cx="608.8" cy="405.3"/><circle cx="613.9" cy="405.3"/><circle cx="601.1" cy="409.1"/><circle cx="606.2" cy="409.1"/><circle cx="611.3" cy="409.1"/><circle cx="606.2" cy="416.7"/><circle cx="606.2" cy="424.3"/><circle cx="603.7" cy="428.1"/><circle cx="608.8" cy="428.1"/><circle cx="606.2" cy="439.5"/><circle cx="583.2" cy="443.3"/><circle cx="588.4" cy="443.3"/><circle cx="593.5" cy="443.3"/><circle cx="598.5" cy="443.3"/><circle cx="603.6" cy="443.3"/><circle cx="608.8" cy="443.3"/><circle cx="613.9" cy="443.3"/><circle cx="619" cy="443.3"/><circle cx="624" cy="443.3"/><circle cx="629.1" cy="443.3"/><circle cx="675.5" cy="97.2"/><circle cx="657.6" cy="101"/><circle cx="675.5" cy="116.2"/><circle cx="665.3" cy="131.5"/><circle cx="670.4" cy="131.5"/><circle cx="685.2" cy="139.1"/><circle cx="690.1" cy="139.1"/><circle cx="687.5" cy="177.1"/><circle cx="691.3" cy="177.1"/><circle cx="695.1" cy="177.1"/><circle cx="667.8" cy="196.1"/><circle cx="672.9" cy="196.1"/><circle cx="678" cy="196.1"/><circle cx="683.1" cy="196.1"/><circle cx="662.7" cy="203.7"/><circle cx="667.8" cy="203.7"/><circle cx="672.9" cy="203.7"/><circle cx="678" cy="203.7"/><circle cx="657.6" cy="211.3"/><circle cx="667.8" cy="211.3"/><circle cx="672.9" cy="211.3"/><circle cx="678" cy="211.3"/><circle cx="683.1" cy="211.3"/><circle cx="652.5" cy="215.1"/><circle cx="672.9" cy="215.1"/><circle cx="678" cy="215.1"/><circle cx="683.1" cy="215.1"/><circle cx="688.2" cy="215.1"/><circle cx="693.3" cy="215.1"/><circle cx="660.2" cy="218.9"/><circle cx="665.3" cy="218.9"/><circle cx="670.4" cy="218.9"/><circle cx="675.5" cy="218.9"/><circle cx="680.6" cy="218.9"/><circle cx="667.8" cy="234.1"/><circle cx="672.9" cy="234.1"/><circle cx="678" cy="234.1"/><circle cx="667.8" cy="245.5"/><circle cx="672.9" cy="245.5"/><circle cx="647.4" cy="253.2"/><circle cx="652.5" cy="253.2"/><circle cx="657.6" cy="253.2"/><circle cx="662.7" cy="253.2"/><circle cx="667.8" cy="253.2"/><circle cx="672.9" cy="253.2"/><circle cx="678" cy="253.2"/><circle cx="683.1" cy="253.2"/><circle cx="688.2" cy="253.2"/><circle cx="693.3" cy="253.2"/><circle cx="670.4" cy="272.2"/><circle cx="670.4" cy="276"/><circle cx="670.4" cy="279.8"/><circle cx="667.8" cy="283.6"/><circle cx="672.9" cy="283.6"/><circle cx="665.3" cy="287.4"/><circle cx="670.4" cy="287.4"/><circle cx="675.5" cy="287.4"/><circle cx="652.5" cy="291.2"/><circle cx="657.6" cy="291.2"/><circle cx="662.7" cy="291.2"/><circle cx="667.8" cy="291.2"/><circle cx="672.9" cy="291.2"/><circle cx="678" cy="291.2"/><circle cx="683.1" cy="291.2"/><circle cx="665.3" cy="295"/><circle cx="670.4" cy="298.8"/><circle cx="670.4" cy="306.4"/><circle cx="667.8" cy="310.2"/><circle cx="672.9" cy="310.2"/><circle cx="667.8" cy="314"/><circle cx="672.9" cy="314"/><circle cx="665.3" cy="317.8"/><circle cx="670.4" cy="317.8"/><circle cx="670.4" cy="321.6"/><circle cx="652.5" cy="329.2"/><circle cx="657.6" cy="329.2"/><circle cx="662.7" cy="329.2"/><circle cx="667.8" cy="329.2"/><circle cx="672.9" cy="329.2"/><circle cx="678" cy="329.2"/><circle cx="683.1" cy="329.2"/><circle cx="688.2" cy="329.2"/><circle cx="667.8" cy="333"/><circle cx="672.9" cy="333"/><circle cx="667.8" cy="340.6"/><circle cx="672.9" cy="340.6"/><circle cx="670.4" cy="348.2"/><circle cx="670.4" cy="355.8"/><circle cx="670.4" cy="363.4"/><circle cx="670.4" cy="367.2"/><circle cx="667.8" cy="386.3"/><circle cx="672.9" cy="386.3"/><circle cx="670.4" cy="390.1"/><circle cx="667.8" cy="405.3"/><circle cx="672.9" cy="405.3"/><circle cx="670.4" cy="409.1"/><circle cx="670.4" cy="412.9"/><circle cx="670.4" cy="439.5"/><circle cx="660.2" cy="443.3"/><circle cx="665.3" cy="443.3"/><circle cx="670.4" cy="443.3"/><circle cx="675.5" cy="443.3"/><circle cx="680.6" cy="443.3"/><circle cx="751.6" cy="82"/><circle cx="755.4" cy="82"/><circle cx="716.3" cy="101"/><circle cx="718.4" cy="101"/><circle cx="737.1" cy="169.5"/><circle cx="742.2" cy="169.5"/><circle cx="732" cy="192.3"/><circle cx="734.5" cy="211.3"/><circle cx="734.5" cy="218.9"/><circle cx="732" cy="234.1"/><circle cx="737.1" cy="234.1"/><circle cx="729.4" cy="249.3"/><circle cx="734.5" cy="249.3"/><circle cx="739.6" cy="249.3"/><circle cx="711.6" cy="253.2"/><circle cx="716.7" cy="253.2"/><circle cx="721.8" cy="253.2"/><circle cx="726.9" cy="253.2"/><circle cx="732" cy="253.2"/><circle cx="742.2" cy="253.2"/><circle cx="734.5" cy="276"/><circle cx="729.4" cy="291.2"/><circle cx="734.5" cy="291.2"/><circle cx="739.6" cy="291.2"/><circle cx="732" cy="295"/><circle cx="737.1" cy="295"/><circle cx="737.1" cy="310.2"/><circle cx="734.5" cy="314"/><circle cx="734.5" cy="317.8"/><circle cx="744.7" cy="329.2"/><circle cx="749.8" cy="329.2"/><circle cx="732" cy="336.8"/><circle cx="737.1" cy="336.8"/><circle cx="732" cy="340.6"/><circle cx="737.1" cy="340.6"/><circle cx="724.3" cy="348.2"/><circle cx="729.4" cy="348.2"/><circle cx="734.5" cy="348.2"/><circle cx="739.6" cy="348.2"/><circle cx="732" cy="355.8"/><circle cx="737.1" cy="355.8"/><circle cx="729.4" cy="363.4"/><circle cx="734.5" cy="363.4"/><circle cx="739.6" cy="363.4"/><circle cx="719.2" cy="367.2"/><circle cx="724.3" cy="367.2"/><circle cx="729.4" cy="367.2"/><circle cx="734.5" cy="367.2"/><circle cx="749.8" cy="367.2"/><circle cx="729.4" cy="371"/><circle cx="734.5" cy="371"/><circle cx="739.6" cy="371"/><circle cx="734.5" cy="378.6"/><circle cx="734.5" cy="382.5"/><circle cx="726.9" cy="386.3"/><circle cx="732" cy="386.3"/><circle cx="737.1" cy="386.3"/><circle cx="742.2" cy="386.3"/><circle cx="732" cy="393.9"/><circle cx="737.1" cy="393.9"/><circle cx="729.4" cy="401.5"/><circle cx="734.5" cy="401.5"/><circle cx="739.6" cy="401.5"/><circle cx="716.7" cy="405.3"/><circle cx="721.8" cy="405.3"/><circle cx="726.9" cy="405.3"/><circle cx="732" cy="405.3"/><circle cx="737.1" cy="405.3"/><circle cx="742.2" cy="405.3"/><circle cx="747.3" cy="405.3"/><circle cx="752.4" cy="405.3"/><circle cx="729.4" cy="409.1"/><circle cx="734.5" cy="409.1"/><circle cx="739.6" cy="409.1"/><circle cx="732" cy="412.9"/><circle cx="737.1" cy="412.9"/><circle cx="734.5" cy="420.5"/><circle cx="714.1" cy="424.3"/><circle cx="719.2" cy="424.3"/><circle cx="724.3" cy="424.3"/><circle cx="729.4" cy="424.3"/><circle cx="734.5" cy="424.3"/><circle cx="739.6" cy="424.3"/><circle cx="744.7" cy="424.3"/><circle cx="749.8" cy="424.3"/><circle cx="754.9" cy="424.3"/><circle cx="734.5" cy="428.1"/><circle cx="729.4" cy="431.9"/><circle cx="734.5" cy="431.9"/><circle cx="739.6" cy="431.9"/><circle cx="734.5" cy="435.7"/><circle cx="732" cy="439.5"/><circle cx="737.1" cy="439.5"/><circle cx="709.8" cy="443.3"/><circle cx="711.4" cy="443.3"/><circle cx="713" cy="443.3"/><circle cx="714.6" cy="443.3"/><circle cx="716.2" cy="443.3"/><circle cx="717.8" cy="443.3"/><circle cx="719.4" cy="443.3"/><circle cx="721" cy="443.3"/><circle cx="724.2" cy="443.3"/><circle cx="725.8" cy="443.3"/><circle cx="727.3" cy="443.3"/><circle cx="728.9" cy="443.3"/><circle cx="730.5" cy="443.3"/><circle cx="732.1" cy="443.3"/><circle cx="733.7" cy="443.3"/><circle cx="735.3" cy="443.3"/><circle cx="736.9" cy="443.3"/><circle cx="738.5" cy="443.3"/><circle cx="740.1" cy="443.3"/><circle cx="741.7" cy="443.3"/><circle cx="743.3" cy="443.3"/><circle cx="744.9" cy="443.3"/><circle cx="746.5" cy="443.3"/><circle cx="748.1" cy="443.3"/><circle cx="749.7" cy="443.3"/><circle cx="751.3" cy="443.3"/><circle cx="752.8" cy="443.3"/><circle cx="754.4" cy="443.3"/><circle cx="756" cy="443.3"/><circle cx="757.6" cy="443.3"/><circle cx="759.2" cy="443.3"/><circle cx="780.4" cy="63"/><circle cx="791.2" cy="63"/><circle cx="808.3" cy="63"/><circle cx="810.5" cy="63"/><circle cx="812.6" cy="63"/><circle cx="803.8" cy="82"/><circle cx="798.7" cy="85.8"/><circle cx="803.8" cy="85.8"/><circle cx="788.5" cy="97.2"/><circle cx="793.6" cy="97.2"/><circle cx="783.4" cy="101"/><circle cx="788.5" cy="101"/><circle cx="801.2" cy="112.4"/><circle cx="796.1" cy="116.2"/><circle cx="796.1" cy="127.7"/><circle cx="801.2" cy="127.7"/><circle cx="791" cy="135.3"/><circle cx="796.1" cy="135.3"/><circle cx="801.2" cy="139.1"/><circle cx="806.3" cy="139.1"/><circle cx="811.4" cy="139.1"/><circle cx="816.5" cy="139.1"/><circle cx="798.7" cy="146.7"/><circle cx="796.1" cy="150.5"/><circle cx="801.2" cy="150.5"/><circle cx="796.1" cy="165.7"/><circle cx="801.2" cy="165.7"/><circle cx="801.2" cy="173.3"/><circle cx="792.2" cy="177.1"/><circle cx="794.8" cy="177.1"/><circle cx="796.1" cy="184.7"/><circle cx="801.2" cy="184.7"/><circle cx="801.2" cy="192.3"/><circle cx="793.6" cy="196.1"/><circle cx="798.7" cy="196.1"/><circle cx="803.8" cy="196.1"/><circle cx="796.1" cy="207.5"/><circle cx="801.2" cy="207.5"/><circle cx="784.6" cy="215.1"/><circle cx="788.1" cy="215.1"/><circle cx="791.6" cy="215.1"/><circle cx="809.3" cy="215.1"/><circle cx="812.8" cy="215.1"/><circle cx="816.3" cy="215.1"/><circle cx="796.1" cy="218.9"/><circle cx="798.7" cy="222.7"/><circle cx="796.1" cy="230.3"/><circle cx="801.2" cy="230.3"/><circle cx="796.1" cy="237.9"/><circle cx="801.2" cy="237.9"/><circle cx="796.1" cy="241.7"/><circle cx="796.1" cy="245.5"/><circle cx="801.2" cy="245.5"/><circle cx="796.1" cy="249.3"/><circle cx="801.2" cy="249.3"/><circle cx="774" cy="253.2"/><circle cx="778.8" cy="253.2"/><circle cx="780.4" cy="253.2"/><circle cx="781.9" cy="253.2"/><circle cx="783.5" cy="253.2"/><circle cx="785.1" cy="253.2"/><circle cx="786.7" cy="253.2"/><circle cx="788.3" cy="253.2"/><circle cx="789.9" cy="253.2"/><circle cx="791.5" cy="253.2"/><circle cx="793.1" cy="253.2"/><circle cx="794.7" cy="253.2"/><circle cx="799.5" cy="253.2"/><circle cx="801.1" cy="253.2"/><circle cx="802.7" cy="253.2"/><circle cx="804.3" cy="253.2"/><circle cx="805.9" cy="253.2"/><circle cx="807.4" cy="253.2"/><circle cx="809" cy="253.2"/><circle cx="810.6" cy="253.2"/><circle cx="812.2" cy="253.2"/><circle cx="813.8" cy="253.2"/><circle cx="815.4" cy="253.2"/><circle cx="817" cy="253.2"/><circle cx="818.6" cy="253.2"/><circle cx="820.2" cy="253.2"/><circle cx="821.8" cy="253.2"/><circle cx="823.4" cy="253.2"/><circle cx="788.5" cy="272.2"/><circle cx="793.6" cy="272.2"/><circle cx="798.7" cy="272.2"/><circle cx="803.8" cy="272.2"/><circle cx="808.9" cy="272.2"/><circle cx="796.1" cy="279.8"/><circle cx="801.2" cy="279.8"/><circle cx="796.1" cy="283.6"/><circle cx="801.2" cy="283.6"/><circle cx="775.7" cy="291.2"/><circle cx="780.8" cy="291.2"/><circle cx="785.9" cy="291.2"/><circle cx="791" cy="291.2"/><circle cx="796.1" cy="291.2"/><circle cx="801.2" cy="291.2"/><circle cx="806.3" cy="291.2"/><circle cx="811.4" cy="291.2"/><circle cx="816.5" cy="291.2"/><circle cx="821.6" cy="291.2"/><circle cx="791" cy="295"/><circle cx="796.1" cy="295"/><circle cx="801.2" cy="295"/><circle cx="806.3" cy="295"/><circle cx="798.7" cy="298.8"/><circle cx="803.8" cy="298.8"/><circle cx="798.7" cy="306.4"/><circle cx="791" cy="310.2"/><circle cx="796.1" cy="310.2"/><circle cx="801.2" cy="310.2"/><circle cx="806.3" cy="310.2"/><circle cx="796.1" cy="314"/><circle cx="796.1" cy="317.8"/><circle cx="801.2" cy="317.8"/><circle cx="798.7" cy="325.4"/><circle cx="778.3" cy="329.2"/><circle cx="783.4" cy="329.2"/><circle cx="793.6" cy="329.2"/><circle cx="798.7" cy="329.2"/><circle cx="803.8" cy="329.2"/><circle cx="808.9" cy="329.2"/><circle cx="814" cy="329.2"/><circle cx="819.1" cy="329.2"/><circle cx="793.6" cy="333"/><circle cx="798.7" cy="333"/><circle cx="796.1" cy="336.8"/><circle cx="801.2" cy="336.8"/><circle cx="796.1" cy="340.6"/><circle cx="801.2" cy="340.6"/><circle cx="793.6" cy="344.4"/><circle cx="798.7" cy="344.4"/><circle cx="803.8" cy="344.4"/><circle cx="791" cy="348.2"/><circle cx="796.1" cy="348.2"/><circle cx="801.2" cy="348.2"/><circle cx="806.3" cy="348.2"/><circle cx="811.4" cy="348.2"/><circle cx="796.1" cy="352"/><circle cx="801.2" cy="352"/><circle cx="798.7" cy="355.8"/><circle cx="798.7" cy="359.6"/><circle cx="793.6" cy="367.2"/><circle cx="798.7" cy="367.2"/><circle cx="803.8" cy="367.2"/><circle cx="793.6" cy="371"/><circle cx="798.7" cy="371"/><circle cx="803.8" cy="371"/><circle cx="793.6" cy="374.8"/><circle cx="798.7" cy="374.8"/><circle cx="803.8" cy="374.8"/><circle cx="793.6" cy="378.6"/><circle cx="798.7" cy="378.6"/><circle cx="803.8" cy="378.6"/><circle cx="796.1" cy="382.5"/><circle cx="801.2" cy="382.5"/><circle cx="796.1" cy="386.3"/><circle cx="801.2" cy="386.3"/><circle cx="798.7" cy="393.9"/><circle cx="796.1" cy="397.7"/><circle cx="801.2" cy="397.7"/><circle cx="785.9" cy="405.3"/><circle cx="791" cy="405.3"/><circle cx="796.1" cy="405.3"/><circle cx="801.2" cy="405.3"/><circle cx="806.3" cy="405.3"/><circle cx="811.4" cy="405.3"/><circle cx="791" cy="409.1"/><circle cx="796.1" cy="409.1"/><circle cx="801.2" cy="409.1"/><circle cx="806.3" cy="409.1"/><circle cx="793.6" cy="412.9"/><circle cx="798.7" cy="412.9"/><circle cx="803.8" cy="412.9"/><circle cx="796.1" cy="416.7"/><circle cx="801.2" cy="416.7"/><circle cx="878.1" cy="63"/><circle cx="883.2" cy="63"/><circle cx="862.8" cy="70.6"/><circle cx="862.8" cy="89.6"/><circle cx="852.6" cy="101"/><circle cx="850.1" cy="120"/><circle cx="870.5" cy="120"/><circle cx="875.6" cy="120"/><circle cx="873" cy="135.3"/><circle cx="883.2" cy="139.1"/><circle cx="860.3" cy="158.1"/><circle cx="865.4" cy="158.1"/><circle cx="870.5" cy="158.1"/><circle cx="860.3" cy="173.3"/><circle cx="839.9" cy="177.1"/><circle cx="860.3" cy="184.7"/><circle cx="865.4" cy="184.7"/><circle cx="862.8" cy="196.1"/><circle cx="867.9" cy="196.1"/><circle cx="873" cy="196.1"/><circle cx="860.3" cy="203.7"/><circle cx="855.2" cy="207.5"/><circle cx="860.3" cy="207.5"/><circle cx="865.4" cy="207.5"/><circle cx="870.5" cy="207.5"/><circle cx="850.1" cy="211.3"/><circle cx="855.2" cy="211.3"/><circle cx="860.3" cy="211.3"/><circle cx="865.4" cy="211.3"/><circle cx="870.5" cy="211.3"/><circle cx="875.6" cy="211.3"/><circle cx="839.9" cy="215.1"/><circle cx="845" cy="215.1"/><circle cx="850.1" cy="215.1"/><circle cx="855.2" cy="215.1"/><circle cx="860.3" cy="215.1"/><circle cx="870.5" cy="215.1"/><circle cx="875.6" cy="215.1"/><circle cx="880.7" cy="215.1"/><circle cx="862.8" cy="226.5"/><circle cx="843.6" cy="253.2"/><circle cx="845.5" cy="253.2"/><circle cx="847.3" cy="253.2"/><circle cx="850.9" cy="253.2"/><circle cx="852.8" cy="253.2"/><circle cx="854.6" cy="253.2"/><circle cx="867.4" cy="253.2"/><circle cx="871.1" cy="253.2"/><circle cx="860.3" cy="260.8"/><circle cx="860.3" cy="272.2"/><circle cx="865.4" cy="272.2"/><circle cx="870.5" cy="272.2"/><circle cx="862.8" cy="283.6"/><circle cx="860.3" cy="287.4"/><circle cx="865.4" cy="287.4"/><circle cx="850.1" cy="291.2"/><circle cx="855.2" cy="291.2"/><circle cx="860.3" cy="291.2"/><circle cx="865.4" cy="291.2"/><circle cx="870.5" cy="291.2"/><circle cx="875.6" cy="291.2"/><circle cx="862.8" cy="298.8"/><circle cx="862.8" cy="302.6"/><circle cx="860.3" cy="310.2"/><circle cx="865.4" cy="310.2"/><circle cx="865.4" cy="314"/><circle cx="860.3" cy="317.8"/><circle cx="865.4" cy="317.8"/><circle cx="860.3" cy="321.6"/><circle cx="865.4" cy="321.6"/><circle cx="842.4" cy="329.2"/><circle cx="847.5" cy="329.2"/><circle cx="852.6" cy="329.2"/><circle cx="857.7" cy="329.2"/><circle cx="862.8" cy="329.2"/><circle cx="867.9" cy="329.2"/><circle cx="873" cy="329.2"/><circle cx="878.1" cy="329.2"/><circle cx="883.2" cy="329.2"/><circle cx="862.8" cy="333"/><circle cx="862.8" cy="336.8"/><circle cx="862.8" cy="340.6"/><circle cx="857.7" cy="348.2"/><circle cx="862.8" cy="348.2"/><circle cx="867.9" cy="348.2"/><circle cx="850.1" cy="367.2"/><circle cx="855.2" cy="367.2"/><circle cx="860.3" cy="367.2"/><circle cx="865.4" cy="367.2"/><circle cx="870.5" cy="367.2"/><circle cx="875.6" cy="367.2"/><circle cx="862.8" cy="371"/><circle cx="862.8" cy="378.6"/><circle cx="862.8" cy="382.5"/><circle cx="862.8" cy="386.3"/><circle cx="862.8" cy="390.1"/><circle cx="862.8" cy="393.9"/><circle cx="862.8" cy="401.5"/><circle cx="857.7" cy="405.3"/><circle cx="862.8" cy="405.3"/><circle cx="867.9" cy="405.3"/><circle cx="862.8" cy="412.9"/><circle cx="862.8" cy="431.9"/><circle cx="862.8" cy="443.3"/><circle cx="921.9" cy="63"/><circle cx="919.4" cy="131.5"/><circle cx="919.4" cy="139.1"/><circle cx="924.4" cy="139.1"/><circle cx="929.5" cy="139.1"/><circle cx="934.6" cy="139.1"/><circle cx="939.8" cy="139.1"/><circle cx="944.9" cy="139.1"/><circle cx="921.9" cy="177.1"/><circle cx="924.5" cy="203.7"/><circle cx="921.9" cy="211.3"/><circle cx="927" cy="211.3"/><circle cx="932.1" cy="211.3"/><circle cx="921.9" cy="215.1"/><circle cx="921.9" cy="218.9"/><circle cx="927" cy="218.9"/><circle cx="927" cy="257"/><circle cx="924.5" cy="264.6"/><circle cx="929.6" cy="264.6"/><circle cx="929.6" cy="272.2"/><circle cx="927" cy="276"/><circle cx="924.5" cy="295"/><circle cx="929.6" cy="295"/><circle cx="921.9" cy="314"/><circle cx="927" cy="314"/><circle cx="932.1" cy="314"/><circle cx="921.9" cy="317.8"/><circle cx="927" cy="317.8"/><circle cx="932.1" cy="317.8"/><circle cx="927" cy="325.4"/><circle cx="914.2" cy="329.2"/><circle cx="919.4" cy="329.2"/><circle cx="924.5" cy="329.2"/><circle cx="929.5" cy="329.2"/><circle cx="924.5" cy="336.8"/><circle cx="929.6" cy="336.8"/><circle cx="924.5" cy="340.6"/><circle cx="929.6" cy="340.6"/><circle cx="916.8" cy="348.2"/><circle cx="921.9" cy="348.2"/><circle cx="927" cy="348.2"/><circle cx="932.1" cy="348.2"/><circle cx="937.2" cy="348.2"/><circle cx="924.5" cy="355.8"/><circle cx="929.6" cy="355.8"/><circle cx="921.9" cy="363.4"/><circle cx="927" cy="363.4"/><circle cx="932.1" cy="363.4"/><circle cx="916.8" cy="367.2"/><circle cx="927" cy="367.2"/><circle cx="932.1" cy="367.2"/><circle cx="937.2" cy="367.2"/><circle cx="919.4" cy="371"/><circle cx="924.5" cy="371"/><circle cx="929.6" cy="371"/><circle cx="934.6" cy="371"/><circle cx="932.1" cy="374.8"/><circle cx="927" cy="378.6"/><circle cx="924.5" cy="382.5"/><circle cx="929.6" cy="382.5"/><circle cx="924.5" cy="386.3"/><circle cx="929.6" cy="386.3"/><circle cx="924.5" cy="393.9"/><circle cx="929.6" cy="393.9"/><circle cx="921.9" cy="397.7"/><circle cx="927" cy="397.7"/><circle cx="932.1" cy="397.7"/><circle cx="916.8" cy="401.5"/><circle cx="921.9" cy="401.5"/><circle cx="927" cy="401.5"/><circle cx="932.1" cy="401.5"/><circle cx="937.2" cy="401.5"/><circle cx="904" cy="405.3"/><circle cx="909.1" cy="405.3"/><circle cx="914.2" cy="405.3"/><circle cx="919.3" cy="405.3"/><circle cx="924.4" cy="405.3"/><circle cx="929.5" cy="405.3"/><circle cx="934.6" cy="405.3"/><circle cx="939.8" cy="405.3"/><circle cx="944.8" cy="405.3"/><circle cx="949.9" cy="405.3"/><circle cx="914.2" cy="412.9"/><circle cx="919.4" cy="412.9"/><circle cx="924.5" cy="412.9"/><circle cx="929.5" cy="412.9"/><circle cx="934.6" cy="412.9"/><circle cx="939.8" cy="412.9"/><circle cx="919.4" cy="416.7"/><circle cx="924.5" cy="416.7"/><circle cx="929.6" cy="416.7"/><circle cx="934.6" cy="416.7"/><circle cx="914.2" cy="420.5"/><circle cx="919.4" cy="420.5"/><circle cx="924.5" cy="420.5"/><circle cx="929.5" cy="420.5"/><circle cx="934.6" cy="420.5"/><circle cx="939.8" cy="420.5"/><circle cx="916.8" cy="424.3"/><circle cx="921.9" cy="424.3"/><circle cx="927" cy="424.3"/><circle cx="932.1" cy="424.3"/><circle cx="937.2" cy="424.3"/><circle cx="919.4" cy="428.1"/><circle cx="924.5" cy="428.1"/><circle cx="929.6" cy="428.1"/><circle cx="934.6" cy="428.1"/><circle cx="921.9" cy="431.9"/><circle cx="927" cy="431.9"/><circle cx="932.1" cy="431.9"/><circle cx="921.9" cy="435.7"/><circle cx="927" cy="435.7"/><circle cx="932.1" cy="435.7"/><circle cx="924.5" cy="439.5"/><circle cx="929.6" cy="439.5"/><circle cx="902.3" cy="443.3"/><circle cx="903.8" cy="443.3"/><circle cx="905.3" cy="443.3"/><circle cx="906.8" cy="443.3"/><circle cx="908.3" cy="443.3"/><circle cx="909.8" cy="443.3"/><circle cx="911.3" cy="443.3"/><circle cx="912.8" cy="443.3"/><circle cx="914.3" cy="443.3"/><circle cx="915.8" cy="443.3"/><circle cx="917.3" cy="443.3"/><circle cx="918.8" cy="443.3"/><circle cx="920.3" cy="443.3"/><circle cx="921.8" cy="443.3"/><circle cx="923.3" cy="443.3"/><circle cx="924.8" cy="443.3"/><circle cx="926.3" cy="443.3"/><circle cx="927.7" cy="443.3"/><circle cx="929.2" cy="443.3"/><circle cx="930.7" cy="443.3"/><circle cx="932.2" cy="443.3"/><circle cx="933.7" cy="443.3"/><circle cx="935.2" cy="443.3"/><circle cx="941.2" cy="443.3"/><circle cx="942.7" cy="443.3"/><circle cx="944.2" cy="443.3"/><circle cx="945.7" cy="443.3"/><circle cx="947.2" cy="443.3"/><circle cx="948.7" cy="443.3"/><circle cx="950.2" cy="443.3"/><circle cx="951.7" cy="443.3"/>
</g>
<path d="M220 112 L284.1 116 L348.2 115.6 L412.4 146 L476.5 178 L540.6 164" fill="none" stroke="#3219f0" stroke-width="7.2" stroke-linejoin="miter"/>
<path d="M202.8 106.7H237.2M202.8 118.6H237.2" stroke="#3219f0" stroke-width="6.6" fill="none"/>
<path d="M220 106.7V118.6" stroke="#3219f0" stroke-width="6.4" fill="none"/>
<circle cx="220" cy="112" r="11.4" fill="#3219f0"/>
<path d="M266.9 107.2H301.3M266.9 124.4H301.3" stroke="#3219f0" stroke-width="6.6" fill="none"/>
<path d="M284.1 107.2V124.4" stroke="#3219f0" stroke-width="6.4" fill="none"/>
<circle cx="284.1" cy="116" r="11.4" fill="#3219f0"/>
<path d="M331 107.8H365.4M331 123.4H365.4" stroke="#3219f0" stroke-width="6.6" fill="none"/>
<path d="M348.2 107.8V123.4" stroke="#3219f0" stroke-width="6.4" fill="none"/>
<circle cx="348.2" cy="115.6" r="11.4" fill="#3219f0"/>
<path d="M395.2 138H429.6M395.2 154.5H429.6" stroke="#3219f0" stroke-width="6.6" fill="none"/>
<path d="M412.4 138V154.5" stroke="#3219f0" stroke-width="6.4" fill="none"/>
<circle cx="412.4" cy="146" r="11.4" fill="#3219f0"/>
<path d="M459.3 165.7H493.7M459.3 190H493.7" stroke="#3219f0" stroke-width="6.6" fill="none"/>
<path d="M476.5 165.7V190" stroke="#3219f0" stroke-width="6.4" fill="none"/>
<circle cx="476.5" cy="178" r="11.4" fill="#3219f0"/>
<path d="M523.4 155H557.8M523.4 172.6H557.8" stroke="#3219f0" stroke-width="6.6" fill="none"/>
<path d="M540.6 155V172.6" stroke="#3219f0" stroke-width="6.4" fill="none"/>
<circle cx="540.6" cy="164" r="11.4" fill="#3219f0"/>
<path d="M606.2 195.5 L670.4 183.3 L734.5 134 L798.7 168.5 L862.8 177 L927 156.5" fill="none" stroke="#3219f0" stroke-width="7.2" stroke-linejoin="miter"/>
<path d="M589 185.1H623.4M589 206.2H623.4" stroke="#3219f0" stroke-width="6.6" fill="none"/>
<path d="M606.2 185.1V206.2" stroke="#3219f0" stroke-width="6.4" fill="none"/>
<circle cx="606.2" cy="195.5" r="11.4" fill="#3219f0"/>
<path d="M653.2 170.8H687.6M653.2 195.7H687.6" stroke="#3219f0" stroke-width="6.6" fill="none"/>
<path d="M670.4 170.8V195.7" stroke="#3219f0" stroke-width="6.4" fill="none"/>
<circle cx="670.4" cy="183.3" r="11.4" fill="#3219f0"/>
<path d="M717.3 127.5H751.7M717.3 141H751.7" stroke="#3219f0" stroke-width="6.6" fill="none"/>
<path d="M734.5 127.5V141" stroke="#3219f0" stroke-width="6.4" fill="none"/>
<circle cx="734.5" cy="134" r="11.4" fill="#3219f0"/>
<path d="M781.5 159.4H815.9M781.5 178.5H815.9" stroke="#3219f0" stroke-width="6.6" fill="none"/>
<path d="M798.7 159.4V178.5" stroke="#3219f0" stroke-width="6.4" fill="none"/>
<circle cx="798.7" cy="168.5" r="11.4" fill="#3219f0"/>
<path d="M845.6 164.3H880M845.6 190.4H880" stroke="#3219f0" stroke-width="6.6" fill="none"/>
<path d="M862.8 164.3V190.4" stroke="#3219f0" stroke-width="6.4" fill="none"/>
<circle cx="862.8" cy="177" r="11.4" fill="#3219f0"/>
<path d="M909.8 148.1H944.2M909.8 165.5H944.2" stroke="#3219f0" stroke-width="6.6" fill="none"/>
<path d="M927 148.1V165.5" stroke="#3219f0" stroke-width="6.4" fill="none"/>
<circle cx="927" cy="156.5" r="11.4" fill="#3219f0"/>
<path d="M220 189 L284.1 202 L348.2 185 L412.4 221 L476.5 259 L540.6 258" fill="none" stroke="#c4162c" stroke-width="7.2" stroke-dasharray="16.5 5.8" stroke-linejoin="miter"/>
<path d="M202.8 175H237.2M202.8 203H237.2" stroke="#c4162c" stroke-width="6.6" fill="none"/>
<path d="M220 175V203" stroke="#c4162c" stroke-width="6.4" fill="none"/>
<circle cx="220" cy="189" r="11.4" fill="#c4162c"/>
<path d="M266.9 186H301.3M266.9 217.6H301.3" stroke="#c4162c" stroke-width="6.6" fill="none"/>
<path d="M284.1 186V217.6" stroke="#c4162c" stroke-width="6.4" fill="none"/>
<circle cx="284.1" cy="202" r="11.4" fill="#c4162c"/>
<path d="M331 169.5H365.4M331 200.8H365.4" stroke="#c4162c" stroke-width="6.6" fill="none"/>
<path d="M348.2 169.5V200.8" stroke="#c4162c" stroke-width="6.4" fill="none"/>
<circle cx="348.2" cy="185" r="11.4" fill="#c4162c"/>
<path d="M395.2 208H429.6M395.2 233H429.6" stroke="#c4162c" stroke-width="6.6" fill="none"/>
<path d="M412.4 208V233" stroke="#c4162c" stroke-width="6.4" fill="none"/>
<circle cx="412.4" cy="221" r="11.4" fill="#c4162c"/>
<path d="M459.3 244.8H493.7M459.3 273H493.7" stroke="#c4162c" stroke-width="6.6" fill="none"/>
<path d="M476.5 244.8V273" stroke="#c4162c" stroke-width="6.4" fill="none"/>
<circle cx="476.5" cy="259" r="11.4" fill="#c4162c"/>
<path d="M523.4 244.8H557.8M523.4 271H557.8" stroke="#c4162c" stroke-width="6.6" fill="none"/>
<path d="M540.6 244.8V271" stroke="#c4162c" stroke-width="6.4" fill="none"/>
<circle cx="540.6" cy="258" r="11.4" fill="#c4162c"/>
<path d="M606.2 278.6 L670.4 249.5 L734.5 344 L798.7 275.5 L862.8 257.7 L927 348" fill="none" stroke="#c4162c" stroke-width="7.2" stroke-dasharray="16.5 5.8" stroke-linejoin="miter"/>
<path d="M589 267.8H623.4M589 289.4H623.4" stroke="#c4162c" stroke-width="6.6" fill="none"/>
<path d="M606.2 267.8V289.4" stroke="#c4162c" stroke-width="6.4" fill="none"/>
<circle cx="606.2" cy="278.6" r="11.4" fill="#c4162c"/>
<path d="M653.2 235.7H687.6M653.2 263.2H687.6" stroke="#c4162c" stroke-width="6.6" fill="none"/>
<path d="M670.4 235.7V263.2" stroke="#c4162c" stroke-width="6.4" fill="none"/>
<circle cx="670.4" cy="249.5" r="11.4" fill="#c4162c"/>
<path d="M717.3 331.6H751.7M717.3 356.3H751.7" stroke="#c4162c" stroke-width="6.6" fill="none"/>
<path d="M734.5 331.6V356.3" stroke="#c4162c" stroke-width="6.4" fill="none"/>
<circle cx="734.5" cy="344" r="11.4" fill="#c4162c"/>
<path d="M781.5 264.5H815.9M781.5 286.4H815.9" stroke="#c4162c" stroke-width="6.6" fill="none"/>
<path d="M798.7 264.5V286.4" stroke="#c4162c" stroke-width="6.4" fill="none"/>
<circle cx="798.7" cy="275.5" r="11.4" fill="#c4162c"/>
<path d="M845.6 244H880M845.6 271.4H880" stroke="#c4162c" stroke-width="6.6" fill="none"/>
<path d="M862.8 244V271.4" stroke="#c4162c" stroke-width="6.4" fill="none"/>
<circle cx="862.8" cy="257.7" r="11.4" fill="#c4162c"/>
<path d="M909.8 335.7H944.2M909.8 361H944.2" stroke="#c4162c" stroke-width="6.6" fill="none"/>
<path d="M927 335.7V361" stroke="#c4162c" stroke-width="6.4" fill="none"/>
<circle cx="927" cy="348" r="11.4" fill="#c4162c"/>
<g fill="none" stroke="#000">
<rect x="187.8" y="8.6" width="771.7" height="464.2" stroke-width="1.35"/>
<path d="M187.8 32.0H959.5" stroke-width="2.6"/>
<path d="M573.5 8.6V472.8" stroke-width="2.2"/>
<path d="M174.5 63H187.8M174.5 139.1H187.8M174.5 215.1H187.8M174.5 291.2H187.8M174.5 367.2H187.8M174.5 443.3H187.8M220 472.8V485.3M284.1 472.8V485.3M348.2 472.8V485.3M412.4 472.8V485.3M476.5 472.8V485.3M540.6 472.8V485.3M606.2 472.8V485.3M670.4 472.8V485.3M734.5 472.8V485.3M798.7 472.8V485.3M862.8 472.8V485.3M927 472.8V485.3" stroke-width="1.35"/>
</g>
<text x="380.1" y="26.3" font-size="18.5" text-anchor="middle">Not Flagged Abnormal</text>
<text x="766" y="26.3" font-size="18.5" text-anchor="middle">Flagged Abnormal</text>
<text x="166.8" y="66.3" font-size="21.6" text-anchor="end" textLength="108" lengthAdjust="spacingAndGlyphs">Very Much</text>
<text x="166.8" y="141.8" font-size="21.6" text-anchor="end" textLength="24.4" lengthAdjust="spacingAndGlyphs">80</text>
<text x="166.8" y="218.4" font-size="21.6" text-anchor="end" textLength="24.4" lengthAdjust="spacingAndGlyphs">60</text>
<text x="166.8" y="294.4" font-size="21.6" text-anchor="end" textLength="24.4" lengthAdjust="spacingAndGlyphs">40</text>
<text x="166.8" y="370.4" font-size="21.6" text-anchor="end" textLength="24.4" lengthAdjust="spacingAndGlyphs">20</text>
<text x="166.8" y="446.4" font-size="21.6" text-anchor="end" textLength="90.5" lengthAdjust="spacingAndGlyphs">Not at all</text>
<text transform="translate(21.6 252.5) rotate(-90)" font-size="25.4" text-anchor="middle" textLength="60" lengthAdjust="spacingAndGlyphs">Trust</text>
<text transform="translate(206.5 505.5) rotate(45)" font-size="21.6" textLength="13.1" lengthAdjust="spacingAndGlyphs">0</text>
<text transform="translate(270.6 505.5) rotate(45)" font-size="21.6" textLength="59.6" lengthAdjust="spacingAndGlyphs">0+Cut</text>
<text transform="translate(334.7 505.5) rotate(45)" font-size="21.6" textLength="112.7" lengthAdjust="spacingAndGlyphs">0+Cut+FOR</text>
<text transform="translate(398.9 505.5) rotate(45)" font-size="21.6" textLength="25.5" lengthAdjust="spacingAndGlyphs">29</text>
<text transform="translate(463 505.5) rotate(45)" font-size="21.6" textLength="72.0" lengthAdjust="spacingAndGlyphs">29+Cut</text>
<text transform="translate(527.1 505.5) rotate(45)" font-size="21.6" textLength="125.2" lengthAdjust="spacingAndGlyphs">29+Cut+FOR</text>
<text transform="translate(592.7 505.5) rotate(45)" font-size="21.6" textLength="25.5" lengthAdjust="spacingAndGlyphs">31</text>
<text transform="translate(656.9 505.5) rotate(45)" font-size="21.6" textLength="72.0" lengthAdjust="spacingAndGlyphs">31+Cut</text>
<text transform="translate(721 505.5) rotate(45)" font-size="21.6" textLength="124.1" lengthAdjust="spacingAndGlyphs">31+Cut+FDR</text>
<text transform="translate(785.2 505.5) rotate(45)" font-size="21.6" textLength="25.5" lengthAdjust="spacingAndGlyphs">50</text>
<text transform="translate(849.3 505.5) rotate(45)" font-size="21.6" textLength="72.0" lengthAdjust="spacingAndGlyphs">50+Cut</text>
<text transform="translate(913.5 505.5) rotate(45)" font-size="21.6" textLength="124.1" lengthAdjust="spacingAndGlyphs">50+Cut+FDR</text>
<rect x="310.4" y="649.2" width="393" height="26" fill="#fff" stroke="#000" stroke-width="1.3"/>
<text x="317.6" y="669.3" font-size="20.6" textLength="68.6" lengthAdjust="spacingAndGlyphs">WHOM</text>
<path d="M411.1 662.4H488" stroke="#3219f0" stroke-width="7"/>
<text x="494" y="668.1" font-size="18.2" textLength="91" lengthAdjust="spacingAndGlyphs">Radiologist</text>
<path d="M599 662.4H669" stroke="#c4162c" stroke-width="7" stroke-dasharray="16.4 6.2"/>
<text x="679" y="668.1" font-size="18">AI</text>
<text x="500" y="726.9" font-size="32.6" font-weight="bold" textLength="122.4" lengthAdjust="spacingAndGlyphs">A. Trust</text>
<g fill="none" stroke="#555" stroke-opacity=".8" stroke-width="1" class="r">
<circle cx="1393.5" cy="57.6"/><circle cx="1398.2" cy="57.6"/><circle cx="1402.9" cy="57.6"/><circle cx="1398.2" cy="140.3"/><circle cx="1398.2" cy="218.9"/><circle cx="1398.2" cy="223"/><circle cx="1398.2" cy="235.5"/><circle cx="1398.2" cy="239.6"/><circle cx="1398.2" cy="243.7"/><circle cx="1398.2" cy="247.9"/><circle cx="1379.9" cy="264.4"/><circle cx="1382.3" cy="264.4"/><circle cx="1384.8" cy="264.4"/><circle cx="1387.2" cy="264.4"/><circle cx="1389.7" cy="264.4"/><circle cx="1392.1" cy="264.4"/><circle cx="1394.5" cy="264.4"/><circle cx="1397" cy="264.4"/><circle cx="1399.4" cy="264.4"/><circle cx="1401.9" cy="264.4"/><circle cx="1404.3" cy="264.4"/><circle cx="1406.7" cy="264.4"/><circle cx="1409.2" cy="264.4"/><circle cx="1411.6" cy="264.4"/><circle cx="1414.1" cy="264.4"/><circle cx="1416.5" cy="264.4"/><circle cx="1398.2" cy="280.9"/><circle cx="1398.2" cy="309.9"/><circle cx="1398.2" cy="318.2"/><circle cx="1395.9" cy="330.6"/><circle cx="1400.6" cy="330.6"/><circle cx="1391.2" cy="347.1"/><circle cx="1395.9" cy="347.1"/><circle cx="1400.6" cy="347.1"/><circle cx="1405.2" cy="347.1"/><circle cx="1393.5" cy="367.8"/><circle cx="1398.2" cy="367.8"/><circle cx="1402.9" cy="367.8"/><circle cx="1395.9" cy="376"/><circle cx="1400.6" cy="376"/><circle cx="1379.9" cy="388.4"/><circle cx="1382.7" cy="388.4"/><circle cx="1385.5" cy="388.4"/><circle cx="1388.3" cy="388.4"/><circle cx="1391.2" cy="388.4"/><circle cx="1394" cy="388.4"/><circle cx="1396.8" cy="388.4"/><circle cx="1399.6" cy="388.4"/><circle cx="1402.4" cy="388.4"/><circle cx="1405.2" cy="388.4"/><circle cx="1408.1" cy="388.4"/><circle cx="1410.9" cy="388.4"/><circle cx="1413.7" cy="388.4"/><circle cx="1416.5" cy="388.4"/><circle cx="1395.9" cy="392.6"/><circle cx="1400.6" cy="392.6"/><circle cx="1398.2" cy="396.7"/><circle cx="1395.9" cy="400.9"/><circle cx="1400.6" cy="400.9"/><circle cx="1386.5" cy="405"/><circle cx="1391.2" cy="405"/><circle cx="1395.9" cy="405"/><circle cx="1400.5" cy="405"/><circle cx="1405.2" cy="405"/><circle cx="1410" cy="405"/><circle cx="1391.2" cy="409.1"/><circle cx="1395.9" cy="409.1"/><circle cx="1400.6" cy="409.1"/><circle cx="1405.2" cy="409.1"/><circle cx="1398.2" cy="417.4"/><circle cx="1398.2" cy="421.5"/><circle cx="1379.9" cy="429.8"/><circle cx="1384.5" cy="429.8"/><circle cx="1389.1" cy="429.8"/><circle cx="1393.6" cy="429.8"/><circle cx="1398.2" cy="429.8"/><circle cx="1402.8" cy="429.8"/><circle cx="1407.4" cy="429.8"/><circle cx="1411.9" cy="429.8"/><circle cx="1416.5" cy="429.8"/><circle cx="1398.2" cy="442.2"/><circle cx="1398.2" cy="450.5"/><circle cx="1398.2" cy="454.6"/><circle cx="1395.9" cy="458.7"/><circle cx="1400.6" cy="458.7"/><circle cx="1398.2" cy="467"/><circle cx="1386.5" cy="471.1"/><circle cx="1391.2" cy="471.1"/><circle cx="1395.9" cy="471.1"/><circle cx="1400.5" cy="471.1"/><circle cx="1405.2" cy="471.1"/><circle cx="1410" cy="471.1"/><circle cx="1446.5" cy="57.6"/><circle cx="1444.1" cy="140.3"/><circle cx="1448.8" cy="140.3"/><circle cx="1446.5" cy="152.8"/><circle cx="1446.5" cy="202.4"/><circle cx="1446.5" cy="218.9"/><circle cx="1446.5" cy="223"/><circle cx="1446.5" cy="243.7"/><circle cx="1434.7" cy="264.4"/><circle cx="1439.4" cy="264.4"/><circle cx="1444.1" cy="264.4"/><circle cx="1448.8" cy="264.4"/><circle cx="1453.5" cy="264.4"/><circle cx="1458.2" cy="264.4"/><circle cx="1446.5" cy="268.5"/><circle cx="1446.5" cy="276.8"/><circle cx="1446.5" cy="285.1"/><circle cx="1446.5" cy="305.8"/><circle cx="1446.5" cy="318.2"/><circle cx="1446.5" cy="322.3"/><circle cx="1446.5" cy="326.4"/><circle cx="1446.5" cy="330.6"/><circle cx="1446.5" cy="338.8"/><circle cx="1441.8" cy="347.1"/><circle cx="1446.5" cy="347.1"/><circle cx="1451.2" cy="347.1"/><circle cx="1441.8" cy="367.8"/><circle cx="1446.5" cy="367.8"/><circle cx="1451.2" cy="367.8"/><circle cx="1434.7" cy="388.4"/><circle cx="1439.4" cy="388.4"/><circle cx="1444.1" cy="388.4"/><circle cx="1448.8" cy="388.4"/><circle cx="1453.5" cy="388.4"/><circle cx="1458.2" cy="388.4"/><circle cx="1444.1" cy="392.6"/><circle cx="1448.8" cy="392.6"/><circle cx="1446.5" cy="405"/><circle cx="1439.4" cy="409.1"/><circle cx="1444.1" cy="409.1"/><circle cx="1448.8" cy="409.1"/><circle cx="1453.5" cy="409.1"/><circle cx="1441.8" cy="421.5"/><circle cx="1446.5" cy="421.5"/><circle cx="1451.2" cy="421.5"/><circle cx="1446.5" cy="425.7"/><circle cx="1437.1" cy="429.8"/><circle cx="1441.8" cy="429.8"/><circle cx="1446.5" cy="429.8"/><circle cx="1451.2" cy="429.8"/><circle cx="1455.9" cy="429.8"/><circle cx="1444.1" cy="433.9"/><circle cx="1448.8" cy="433.9"/><circle cx="1444.1" cy="438.1"/><circle cx="1448.8" cy="438.1"/><circle cx="1446.5" cy="442.2"/><circle cx="1441.8" cy="446.3"/><circle cx="1446.5" cy="446.3"/><circle cx="1451.2" cy="446.3"/><circle cx="1446.5" cy="450.5"/><circle cx="1446.5" cy="462.9"/><circle cx="1428.2" cy="471.1"/><circle cx="1432.2" cy="471.1"/><circle cx="1436.3" cy="471.1"/><circle cx="1440.4" cy="471.1"/><circle cx="1444.4" cy="471.1"/><circle cx="1448.5" cy="471.1"/><circle cx="1452.6" cy="471.1"/><circle cx="1456.6" cy="471.1"/><circle cx="1460.7" cy="471.1"/><circle cx="1464.8" cy="471.1"/><circle cx="1494.7" cy="132.1"/><circle cx="1494.7" cy="161"/><circle cx="1494.7" cy="169.3"/><circle cx="1494.7" cy="194.1"/><circle cx="1494.7" cy="202.4"/><circle cx="1494.7" cy="218.9"/><circle cx="1494.7" cy="231.3"/><circle cx="1476.4" cy="264.4"/><circle cx="1477.7" cy="264.4"/><circle cx="1479" cy="264.4"/><circle cx="1480.2" cy="264.4"/><circle cx="1481.5" cy="264.4"/><circle cx="1482.8" cy="264.4"/><circle cx="1484" cy="264.4"/><circle cx="1485.3" cy="264.4"/><circle cx="1486.5" cy="264.4"/><circle cx="1487.8" cy="264.4"/><circle cx="1489.1" cy="264.4"/><circle cx="1490.3" cy="264.4"/><circle cx="1491.6" cy="264.4"/><circle cx="1492.8" cy="264.4"/><circle cx="1494.1" cy="264.4"/><circle cx="1495.4" cy="264.4"/><circle cx="1496.6" cy="264.4"/><circle cx="1497.9" cy="264.4"/><circle cx="1499.2" cy="264.4"/><circle cx="1500.4" cy="264.4"/><circle cx="1501.7" cy="264.4"/><circle cx="1502.9" cy="264.4"/><circle cx="1504.2" cy="264.4"/><circle cx="1505.5" cy="264.4"/><circle cx="1506.7" cy="264.4"/><circle cx="1508" cy="264.4"/><circle cx="1509.3" cy="264.4"/><circle cx="1510.5" cy="264.4"/><circle cx="1511.8" cy="264.4"/><circle cx="1513" cy="264.4"/><circle cx="1494.7" cy="268.5"/><circle cx="1494.7" cy="272.7"/><circle cx="1494.7" cy="289.2"/><circle cx="1492.4" cy="305.8"/><circle cx="1497.1" cy="305.8"/><circle cx="1494.7" cy="309.9"/><circle cx="1490" cy="314"/><circle cx="1494.7" cy="314"/><circle cx="1499.4" cy="314"/><circle cx="1490" cy="334.7"/><circle cx="1494.7" cy="334.7"/><circle cx="1499.4" cy="334.7"/><circle cx="1487.7" cy="347.1"/><circle cx="1492.4" cy="347.1"/><circle cx="1497.1" cy="347.1"/><circle cx="1501.8" cy="347.1"/><circle cx="1490" cy="367.8"/><circle cx="1494.7" cy="367.8"/><circle cx="1499.4" cy="367.8"/><circle cx="1492.4" cy="388.4"/><circle cx="1497.1" cy="388.4"/><circle cx="1494.7" cy="396.7"/><circle cx="1490" cy="409.1"/><circle cx="1494.7" cy="409.1"/><circle cx="1499.4" cy="409.1"/><circle cx="1494.7" cy="413.3"/><circle cx="1494.7" cy="421.5"/><circle cx="1492.4" cy="425.7"/><circle cx="1497.1" cy="425.7"/><circle cx="1476.4" cy="429.8"/><circle cx="1480.1" cy="429.8"/><circle cx="1483.8" cy="429.8"/><circle cx="1487.4" cy="429.8"/><circle cx="1491.1" cy="429.8"/><circle cx="1494.7" cy="429.8"/><circle cx="1498.4" cy="429.8"/><circle cx="1502.1" cy="429.8"/><circle cx="1505.7" cy="429.8"/><circle cx="1509.4" cy="429.8"/><circle cx="1513" cy="429.8"/><circle cx="1492.4" cy="433.9"/><circle cx="1497.1" cy="433.9"/><circle cx="1490" cy="438.1"/><circle cx="1494.7" cy="438.1"/><circle cx="1499.4" cy="438.1"/><circle cx="1492.4" cy="442.2"/><circle cx="1497.1" cy="442.2"/><circle cx="1492.4" cy="446.3"/><circle cx="1497.1" cy="446.3"/><circle cx="1492.4" cy="450.5"/><circle cx="1497.1" cy="450.5"/><circle cx="1494.7" cy="458.7"/><circle cx="1490" cy="462.9"/><circle cx="1494.7" cy="462.9"/><circle cx="1499.4" cy="462.9"/><circle cx="1494.7" cy="467"/><circle cx="1476.4" cy="471.1"/><circle cx="1478" cy="471.1"/><circle cx="1479.5" cy="471.1"/><circle cx="1481" cy="471.1"/><circle cx="1482.5" cy="471.1"/><circle cx="1484.1" cy="471.1"/><circle cx="1485.6" cy="471.1"/><circle cx="1487.1" cy="471.1"/><circle cx="1488.6" cy="471.1"/><circle cx="1490.2" cy="471.1"/><circle cx="1491.7" cy="471.1"/><circle cx="1493.2" cy="471.1"/><circle cx="1494.7" cy="471.1"/><circle cx="1496.3" cy="471.1"/><circle cx="1497.8" cy="471.1"/><circle cx="1499.3" cy="471.1"/><circle cx="1500.8" cy="471.1"/><circle cx="1502.4" cy="471.1"/><circle cx="1503.9" cy="471.1"/><circle cx="1505.4" cy="471.1"/><circle cx="1506.9" cy="471.1"/><circle cx="1508.5" cy="471.1"/><circle cx="1510" cy="471.1"/><circle cx="1511.5" cy="471.1"/><circle cx="1513" cy="471.1"/><circle cx="1543" cy="57.6"/><circle cx="1543" cy="111.4"/><circle cx="1543" cy="136.2"/><circle cx="1543" cy="140.3"/><circle cx="1540.7" cy="161"/><circle cx="1545.4" cy="161"/><circle cx="1540.7" cy="177.6"/><circle cx="1545.4" cy="177.6"/><circle cx="1533.6" cy="181.7"/><circle cx="1538.3" cy="181.7"/><circle cx="1543" cy="181.7"/><circle cx="1547.7" cy="181.7"/><circle cx="1552.4" cy="181.7"/><circle cx="1543" cy="185.8"/><circle cx="1536" cy="202.4"/><circle cx="1540.7" cy="202.4"/><circle cx="1545.4" cy="202.4"/><circle cx="1550.1" cy="202.4"/><circle cx="1543" cy="210.6"/><circle cx="1543" cy="214.8"/><circle cx="1528.9" cy="223"/><circle cx="1533.6" cy="223"/><circle cx="1538.3" cy="223"/><circle cx="1543" cy="223"/><circle cx="1547.7" cy="223"/><circle cx="1552.4" cy="223"/><circle cx="1557.1" cy="223"/><circle cx="1540.7" cy="227.2"/><circle cx="1545.4" cy="227.2"/><circle cx="1543" cy="231.3"/><circle cx="1540.7" cy="235.5"/><circle cx="1545.4" cy="235.5"/><circle cx="1543" cy="239.6"/><circle cx="1543" cy="252"/><circle cx="1524.7" cy="264.4"/><circle cx="1525.8" cy="264.4"/><circle cx="1526.9" cy="264.4"/><circle cx="1527.9" cy="264.4"/><circle cx="1529" cy="264.4"/><circle cx="1530.1" cy="264.4"/><circle cx="1531.2" cy="264.4"/><circle cx="1532.2" cy="264.4"/><circle cx="1533.3" cy="264.4"/><circle cx="1534.4" cy="264.4"/><circle cx="1535.5" cy="264.4"/><circle cx="1536.6" cy="264.4"/><circle cx="1537.6" cy="264.4"/><circle cx="1538.7" cy="264.4"/><circle cx="1539.8" cy="264.4"/><circle cx="1540.9" cy="264.4"/><circle cx="1541.9" cy="264.4"/><circle cx="1543" cy="264.4"/><circle cx="1544.1" cy="264.4"/><circle cx="1545.2" cy="264.4"/><circle cx="1546.2" cy="264.4"/><circle cx="1547.3" cy="264.4"/><circle cx="1548.4" cy="264.4"/><circle cx="1549.5" cy="264.4"/><circle cx="1550.5" cy="264.4"/><circle cx="1551.6" cy="264.4"/><circle cx="1552.7" cy="264.4"/><circle cx="1553.8" cy="264.4"/><circle cx="1554.9" cy="264.4"/><circle cx="1555.9" cy="264.4"/><circle cx="1557" cy="264.4"/><circle cx="1558.1" cy="264.4"/><circle cx="1559.2" cy="264.4"/><circle cx="1560.2" cy="264.4"/><circle cx="1561.3" cy="264.4"/><circle cx="1543" cy="272.7"/><circle cx="1543" cy="285.1"/><circle cx="1536" cy="305.8"/><circle cx="1540.7" cy="305.8"/><circle cx="1545.4" cy="305.8"/><circle cx="1550.1" cy="305.8"/><circle cx="1543" cy="322.3"/><circle cx="1543" cy="326.4"/><circle cx="1538.3" cy="334.7"/><circle cx="1543" cy="334.7"/><circle cx="1547.7" cy="334.7"/><circle cx="1543" cy="343"/><circle cx="1528.9" cy="347.1"/><circle cx="1533.6" cy="347.1"/><circle cx="1538.3" cy="347.1"/><circle cx="1543" cy="347.1"/><circle cx="1547.7" cy="347.1"/><circle cx="1552.4" cy="347.1"/><circle cx="1557.1" cy="347.1"/><circle cx="1540.7" cy="351.2"/><circle cx="1545.4" cy="351.2"/><circle cx="1543" cy="355.4"/><circle cx="1543" cy="359.5"/><circle cx="1543" cy="363.6"/><circle cx="1538.3" cy="367.8"/><circle cx="1543" cy="367.8"/><circle cx="1547.7" cy="367.8"/><circle cx="1531.3" cy="388.4"/><circle cx="1536" cy="388.4"/><circle cx="1540.7" cy="388.4"/><circle cx="1545.4" cy="388.4"/><circle cx="1550.1" cy="388.4"/><circle cx="1554.8" cy="388.4"/><circle cx="1543" cy="392.6"/><circle cx="1543" cy="400.9"/><circle cx="1538.3" cy="405"/><circle cx="1543" cy="405"/><circle cx="1547.7" cy="405"/><circle cx="1543" cy="409.1"/><circle cx="1524.7" cy="429.8"/><circle cx="1529.3" cy="429.8"/><circle cx="1533.9" cy="429.8"/><circle cx="1538.4" cy="429.8"/><circle cx="1543" cy="429.8"/><circle cx="1547.6" cy="429.8"/><circle cx="1552.2" cy="429.8"/><circle cx="1556.7" cy="429.8"/><circle cx="1561.3" cy="429.8"/><circle cx="1536" cy="433.9"/><circle cx="1540.7" cy="433.9"/><circle cx="1545.4" cy="433.9"/><circle cx="1550.1" cy="433.9"/><circle cx="1538.3" cy="438.1"/><circle cx="1543" cy="438.1"/><circle cx="1547.7" cy="438.1"/><circle cx="1538.3" cy="442.2"/><circle cx="1543" cy="442.2"/><circle cx="1547.7" cy="442.2"/><circle cx="1540.7" cy="450.5"/><circle cx="1545.4" cy="450.5"/><circle cx="1538.3" cy="467"/><circle cx="1543" cy="467"/><circle cx="1547.7" cy="467"/><circle cx="1543" cy="471.1"/><circle cx="1586.6" cy="57.6"/><circle cx="1591.3" cy="57.6"/><circle cx="1596" cy="57.6"/><circle cx="1591.3" cy="61.8"/><circle cx="1591.3" cy="78.3"/><circle cx="1584.2" cy="90.7"/><circle cx="1588.9" cy="90.7"/><circle cx="1593.6" cy="90.7"/><circle cx="1598.3" cy="90.7"/><circle cx="1591.3" cy="99"/><circle cx="1591.3" cy="111.4"/><circle cx="1591.3" cy="115.5"/><circle cx="1591.3" cy="119.7"/><circle cx="1591.3" cy="140.3"/><circle cx="1591.3" cy="144.5"/><circle cx="1591.3" cy="148.6"/><circle cx="1591.3" cy="156.9"/><circle cx="1586.6" cy="161"/><circle cx="1591.3" cy="161"/><circle cx="1596" cy="161"/><circle cx="1586.6" cy="165.2"/><circle cx="1591.3" cy="165.2"/><circle cx="1596" cy="165.2"/><circle cx="1588.9" cy="169.3"/><circle cx="1593.6" cy="169.3"/><circle cx="1591.3" cy="173.4"/><circle cx="1591.3" cy="177.6"/><circle cx="1573" cy="181.7"/><circle cx="1577.6" cy="181.7"/><circle cx="1582.1" cy="181.7"/><circle cx="1586.7" cy="181.7"/><circle cx="1591.3" cy="181.7"/><circle cx="1595.9" cy="181.7"/><circle cx="1600.4" cy="181.7"/><circle cx="1605" cy="181.7"/><circle cx="1609.6" cy="181.7"/><circle cx="1591.3" cy="198.2"/><circle cx="1588.9" cy="202.4"/><circle cx="1593.6" cy="202.4"/><circle cx="1591.3" cy="218.9"/><circle cx="1574.8" cy="223"/><circle cx="1579.5" cy="223"/><circle cx="1584.2" cy="223"/><circle cx="1588.9" cy="223"/><circle cx="1593.6" cy="223"/><circle cx="1598.3" cy="223"/><circle cx="1603" cy="223"/><circle cx="1607.7" cy="223"/><circle cx="1586.6" cy="243.7"/><circle cx="1591.3" cy="243.7"/><circle cx="1596" cy="243.7"/><circle cx="1573" cy="264.4"/><circle cx="1574.5" cy="264.4"/><circle cx="1576" cy="264.4"/><circle cx="1577.6" cy="264.4"/><circle cx="1579.1" cy="264.4"/><circle cx="1580.6" cy="264.4"/><circle cx="1582.1" cy="264.4"/><circle cx="1583.7" cy="264.4"/><circle cx="1585.2" cy="264.4"/><circle cx="1586.7" cy="264.4"/><circle cx="1588.2" cy="264.4"/><circle cx="1589.8" cy="264.4"/><circle cx="1591.3" cy="264.4"/><circle cx="1592.8" cy="264.4"/><circle cx="1594.3" cy="264.4"/><circle cx="1595.9" cy="264.4"/><circle cx="1597.4" cy="264.4"/><circle cx="1598.9" cy="264.4"/><circle cx="1600.4" cy="264.4"/><circle cx="1602" cy="264.4"/><circle cx="1603.5" cy="264.4"/><circle cx="1605" cy="264.4"/><circle cx="1606.5" cy="264.4"/><circle cx="1608.1" cy="264.4"/><circle cx="1609.6" cy="264.4"/><circle cx="1591.3" cy="276.8"/><circle cx="1588.9" cy="305.8"/><circle cx="1593.6" cy="305.8"/><circle cx="1591.3" cy="322.3"/><circle cx="1591.3" cy="326.4"/><circle cx="1591.3" cy="338.8"/><circle cx="1591.3" cy="343"/><circle cx="1591.3" cy="351.2"/><circle cx="1588.9" cy="367.8"/><circle cx="1593.6" cy="367.8"/><circle cx="1588.9" cy="376"/><circle cx="1593.6" cy="376"/><circle cx="1586.6" cy="388.4"/><circle cx="1591.3" cy="388.4"/><circle cx="1596" cy="388.4"/><circle cx="1591.3" cy="396.7"/><circle cx="1591.3" cy="400.9"/><circle cx="1591.3" cy="417.4"/><circle cx="1591.3" cy="425.7"/><circle cx="1586.6" cy="429.8"/><circle cx="1591.3" cy="429.8"/><circle cx="1596" cy="429.8"/><circle cx="1591.3" cy="433.9"/><circle cx="1586.6" cy="471.1"/><circle cx="1591.3" cy="471.1"/><circle cx="1596" cy="471.1"/><circle cx="1637.2" cy="57.6"/><circle cx="1641.9" cy="57.6"/><circle cx="1639.6" cy="65.9"/><circle cx="1639.6" cy="94.9"/><circle cx="1639.6" cy="103.1"/><circle cx="1639.6" cy="119.7"/><circle cx="1637.2" cy="127.9"/><circle cx="1641.9" cy="127.9"/><circle cx="1634.9" cy="140.3"/><circle cx="1639.6" cy="140.3"/><circle cx="1644.3" cy="140.3"/><circle cx="1639.6" cy="148.6"/><circle cx="1639.6" cy="152.8"/><circle cx="1639.6" cy="156.9"/><circle cx="1634.9" cy="161"/><circle cx="1639.6" cy="161"/><circle cx="1644.3" cy="161"/><circle cx="1639.6" cy="165.2"/><circle cx="1634.9" cy="173.4"/><circle cx="1639.6" cy="173.4"/><circle cx="1644.3" cy="173.4"/><circle cx="1634.9" cy="177.6"/><circle cx="1639.6" cy="177.6"/><circle cx="1644.3" cy="177.6"/><circle cx="1634.9" cy="181.7"/><circle cx="1639.6" cy="181.7"/><circle cx="1644.3" cy="181.7"/><circle cx="1634.9" cy="185.8"/><circle cx="1639.6" cy="185.8"/><circle cx="1644.3" cy="185.8"/><circle cx="1639.6" cy="194.1"/><circle cx="1637.2" cy="202.4"/><circle cx="1641.9" cy="202.4"/><circle cx="1639.6" cy="210.6"/><circle cx="1637.2" cy="214.8"/><circle cx="1641.9" cy="214.8"/><circle cx="1632.5" cy="218.9"/><circle cx="1637.2" cy="218.9"/><circle cx="1641.9" cy="218.9"/><circle cx="1646.6" cy="218.9"/><circle cx="1621.3" cy="223"/><circle cx="1625.8" cy="223"/><circle cx="1630.4" cy="223"/><circle cx="1635" cy="223"/><circle cx="1639.6" cy="223"/><circle cx="1644.1" cy="223"/><circle cx="1648.7" cy="223"/><circle cx="1653.3" cy="223"/><circle cx="1657.9" cy="223"/><circle cx="1637.2" cy="227.2"/><circle cx="1641.9" cy="227.2"/><circle cx="1637.2" cy="231.3"/><circle cx="1641.9" cy="231.3"/><circle cx="1634.9" cy="243.7"/><circle cx="1639.6" cy="243.7"/><circle cx="1644.3" cy="243.7"/><circle cx="1621.3" cy="264.4"/><circle cx="1622.8" cy="264.4"/><circle cx="1624.3" cy="264.4"/><circle cx="1625.8" cy="264.4"/><circle cx="1627.4" cy="264.4"/><circle cx="1628.9" cy="264.4"/><circle cx="1630.4" cy="264.4"/><circle cx="1631.9" cy="264.4"/><circle cx="1633.5" cy="264.4"/><circle cx="1635" cy="264.4"/><circle cx="1636.5" cy="264.4"/><circle cx="1638" cy="264.4"/><circle cx="1639.6" cy="264.4"/><circle cx="1641.1" cy="264.4"/><circle cx="1642.6" cy="264.4"/><circle cx="1644.1" cy="264.4"/><circle cx="1645.7" cy="264.4"/><circle cx="1647.2" cy="264.4"/><circle cx="1648.7" cy="264.4"/><circle cx="1650.2" cy="264.4"/><circle cx="1651.8" cy="264.4"/><circle cx="1653.3" cy="264.4"/><circle cx="1654.8" cy="264.4"/><circle cx="1656.3" cy="264.4"/><circle cx="1657.9" cy="264.4"/><circle cx="1634.9" cy="272.7"/><circle cx="1639.6" cy="272.7"/><circle cx="1644.3" cy="272.7"/><circle cx="1639.6" cy="285.1"/><circle cx="1639.6" cy="297.5"/><circle cx="1637.2" cy="301.6"/><circle cx="1641.9" cy="301.6"/><circle cx="1632.5" cy="305.8"/><circle cx="1637.2" cy="305.8"/><circle cx="1641.9" cy="305.8"/><circle cx="1646.6" cy="305.8"/><circle cx="1637.2" cy="309.9"/><circle cx="1641.9" cy="309.9"/><circle cx="1639.6" cy="314"/><circle cx="1637.2" cy="326.4"/><circle cx="1641.9" cy="326.4"/><circle cx="1639.6" cy="330.6"/><circle cx="1639.6" cy="343"/><circle cx="1634.9" cy="347.1"/><circle cx="1639.6" cy="347.1"/><circle cx="1644.3" cy="347.1"/><circle cx="1639.6" cy="351.2"/><circle cx="1639.6" cy="359.5"/><circle cx="1637.2" cy="367.8"/><circle cx="1641.9" cy="367.8"/><circle cx="1639.6" cy="371.9"/><circle cx="1639.6" cy="376"/><circle cx="1639.6" cy="384.3"/><circle cx="1639.6" cy="388.4"/><circle cx="1639.6" cy="405"/><circle cx="1639.6" cy="417.4"/><circle cx="1639.6" cy="421.5"/><circle cx="1639.6" cy="429.8"/><circle cx="1639.6" cy="433.9"/><circle cx="1639.6" cy="462.9"/><circle cx="1639.6" cy="471.1"/><circle cx="1678.8" cy="57.6"/><circle cx="1683.5" cy="57.6"/><circle cx="1688.2" cy="57.6"/><circle cx="1692.8" cy="57.6"/><circle cx="1697.5" cy="57.6"/><circle cx="1702.2" cy="57.6"/><circle cx="1690.5" cy="74.2"/><circle cx="1690.5" cy="78.3"/><circle cx="1688.2" cy="86.6"/><circle cx="1692.9" cy="86.6"/><circle cx="1688.2" cy="90.7"/><circle cx="1692.9" cy="90.7"/><circle cx="1690.5" cy="94.9"/><circle cx="1681.1" cy="99"/><circle cx="1685.8" cy="99"/><circle cx="1690.5" cy="99"/><circle cx="1695.2" cy="99"/><circle cx="1699.9" cy="99"/><circle cx="1690.5" cy="103.1"/><circle cx="1685.8" cy="119.7"/><circle cx="1690.5" cy="119.7"/><circle cx="1695.2" cy="119.7"/><circle cx="1688.2" cy="123.8"/><circle cx="1692.9" cy="123.8"/><circle cx="1690.5" cy="127.9"/><circle cx="1690.5" cy="136.2"/><circle cx="1690.5" cy="140.3"/><circle cx="1690.5" cy="144.5"/><circle cx="1688.2" cy="152.8"/><circle cx="1692.9" cy="152.8"/><circle cx="1688.2" cy="156.9"/><circle cx="1692.9" cy="156.9"/><circle cx="1672.2" cy="161"/><circle cx="1674.6" cy="161"/><circle cx="1677.1" cy="161"/><circle cx="1679.5" cy="161"/><circle cx="1682" cy="161"/><circle cx="1684.4" cy="161"/><circle cx="1686.8" cy="161"/><circle cx="1689.3" cy="161"/><circle cx="1691.7" cy="161"/><circle cx="1694.2" cy="161"/><circle cx="1696.6" cy="161"/><circle cx="1699" cy="161"/><circle cx="1701.5" cy="161"/><circle cx="1703.9" cy="161"/><circle cx="1706.4" cy="161"/><circle cx="1708.8" cy="161"/><circle cx="1685.8" cy="165.2"/><circle cx="1690.5" cy="165.2"/><circle cx="1695.2" cy="165.2"/><circle cx="1685.8" cy="169.3"/><circle cx="1690.5" cy="169.3"/><circle cx="1695.2" cy="169.3"/><circle cx="1685.8" cy="173.4"/><circle cx="1690.5" cy="173.4"/><circle cx="1695.2" cy="173.4"/><circle cx="1688.2" cy="177.6"/><circle cx="1692.9" cy="177.6"/><circle cx="1672.2" cy="181.7"/><circle cx="1675.9" cy="181.7"/><circle cx="1679.5" cy="181.7"/><circle cx="1683.2" cy="181.7"/><circle cx="1686.8" cy="181.7"/><circle cx="1690.5" cy="181.7"/><circle cx="1694.2" cy="181.7"/><circle cx="1697.8" cy="181.7"/><circle cx="1701.5" cy="181.7"/><circle cx="1705.1" cy="181.7"/><circle cx="1708.8" cy="181.7"/><circle cx="1688.2" cy="185.8"/><circle cx="1692.9" cy="185.8"/><circle cx="1688.2" cy="194.1"/><circle cx="1692.9" cy="194.1"/><circle cx="1672.2" cy="202.4"/><circle cx="1676.8" cy="202.4"/><circle cx="1681.4" cy="202.4"/><circle cx="1685.9" cy="202.4"/><circle cx="1690.5" cy="202.4"/><circle cx="1695.1" cy="202.4"/><circle cx="1699.7" cy="202.4"/><circle cx="1704.2" cy="202.4"/><circle cx="1708.8" cy="202.4"/><circle cx="1688.2" cy="210.6"/><circle cx="1692.9" cy="210.6"/><circle cx="1688.2" cy="214.8"/><circle cx="1692.9" cy="214.8"/><circle cx="1672.2" cy="223"/><circle cx="1676.8" cy="223"/><circle cx="1681.4" cy="223"/><circle cx="1685.9" cy="223"/><circle cx="1690.5" cy="223"/><circle cx="1695.1" cy="223"/><circle cx="1699.7" cy="223"/><circle cx="1704.2" cy="223"/><circle cx="1708.8" cy="223"/><circle cx="1690.5" cy="231.3"/><circle cx="1690.5" cy="235.5"/><circle cx="1688.2" cy="239.6"/><circle cx="1692.9" cy="239.6"/><circle cx="1688.2" cy="243.7"/><circle cx="1692.9" cy="243.7"/><circle cx="1688.2" cy="247.9"/><circle cx="1692.9" cy="247.9"/><circle cx="1688.2" cy="252"/><circle cx="1692.9" cy="252"/><circle cx="1685.8" cy="260.3"/><circle cx="1690.5" cy="260.3"/><circle cx="1695.2" cy="260.3"/><circle cx="1672.2" cy="264.4"/><circle cx="1673.7" cy="264.4"/><circle cx="1675.2" cy="264.4"/><circle cx="1676.8" cy="264.4"/><circle cx="1678.3" cy="264.4"/><circle cx="1679.8" cy="264.4"/><circle cx="1681.4" cy="264.4"/><circle cx="1682.9" cy="264.4"/><circle cx="1684.4" cy="264.4"/><circle cx="1685.9" cy="264.4"/><circle cx="1687.5" cy="264.4"/><circle cx="1689" cy="264.4"/><circle cx="1690.5" cy="264.4"/><circle cx="1692" cy="264.4"/><circle cx="1693.5" cy="264.4"/><circle cx="1695.1" cy="264.4"/><circle cx="1696.6" cy="264.4"/><circle cx="1698.1" cy="264.4"/><circle cx="1699.7" cy="264.4"/><circle cx="1701.2" cy="264.4"/><circle cx="1702.7" cy="264.4"/><circle cx="1704.2" cy="264.4"/><circle cx="1705.8" cy="264.4"/><circle cx="1707.3" cy="264.4"/><circle cx="1708.8" cy="264.4"/><circle cx="1690.5" cy="268.5"/><circle cx="1690.5" cy="280.9"/><circle cx="1688.2" cy="305.8"/><circle cx="1692.9" cy="305.8"/><circle cx="1690.5" cy="343"/><circle cx="1690.5" cy="347.1"/><circle cx="1690.5" cy="367.8"/><circle cx="1690.5" cy="388.4"/><circle cx="1690.5" cy="392.6"/><circle cx="1690.5" cy="396.7"/><circle cx="1690.5" cy="400.9"/><circle cx="1690.5" cy="421.5"/><circle cx="1690.5" cy="438.1"/><circle cx="1690.5" cy="446.3"/><circle cx="1690.5" cy="450.5"/><circle cx="1688.2" cy="471.1"/><circle cx="1692.9" cy="471.1"/><circle cx="1720.3" cy="57.6"/><circle cx="1722.9" cy="57.6"/><circle cx="1725.5" cy="57.6"/><circle cx="1728.1" cy="57.6"/><circle cx="1730.7" cy="57.6"/><circle cx="1733.3" cy="57.6"/><circle cx="1735.9" cy="57.6"/><circle cx="1738.6" cy="57.6"/><circle cx="1741.2" cy="57.6"/><circle cx="1743.8" cy="57.6"/><circle cx="1746.4" cy="57.6"/><circle cx="1749" cy="57.6"/><circle cx="1751.6" cy="57.6"/><circle cx="1754.2" cy="57.6"/><circle cx="1756.9" cy="57.6"/><circle cx="1738.6" cy="70.1"/><circle cx="1736.2" cy="90.7"/><circle cx="1740.9" cy="90.7"/><circle cx="1736.2" cy="94.9"/><circle cx="1740.9" cy="94.9"/><circle cx="1738.6" cy="115.5"/><circle cx="1738.6" cy="119.7"/><circle cx="1738.6" cy="132.1"/><circle cx="1733.9" cy="136.2"/><circle cx="1738.6" cy="136.2"/><circle cx="1743.3" cy="136.2"/><circle cx="1738.6" cy="144.5"/><circle cx="1738.6" cy="152.8"/><circle cx="1724.5" cy="161"/><circle cx="1729.2" cy="161"/><circle cx="1733.9" cy="161"/><circle cx="1738.6" cy="161"/><circle cx="1743.3" cy="161"/><circle cx="1748" cy="161"/><circle cx="1752.7" cy="161"/><circle cx="1736.2" cy="173.4"/><circle cx="1740.9" cy="173.4"/><circle cx="1724.5" cy="181.7"/><circle cx="1729.2" cy="181.7"/><circle cx="1733.9" cy="181.7"/><circle cx="1738.6" cy="181.7"/><circle cx="1743.3" cy="181.7"/><circle cx="1748" cy="181.7"/><circle cx="1752.7" cy="181.7"/><circle cx="1736.2" cy="190"/><circle cx="1740.9" cy="190"/><circle cx="1726.8" cy="202.4"/><circle cx="1731.5" cy="202.4"/><circle cx="1736.2" cy="202.4"/><circle cx="1740.9" cy="202.4"/><circle cx="1745.6" cy="202.4"/><circle cx="1750.3" cy="202.4"/><circle cx="1733.9" cy="214.8"/><circle cx="1738.6" cy="214.8"/><circle cx="1743.3" cy="214.8"/><circle cx="1729.2" cy="218.9"/><circle cx="1733.9" cy="218.9"/><circle cx="1738.6" cy="218.9"/><circle cx="1743.3" cy="218.9"/><circle cx="1748" cy="218.9"/><circle cx="1720.3" cy="223"/><circle cx="1722.4" cy="223"/><circle cx="1724.6" cy="223"/><circle cx="1726.7" cy="223"/><circle cx="1728.9" cy="223"/><circle cx="1731" cy="223"/><circle cx="1733.2" cy="223"/><circle cx="1735.3" cy="223"/><circle cx="1737.5" cy="223"/><circle cx="1739.6" cy="223"/><circle cx="1741.8" cy="223"/><circle cx="1743.9" cy="223"/><circle cx="1746.1" cy="223"/><circle cx="1748.2" cy="223"/><circle cx="1750.4" cy="223"/><circle cx="1752.6" cy="223"/><circle cx="1754.7" cy="223"/><circle cx="1756.9" cy="223"/><circle cx="1726.8" cy="227.2"/><circle cx="1731.5" cy="227.2"/><circle cx="1736.2" cy="227.2"/><circle cx="1740.9" cy="227.2"/><circle cx="1745.6" cy="227.2"/><circle cx="1750.3" cy="227.2"/><circle cx="1733.9" cy="231.3"/><circle cx="1738.6" cy="231.3"/><circle cx="1743.3" cy="231.3"/><circle cx="1736.2" cy="243.7"/><circle cx="1740.9" cy="243.7"/><circle cx="1736.2" cy="247.9"/><circle cx="1740.9" cy="247.9"/><circle cx="1736.2" cy="252"/><circle cx="1740.9" cy="252"/><circle cx="1738.6" cy="256.1"/><circle cx="1733.9" cy="260.3"/><circle cx="1738.6" cy="260.3"/><circle cx="1743.3" cy="260.3"/><circle cx="1720.3" cy="264.4"/><circle cx="1724.8" cy="264.4"/><circle cx="1729.4" cy="264.4"/><circle cx="1734" cy="264.4"/><circle cx="1738.6" cy="264.4"/><circle cx="1743.1" cy="264.4"/><circle cx="1747.7" cy="264.4"/><circle cx="1752.3" cy="264.4"/><circle cx="1756.9" cy="264.4"/><circle cx="1738.6" cy="268.5"/><circle cx="1738.6" cy="280.9"/><circle cx="1738.6" cy="326.4"/><circle cx="1738.6" cy="330.6"/><circle cx="1736.2" cy="347.1"/><circle cx="1740.9" cy="347.1"/><circle cx="1738.6" cy="429.8"/><circle cx="1779.6" cy="57.6"/><circle cx="1784.3" cy="57.6"/><circle cx="1789" cy="57.6"/><circle cx="1793.7" cy="57.6"/><circle cx="1786.6" cy="70.1"/><circle cx="1784.3" cy="99"/><circle cx="1789" cy="99"/><circle cx="1786.6" cy="103.1"/><circle cx="1786.6" cy="123.8"/><circle cx="1779.6" cy="140.3"/><circle cx="1784.3" cy="140.3"/><circle cx="1789" cy="140.3"/><circle cx="1793.7" cy="140.3"/><circle cx="1786.6" cy="144.5"/><circle cx="1786.6" cy="148.6"/><circle cx="1786.6" cy="152.8"/><circle cx="1786.6" cy="156.9"/><circle cx="1781.9" cy="161"/><circle cx="1786.6" cy="161"/><circle cx="1791.3" cy="161"/><circle cx="1784.3" cy="165.2"/><circle cx="1789" cy="165.2"/><circle cx="1786.6" cy="169.3"/><circle cx="1777.2" cy="177.6"/><circle cx="1781.9" cy="177.6"/><circle cx="1786.6" cy="177.6"/><circle cx="1791.3" cy="177.6"/><circle cx="1796" cy="177.6"/><circle cx="1777.2" cy="181.7"/><circle cx="1781.9" cy="181.7"/><circle cx="1786.6" cy="181.7"/><circle cx="1791.3" cy="181.7"/><circle cx="1796" cy="181.7"/><circle cx="1786.6" cy="185.8"/><circle cx="1786.6" cy="194.1"/><circle cx="1786.6" cy="198.2"/><circle cx="1784.3" cy="202.4"/><circle cx="1789" cy="202.4"/><circle cx="1784.3" cy="206.5"/><circle cx="1789" cy="206.5"/><circle cx="1784.3" cy="210.6"/><circle cx="1789" cy="210.6"/><circle cx="1784.3" cy="214.8"/><circle cx="1789" cy="214.8"/><circle cx="1781.9" cy="218.9"/><circle cx="1786.6" cy="218.9"/><circle cx="1791.3" cy="218.9"/><circle cx="1768.3" cy="223"/><circle cx="1772.9" cy="223"/><circle cx="1777.5" cy="223"/><circle cx="1782" cy="223"/><circle cx="1786.6" cy="223"/><circle cx="1791.2" cy="223"/><circle cx="1795.8" cy="223"/><circle cx="1800.3" cy="223"/><circle cx="1804.9" cy="223"/><circle cx="1781.9" cy="227.2"/><circle cx="1786.6" cy="227.2"/><circle cx="1791.3" cy="227.2"/><circle cx="1784.3" cy="231.3"/><circle cx="1789" cy="231.3"/><circle cx="1784.3" cy="235.5"/><circle cx="1789" cy="235.5"/><circle cx="1786.6" cy="239.6"/><circle cx="1781.9" cy="243.7"/><circle cx="1786.6" cy="243.7"/><circle cx="1791.3" cy="243.7"/><circle cx="1768.3" cy="264.4"/><circle cx="1770.2" cy="264.4"/><circle cx="1772.2" cy="264.4"/><circle cx="1774.1" cy="264.4"/><circle cx="1776" cy="264.4"/><circle cx="1778" cy="264.4"/><circle cx="1779.9" cy="264.4"/><circle cx="1781.8" cy="264.4"/><circle cx="1783.7" cy="264.4"/><circle cx="1785.7" cy="264.4"/><circle cx="1787.6" cy="264.4"/><circle cx="1789.5" cy="264.4"/><circle cx="1791.4" cy="264.4"/><circle cx="1793.4" cy="264.4"/><circle cx="1795.3" cy="264.4"/><circle cx="1797.2" cy="264.4"/><circle cx="1799.1" cy="264.4"/><circle cx="1801.1" cy="264.4"/><circle cx="1803" cy="264.4"/><circle cx="1804.9" cy="264.4"/><circle cx="1786.6" cy="289.2"/><circle cx="1786.6" cy="301.6"/><circle cx="1784.3" cy="305.8"/><circle cx="1789" cy="305.8"/><circle cx="1786.6" cy="322.3"/><circle cx="1781.9" cy="326.4"/><circle cx="1786.6" cy="326.4"/><circle cx="1791.3" cy="326.4"/><circle cx="1786.6" cy="338.8"/><circle cx="1786.6" cy="347.1"/><circle cx="1786.6" cy="351.2"/><circle cx="1786.6" cy="355.4"/><circle cx="1784.3" cy="367.8"/><circle cx="1789" cy="367.8"/><circle cx="1786.6" cy="371.9"/><circle cx="1786.6" cy="384.3"/><circle cx="1786.6" cy="388.4"/><circle cx="1777.2" cy="409.1"/><circle cx="1781.9" cy="409.1"/><circle cx="1786.6" cy="409.1"/><circle cx="1791.3" cy="409.1"/><circle cx="1796" cy="409.1"/><circle cx="1781.9" cy="421.5"/><circle cx="1786.6" cy="421.5"/><circle cx="1791.3" cy="421.5"/><circle cx="1779.6" cy="429.8"/><circle cx="1784.3" cy="429.8"/><circle cx="1789" cy="429.8"/><circle cx="1793.7" cy="429.8"/><circle cx="1786.6" cy="438.1"/><circle cx="1786.6" cy="442.2"/><circle cx="1784.3" cy="450.5"/><circle cx="1789" cy="450.5"/><circle cx="1784.3" cy="471.1"/><circle cx="1789" cy="471.1"/><circle cx="1820.6" cy="57.6"/><circle cx="1825.3" cy="57.6"/><circle cx="1830" cy="57.6"/><circle cx="1834.7" cy="57.6"/><circle cx="1839.4" cy="57.6"/><circle cx="1844.1" cy="57.6"/><circle cx="1848.8" cy="57.6"/><circle cx="1834.7" cy="65.9"/><circle cx="1834.7" cy="74.2"/><circle cx="1834.7" cy="90.7"/><circle cx="1834.7" cy="94.9"/><circle cx="1830" cy="99"/><circle cx="1834.7" cy="99"/><circle cx="1839.4" cy="99"/><circle cx="1834.7" cy="103.1"/><circle cx="1830" cy="111.4"/><circle cx="1834.7" cy="111.4"/><circle cx="1839.4" cy="111.4"/><circle cx="1834.7" cy="115.5"/><circle cx="1834.7" cy="119.7"/><circle cx="1832.3" cy="123.8"/><circle cx="1837" cy="123.8"/><circle cx="1834.7" cy="132.1"/><circle cx="1834.7" cy="136.2"/><circle cx="1825.3" cy="140.3"/><circle cx="1830" cy="140.3"/><circle cx="1834.7" cy="140.3"/><circle cx="1839.4" cy="140.3"/><circle cx="1844.1" cy="140.3"/><circle cx="1834.7" cy="144.5"/><circle cx="1830" cy="148.6"/><circle cx="1834.7" cy="148.6"/><circle cx="1839.4" cy="148.6"/><circle cx="1832.3" cy="152.8"/><circle cx="1837" cy="152.8"/><circle cx="1818.2" cy="161"/><circle cx="1822.9" cy="161"/><circle cx="1827.6" cy="161"/><circle cx="1832.3" cy="161"/><circle cx="1837" cy="161"/><circle cx="1841.7" cy="161"/><circle cx="1846.4" cy="161"/><circle cx="1851.1" cy="161"/><circle cx="1834.7" cy="169.3"/><circle cx="1832.3" cy="177.6"/><circle cx="1837" cy="177.6"/><circle cx="1816.4" cy="181.7"/><circle cx="1820.4" cy="181.7"/><circle cx="1824.5" cy="181.7"/><circle cx="1828.6" cy="181.7"/><circle cx="1832.6" cy="181.7"/><circle cx="1836.7" cy="181.7"/><circle cx="1840.8" cy="181.7"/><circle cx="1844.8" cy="181.7"/><circle cx="1848.9" cy="181.7"/><circle cx="1853" cy="181.7"/><circle cx="1834.7" cy="185.8"/><circle cx="1834.7" cy="194.1"/><circle cx="1832.3" cy="198.2"/><circle cx="1837" cy="198.2"/><circle cx="1820.6" cy="202.4"/><circle cx="1825.3" cy="202.4"/><circle cx="1830" cy="202.4"/><circle cx="1834.7" cy="202.4"/><circle cx="1839.4" cy="202.4"/><circle cx="1844.1" cy="202.4"/><circle cx="1848.8" cy="202.4"/><circle cx="1832.3" cy="210.6"/><circle cx="1837" cy="210.6"/><circle cx="1816.4" cy="223"/><circle cx="1820" cy="223"/><circle cx="1823.7" cy="223"/><circle cx="1827.4" cy="223"/><circle cx="1831" cy="223"/><circle cx="1834.7" cy="223"/><circle cx="1838.3" cy="223"/><circle cx="1842" cy="223"/><circle cx="1845.7" cy="223"/><circle cx="1849.3" cy="223"/><circle cx="1853" cy="223"/><circle cx="1834.7" cy="231.3"/><circle cx="1834.7" cy="235.5"/><circle cx="1832.3" cy="239.6"/><circle cx="1837" cy="239.6"/><circle cx="1832.3" cy="243.7"/><circle cx="1837" cy="243.7"/><circle cx="1832.3" cy="247.9"/><circle cx="1837" cy="247.9"/><circle cx="1832.3" cy="260.3"/><circle cx="1837" cy="260.3"/><circle cx="1816.4" cy="264.4"/><circle cx="1818.1" cy="264.4"/><circle cx="1819.9" cy="264.4"/><circle cx="1821.6" cy="264.4"/><circle cx="1823.4" cy="264.4"/><circle cx="1825.1" cy="264.4"/><circle cx="1826.8" cy="264.4"/><circle cx="1828.6" cy="264.4"/><circle cx="1830.3" cy="264.4"/><circle cx="1832.1" cy="264.4"/><circle cx="1833.8" cy="264.4"/><circle cx="1835.6" cy="264.4"/><circle cx="1837.3" cy="264.4"/><circle cx="1839" cy="264.4"/><circle cx="1840.8" cy="264.4"/><circle cx="1842.5" cy="264.4"/><circle cx="1844.3" cy="264.4"/><circle cx="1846" cy="264.4"/><circle cx="1847.8" cy="264.4"/><circle cx="1849.5" cy="264.4"/><circle cx="1851.2" cy="264.4"/><circle cx="1853" cy="264.4"/><circle cx="1834.7" cy="268.5"/><circle cx="1832.3" cy="276.8"/><circle cx="1837" cy="276.8"/><circle cx="1832.3" cy="285.1"/><circle cx="1837" cy="285.1"/><circle cx="1827.6" cy="305.8"/><circle cx="1832.3" cy="305.8"/><circle cx="1837" cy="305.8"/><circle cx="1841.7" cy="305.8"/><circle cx="1832.3" cy="326.4"/><circle cx="1837" cy="326.4"/><circle cx="1834.7" cy="338.8"/><circle cx="1834.7" cy="347.1"/><circle cx="1834.7" cy="351.2"/><circle cx="1834.7" cy="363.6"/><circle cx="1834.7" cy="367.8"/><circle cx="1834.7" cy="388.4"/><circle cx="1834.7" cy="392.6"/><circle cx="1834.7" cy="409.1"/><circle cx="1834.7" cy="421.5"/><circle cx="1832.3" cy="429.8"/><circle cx="1837" cy="429.8"/><circle cx="1834.7" cy="471.1"/><circle cx="1873.3" cy="57.6"/><circle cx="1878" cy="57.6"/><circle cx="1882.7" cy="57.6"/><circle cx="1887.4" cy="57.6"/><circle cx="1892.1" cy="57.6"/><circle cx="1882.7" cy="78.3"/><circle cx="1880.4" cy="90.7"/><circle cx="1885.1" cy="90.7"/><circle cx="1882.7" cy="99"/><circle cx="1882.7" cy="111.4"/><circle cx="1882.7" cy="119.7"/><circle cx="1875.7" cy="132.1"/><circle cx="1880.4" cy="132.1"/><circle cx="1885.1" cy="132.1"/><circle cx="1889.8" cy="132.1"/><circle cx="1878" cy="136.2"/><circle cx="1882.7" cy="136.2"/><circle cx="1887.4" cy="136.2"/><circle cx="1871" cy="140.3"/><circle cx="1875.7" cy="140.3"/><circle cx="1880.4" cy="140.3"/><circle cx="1885.1" cy="140.3"/><circle cx="1889.8" cy="140.3"/><circle cx="1894.5" cy="140.3"/><circle cx="1882.7" cy="144.5"/><circle cx="1882.7" cy="156.9"/><circle cx="1871" cy="161"/><circle cx="1875.7" cy="161"/><circle cx="1880.4" cy="161"/><circle cx="1885.1" cy="161"/><circle cx="1889.8" cy="161"/><circle cx="1894.5" cy="161"/><circle cx="1875.7" cy="165.2"/><circle cx="1880.4" cy="165.2"/><circle cx="1885.1" cy="165.2"/><circle cx="1889.8" cy="165.2"/><circle cx="1878" cy="169.3"/><circle cx="1882.7" cy="169.3"/><circle cx="1887.4" cy="169.3"/><circle cx="1880.4" cy="173.4"/><circle cx="1885.1" cy="173.4"/><circle cx="1878" cy="177.6"/><circle cx="1882.7" cy="177.6"/><circle cx="1887.4" cy="177.6"/><circle cx="1871" cy="181.7"/><circle cx="1875.7" cy="181.7"/><circle cx="1880.4" cy="181.7"/><circle cx="1885.1" cy="181.7"/><circle cx="1889.8" cy="181.7"/><circle cx="1894.5" cy="181.7"/><circle cx="1880.4" cy="194.1"/><circle cx="1885.1" cy="194.1"/><circle cx="1871" cy="202.4"/><circle cx="1875.7" cy="202.4"/><circle cx="1880.4" cy="202.4"/><circle cx="1885.1" cy="202.4"/><circle cx="1889.8" cy="202.4"/><circle cx="1894.5" cy="202.4"/><circle cx="1880.4" cy="214.8"/><circle cx="1885.1" cy="214.8"/><circle cx="1868.6" cy="223"/><circle cx="1873.3" cy="223"/><circle cx="1878" cy="223"/><circle cx="1882.7" cy="223"/><circle cx="1887.4" cy="223"/><circle cx="1892.1" cy="223"/><circle cx="1896.8" cy="223"/><circle cx="1882.7" cy="231.3"/><circle cx="1882.7" cy="235.5"/><circle cx="1875.7" cy="243.7"/><circle cx="1880.4" cy="243.7"/><circle cx="1885.1" cy="243.7"/><circle cx="1889.8" cy="243.7"/><circle cx="1882.7" cy="247.9"/><circle cx="1882.7" cy="252"/><circle cx="1882.7" cy="260.3"/><circle cx="1864.4" cy="264.4"/><circle cx="1866.2" cy="264.4"/><circle cx="1867.9" cy="264.4"/><circle cx="1869.7" cy="264.4"/><circle cx="1871.4" cy="264.4"/><circle cx="1873.2" cy="264.4"/><circle cx="1874.9" cy="264.4"/><circle cx="1876.6" cy="264.4"/><circle cx="1878.4" cy="264.4"/><circle cx="1880.1" cy="264.4"/><circle cx="1881.9" cy="264.4"/><circle cx="1883.6" cy="264.4"/><circle cx="1885.4" cy="264.4"/><circle cx="1887.1" cy="264.4"/><circle cx="1888.8" cy="264.4"/><circle cx="1890.6" cy="264.4"/><circle cx="1892.3" cy="264.4"/><circle cx="1894.1" cy="264.4"/><circle cx="1895.8" cy="264.4"/><circle cx="1897.6" cy="264.4"/><circle cx="1899.3" cy="264.4"/><circle cx="1901" cy="264.4"/><circle cx="1882.7" cy="268.5"/><circle cx="1882.7" cy="309.9"/><circle cx="1882.7" cy="347.1"/><circle cx="1882.7" cy="367.8"/><circle cx="1882.7" cy="384.3"/><circle cx="1882.7" cy="392.6"/><circle cx="1882.7" cy="429.8"/><circle cx="1880.4" cy="471.1"/><circle cx="1885.1" cy="471.1"/><circle cx="1928.5" cy="57.6"/><circle cx="1933.2" cy="57.6"/><circle cx="1930.8" cy="61.8"/><circle cx="1930.8" cy="74.2"/><circle cx="1928.5" cy="90.7"/><circle cx="1933.2" cy="90.7"/><circle cx="1930.8" cy="94.9"/><circle cx="1928.5" cy="99"/><circle cx="1933.2" cy="99"/><circle cx="1930.8" cy="115.5"/><circle cx="1928.5" cy="119.7"/><circle cx="1933.2" cy="119.7"/><circle cx="1928.5" cy="123.8"/><circle cx="1933.2" cy="123.8"/><circle cx="1928.5" cy="127.9"/><circle cx="1933.2" cy="127.9"/><circle cx="1928.5" cy="132.1"/><circle cx="1933.2" cy="132.1"/><circle cx="1930.8" cy="136.2"/><circle cx="1921.4" cy="140.3"/><circle cx="1926.1" cy="140.3"/><circle cx="1930.8" cy="140.3"/><circle cx="1935.5" cy="140.3"/><circle cx="1940.2" cy="140.3"/><circle cx="1926.1" cy="144.5"/><circle cx="1930.8" cy="144.5"/><circle cx="1935.5" cy="144.5"/><circle cx="1928.5" cy="161"/><circle cx="1933.2" cy="161"/><circle cx="1930.8" cy="165.2"/><circle cx="1928.5" cy="169.3"/><circle cx="1933.2" cy="169.3"/><circle cx="1928.5" cy="173.4"/><circle cx="1933.2" cy="173.4"/><circle cx="1926.1" cy="177.6"/><circle cx="1930.8" cy="177.6"/><circle cx="1935.5" cy="177.6"/><circle cx="1914.3" cy="181.7"/><circle cx="1919" cy="181.7"/><circle cx="1923.8" cy="181.7"/><circle cx="1928.4" cy="181.7"/><circle cx="1933.1" cy="181.7"/><circle cx="1937.8" cy="181.7"/><circle cx="1942.5" cy="181.7"/><circle cx="1947.2" cy="181.7"/><circle cx="1928.5" cy="190"/><circle cx="1933.2" cy="190"/><circle cx="1926.1" cy="198.2"/><circle cx="1930.8" cy="198.2"/><circle cx="1935.5" cy="198.2"/><circle cx="1930.8" cy="202.4"/><circle cx="1930.8" cy="206.5"/><circle cx="1928.5" cy="210.6"/><circle cx="1933.2" cy="210.6"/><circle cx="1930.8" cy="214.8"/><circle cx="1912.5" cy="223"/><circle cx="1917.1" cy="223"/><circle cx="1921.7" cy="223"/><circle cx="1926.2" cy="223"/><circle cx="1930.8" cy="223"/><circle cx="1935.4" cy="223"/><circle cx="1940" cy="223"/><circle cx="1944.5" cy="223"/><circle cx="1949.1" cy="223"/><circle cx="1928.5" cy="231.3"/><circle cx="1933.2" cy="231.3"/><circle cx="1928.5" cy="239.6"/><circle cx="1933.2" cy="239.6"/><circle cx="1926.1" cy="243.7"/><circle cx="1930.8" cy="243.7"/><circle cx="1935.5" cy="243.7"/><circle cx="1930.8" cy="252"/><circle cx="1928.5" cy="256.1"/><circle cx="1933.2" cy="256.1"/><circle cx="1926.1" cy="260.3"/><circle cx="1930.8" cy="260.3"/><circle cx="1935.5" cy="260.3"/><circle cx="1912.5" cy="264.4"/><circle cx="1914.2" cy="264.4"/><circle cx="1916" cy="264.4"/><circle cx="1917.7" cy="264.4"/><circle cx="1919.5" cy="264.4"/><circle cx="1921.2" cy="264.4"/><circle cx="1923" cy="264.4"/><circle cx="1924.7" cy="264.4"/><circle cx="1926.4" cy="264.4"/><circle cx="1928.2" cy="264.4"/><circle cx="1929.9" cy="264.4"/><circle cx="1931.7" cy="264.4"/><circle cx="1933.4" cy="264.4"/><circle cx="1935.2" cy="264.4"/><circle cx="1936.9" cy="264.4"/><circle cx="1938.6" cy="264.4"/><circle cx="1940.4" cy="264.4"/><circle cx="1942.1" cy="264.4"/><circle cx="1943.9" cy="264.4"/><circle cx="1945.6" cy="264.4"/><circle cx="1947.4" cy="264.4"/><circle cx="1949.1" cy="264.4"/><circle cx="1930.8" cy="268.5"/><circle cx="1926.1" cy="305.8"/><circle cx="1930.8" cy="305.8"/><circle cx="1935.5" cy="305.8"/><circle cx="1930.8" cy="343"/><circle cx="1926.1" cy="347.1"/><circle cx="1930.8" cy="347.1"/><circle cx="1935.5" cy="347.1"/><circle cx="1930.8" cy="359.5"/><circle cx="1930.8" cy="392.6"/><circle cx="1930.8" cy="396.7"/><circle cx="1930.8" cy="405"/><circle cx="1930.8" cy="409.1"/><circle cx="1930.8" cy="413.3"/><circle cx="1923.8" cy="429.8"/><circle cx="1928.5" cy="429.8"/><circle cx="1933.2" cy="429.8"/><circle cx="1937.8" cy="429.8"/><circle cx="1930.8" cy="450.5"/><circle cx="1926.1" cy="454.6"/><circle cx="1930.8" cy="454.6"/><circle cx="1935.5" cy="454.6"/><circle cx="1930.8" cy="458.7"/><circle cx="1928.5" cy="471.1"/><circle cx="1933.2" cy="471.1"/>
</g>
<path d="M1330.7 471.1H1367.3" stroke="#1a1a1a" stroke-width="3.3" stroke-linecap="round" fill="none"/>
<g fill="#c4c4c4" stroke="#555" stroke-opacity=".85" stroke-width=".9" class="n">
<circle cx="1347.5" cy="57.6"/><circle cx="1350.5" cy="57.6"/><circle cx="1349" cy="78.3"/><circle cx="1349" cy="90.7"/><circle cx="1349" cy="99"/><circle cx="1349" cy="132.1"/><circle cx="1349" cy="140.3"/><circle cx="1349" cy="148.6"/><circle cx="1349" cy="181.7"/><circle cx="1349" cy="231.3"/><circle cx="1347.5" cy="243.7"/><circle cx="1350.5" cy="243.7"/><circle cx="1349" cy="256.1"/><circle cx="1346" cy="260.3"/><circle cx="1349" cy="260.3"/><circle cx="1352" cy="260.3"/><circle cx="1330.5" cy="264.4"/><circle cx="1332.8" cy="264.4"/><circle cx="1335.1" cy="264.4"/><circle cx="1337.4" cy="264.4"/><circle cx="1339.8" cy="264.4"/><circle cx="1342.1" cy="264.4"/><circle cx="1344.4" cy="264.4"/><circle cx="1346.7" cy="264.4"/><circle cx="1349" cy="264.4"/><circle cx="1351.3" cy="264.4"/><circle cx="1353.6" cy="264.4"/><circle cx="1355.9" cy="264.4"/><circle cx="1358.2" cy="264.4"/><circle cx="1360.6" cy="264.4"/><circle cx="1362.9" cy="264.4"/><circle cx="1365.2" cy="264.4"/><circle cx="1367.5" cy="264.4"/><circle cx="1349" cy="268.5"/><circle cx="1349" cy="280.9"/><circle cx="1349" cy="297.5"/><circle cx="1344.5" cy="305.8"/><circle cx="1347.5" cy="305.8"/><circle cx="1350.5" cy="305.8"/><circle cx="1353.5" cy="305.8"/><circle cx="1349" cy="309.9"/><circle cx="1349" cy="314"/><circle cx="1346" cy="326.4"/><circle cx="1349" cy="326.4"/><circle cx="1352" cy="326.4"/><circle cx="1349" cy="330.6"/><circle cx="1349" cy="334.7"/><circle cx="1347.5" cy="343"/><circle cx="1350.5" cy="343"/><circle cx="1330.5" cy="347.1"/><circle cx="1333.3" cy="347.1"/><circle cx="1336.2" cy="347.1"/><circle cx="1339" cy="347.1"/><circle cx="1341.9" cy="347.1"/><circle cx="1344.7" cy="347.1"/><circle cx="1347.6" cy="347.1"/><circle cx="1350.4" cy="347.1"/><circle cx="1353.3" cy="347.1"/><circle cx="1356.1" cy="347.1"/><circle cx="1359" cy="347.1"/><circle cx="1361.8" cy="347.1"/><circle cx="1364.7" cy="347.1"/><circle cx="1367.5" cy="347.1"/><circle cx="1349" cy="351.2"/><circle cx="1347.5" cy="355.4"/><circle cx="1350.5" cy="355.4"/><circle cx="1346" cy="359.5"/><circle cx="1349" cy="359.5"/><circle cx="1352" cy="359.5"/><circle cx="1341.5" cy="367.8"/><circle cx="1344.5" cy="367.8"/><circle cx="1347.5" cy="367.8"/><circle cx="1350.5" cy="367.8"/><circle cx="1353.5" cy="367.8"/><circle cx="1356.5" cy="367.8"/><circle cx="1346" cy="376"/><circle cx="1349" cy="376"/><circle cx="1352" cy="376"/><circle cx="1347.5" cy="380.2"/><circle cx="1350.5" cy="380.2"/><circle cx="1330.5" cy="388.4"/><circle cx="1333.3" cy="388.4"/><circle cx="1336.2" cy="388.4"/><circle cx="1339" cy="388.4"/><circle cx="1341.9" cy="388.4"/><circle cx="1344.7" cy="388.4"/><circle cx="1347.6" cy="388.4"/><circle cx="1350.4" cy="388.4"/><circle cx="1353.3" cy="388.4"/><circle cx="1356.1" cy="388.4"/><circle cx="1359" cy="388.4"/><circle cx="1361.8" cy="388.4"/><circle cx="1364.7" cy="388.4"/><circle cx="1367.5" cy="388.4"/><circle cx="1349" cy="396.7"/><circle cx="1346" cy="400.9"/><circle cx="1349" cy="400.9"/><circle cx="1352" cy="400.9"/><circle cx="1347.5" cy="405"/><circle cx="1350.5" cy="405"/><circle cx="1346" cy="409.1"/><circle cx="1349" cy="409.1"/><circle cx="1352" cy="409.1"/><circle cx="1344.5" cy="413.3"/><circle cx="1347.5" cy="413.3"/><circle cx="1350.5" cy="413.3"/><circle cx="1353.5" cy="413.3"/><circle cx="1349" cy="421.5"/><circle cx="1343" cy="425.7"/><circle cx="1346" cy="425.7"/><circle cx="1349" cy="425.7"/><circle cx="1352" cy="425.7"/><circle cx="1355" cy="425.7"/><circle cx="1330.5" cy="429.8"/><circle cx="1332.7" cy="429.8"/><circle cx="1334.9" cy="429.8"/><circle cx="1337" cy="429.8"/><circle cx="1339.2" cy="429.8"/><circle cx="1341.4" cy="429.8"/><circle cx="1343.6" cy="429.8"/><circle cx="1345.7" cy="429.8"/><circle cx="1347.9" cy="429.8"/><circle cx="1350.1" cy="429.8"/><circle cx="1352.3" cy="429.8"/><circle cx="1354.4" cy="429.8"/><circle cx="1356.6" cy="429.8"/><circle cx="1358.8" cy="429.8"/><circle cx="1361" cy="429.8"/><circle cx="1363.1" cy="429.8"/><circle cx="1365.3" cy="429.8"/><circle cx="1367.5" cy="429.8"/><circle cx="1344.5" cy="438.1"/><circle cx="1347.5" cy="438.1"/><circle cx="1350.5" cy="438.1"/><circle cx="1353.5" cy="438.1"/><circle cx="1344.5" cy="442.2"/><circle cx="1347.5" cy="442.2"/><circle cx="1350.5" cy="442.2"/><circle cx="1353.5" cy="442.2"/><circle cx="1346" cy="446.3"/><circle cx="1349" cy="446.3"/><circle cx="1352" cy="446.3"/><circle cx="1343" cy="450.5"/><circle cx="1346" cy="450.5"/><circle cx="1349" cy="450.5"/><circle cx="1352" cy="450.5"/><circle cx="1355" cy="450.5"/><circle cx="1349" cy="454.6"/><circle cx="1347.5" cy="458.7"/><circle cx="1350.5" cy="458.7"/><circle cx="1344.5" cy="462.9"/><circle cx="1347.5" cy="462.9"/><circle cx="1350.5" cy="462.9"/><circle cx="1353.5" cy="462.9"/><circle cx="1346" cy="467"/><circle cx="1349" cy="467"/><circle cx="1352" cy="467"/><circle cx="1330.5" cy="471.1"/><circle cx="1331.1" cy="471.1"/><circle cx="1331.8" cy="471.1"/><circle cx="1332.4" cy="471.1"/><circle cx="1333" cy="471.1"/><circle cx="1333.6" cy="471.1"/><circle cx="1334.3" cy="471.1"/><circle cx="1334.9" cy="471.1"/><circle cx="1335.5" cy="471.1"/><circle cx="1336.1" cy="471.1"/><circle cx="1336.8" cy="471.1"/><circle cx="1337.4" cy="471.1"/><circle cx="1338" cy="471.1"/><circle cx="1338.7" cy="471.1"/><circle cx="1339.3" cy="471.1"/><circle cx="1339.9" cy="471.1"/><circle cx="1340.5" cy="471.1"/><circle cx="1341.2" cy="471.1"/><circle cx="1341.8" cy="471.1"/><circle cx="1342.4" cy="471.1"/><circle cx="1343" cy="471.1"/><circle cx="1343.7" cy="471.1"/><circle cx="1344.3" cy="471.1"/><circle cx="1344.9" cy="471.1"/><circle cx="1345.6" cy="471.1"/><circle cx="1346.2" cy="471.1"/><circle cx="1346.8" cy="471.1"/><circle cx="1347.4" cy="471.1"/><circle cx="1348.1" cy="471.1"/><circle cx="1348.7" cy="471.1"/><circle cx="1349.3" cy="471.1"/><circle cx="1349.9" cy="471.1"/><circle cx="1350.6" cy="471.1"/><circle cx="1351.2" cy="471.1"/><circle cx="1351.8" cy="471.1"/><circle cx="1352.4" cy="471.1"/><circle cx="1353.1" cy="471.1"/><circle cx="1353.7" cy="471.1"/><circle cx="1354.3" cy="471.1"/><circle cx="1355" cy="471.1"/><circle cx="1355.6" cy="471.1"/><circle cx="1356.2" cy="471.1"/><circle cx="1356.8" cy="471.1"/><circle cx="1357.5" cy="471.1"/><circle cx="1358.1" cy="471.1"/><circle cx="1358.7" cy="471.1"/><circle cx="1359.3" cy="471.1"/><circle cx="1360" cy="471.1"/><circle cx="1360.6" cy="471.1"/><circle cx="1361.2" cy="471.1"/><circle cx="1361.9" cy="471.1"/><circle cx="1362.5" cy="471.1"/><circle cx="1363.1" cy="471.1"/><circle cx="1363.7" cy="471.1"/><circle cx="1364.4" cy="471.1"/><circle cx="1365" cy="471.1"/><circle cx="1365.6" cy="471.1"/><circle cx="1366.2" cy="471.1"/><circle cx="1366.9" cy="471.1"/><circle cx="1367.5" cy="471.1"/>
</g>
<path d="M1333 373.7H1365M1333 391.8H1365" stroke="#000" stroke-width="6.6" fill="none"/>
<path d="M1349 373.7V391.8" stroke="#000" stroke-width="6" fill="none"/>
<circle cx="1349" cy="382.7" r="6.3" fill="#000"/>
<path d="M1398.2 350.6 L1446.5 365.6 L1494.7 364 L1543 303 L1591.3 243 L1639.6 249" fill="none" stroke="#000" stroke-width="7.2" stroke-linejoin="miter"/>
<path d="M1382.2 335.5H1414.2M1382.2 365.8H1414.2" stroke="#000" stroke-width="6.6" fill="none"/>
<path d="M1398.2 335.5V365.8" stroke="#000" stroke-width="6" fill="none"/>
<circle cx="1398.2" cy="350.6" r="11" fill="#000"/>
<path d="M1430.5 348.7H1462.5M1430.5 382.6H1462.5" stroke="#000" stroke-width="6.6" fill="none"/>
<path d="M1446.5 348.7V382.6" stroke="#000" stroke-width="6" fill="none"/>
<circle cx="1446.5" cy="365.6" r="11" fill="#000"/>
<path d="M1478.7 350.3H1510.7M1478.7 377.6H1510.7" stroke="#000" stroke-width="6.6" fill="none"/>
<path d="M1494.7 350.3V377.6" stroke="#000" stroke-width="6" fill="none"/>
<circle cx="1494.7" cy="364" r="11" fill="#000"/>
<path d="M1527 291.4H1559M1527 315H1559" stroke="#000" stroke-width="6.6" fill="none"/>
<path d="M1543 291.4V315" stroke="#000" stroke-width="6" fill="none"/>
<circle cx="1543" cy="303" r="11" fill="#000"/>
<path d="M1575.3 229H1607.3M1575.3 257H1607.3" stroke="#000" stroke-width="6.6" fill="none"/>
<path d="M1591.3 229V257" stroke="#000" stroke-width="6" fill="none"/>
<circle cx="1591.3" cy="243" r="11" fill="#000"/>
<path d="M1623.6 236.5H1655.6M1623.6 262.2H1655.6" stroke="#000" stroke-width="6.6" fill="none"/>
<path d="M1639.6 236.5V262.2" stroke="#000" stroke-width="6" fill="none"/>
<circle cx="1639.6" cy="249" r="11" fill="#000"/>
<path d="M1690.5 207.6 L1738.6 192 L1786.6 256 L1834.7 214.5 L1882.7 206.5 L1930.8 234" fill="none" stroke="#000" stroke-width="7.2" stroke-linejoin="miter"/>
<path d="M1674.5 196H1706.5M1674.5 219.3H1706.5" stroke="#000" stroke-width="6.6" fill="none"/>
<path d="M1690.5 196V219.3" stroke="#000" stroke-width="6" fill="none"/>
<circle cx="1690.5" cy="207.6" r="11" fill="#000"/>
<path d="M1722.6 177.6H1754.6M1722.6 207H1754.6" stroke="#000" stroke-width="6.6" fill="none"/>
<path d="M1738.6 177.6V207" stroke="#000" stroke-width="6" fill="none"/>
<circle cx="1738.6" cy="192" r="11" fill="#000"/>
<path d="M1770.6 244H1802.6M1770.6 268.6H1802.6" stroke="#000" stroke-width="6.6" fill="none"/>
<path d="M1786.6 244V268.6" stroke="#000" stroke-width="6" fill="none"/>
<circle cx="1786.6" cy="256" r="11" fill="#000"/>
<path d="M1818.7 203H1850.7M1818.7 225.8H1850.7" stroke="#000" stroke-width="6.6" fill="none"/>
<path d="M1834.7 203V225.8" stroke="#000" stroke-width="6" fill="none"/>
<circle cx="1834.7" cy="214.5" r="11" fill="#000"/>
<path d="M1866.7 191.3H1898.7M1866.7 221.7H1898.7" stroke="#000" stroke-width="6.6" fill="none"/>
<path d="M1882.7 191.3V221.7" stroke="#000" stroke-width="6" fill="none"/>
<circle cx="1882.7" cy="206.5" r="11" fill="#000"/>
<path d="M1914.8 221.7H1946.8M1914.8 246.4H1946.8" stroke="#000" stroke-width="6.6" fill="none"/>
<path d="M1930.8 221.7V246.4" stroke="#000" stroke-width="6" fill="none"/>
<circle cx="1930.8" cy="234" r="11" fill="#000"/>
<path d="M1325.5 383.1H1373.2M1373.4 383.1H1664.5M1665.8 383.1H1956.4" stroke="#981212" stroke-width="4" stroke-dasharray="11.3 9.4" fill="none"/>
<g fill="none" stroke="#000">
<rect x="1325.8" y="7.5" width="630.6" height="490.9" stroke-width="1.4"/>
<path d="M1325.8 29.0H1956.4" stroke-width="2.4"/>
<path d="M1373.2 7.5V498.4M1664.5 7.5V498.4" stroke-width="2"/>
<path d="M1313.5 57.6H1325.8M1313.5 161H1325.8M1313.5 264.4H1325.8M1313.5 367.8H1325.8M1313.5 471.1H1325.8M1349 498.4V507M1398.2 498.4V507M1446.5 498.4V507M1494.7 498.4V507M1543 498.4V507M1591.3 498.4V507M1639.6 498.4V507M1690.5 498.4V507M1738.6 498.4V507M1786.6 498.4V507M1834.7 498.4V507M1882.7 498.4V507M1930.8 498.4V507" stroke-width="1.4"/>
</g>
<text x="1349.2" y="24.2" font-size="17.3" text-anchor="middle">No AI</text>
<text x="1519.6" y="24.2" font-size="17.3" text-anchor="middle">Not Flagged Abnormal</text>
<text x="1811" y="24.2" font-size="17.3" text-anchor="middle">Flagged Abnormal</text>
<text x="1307" y="61.4" font-size="20.6" text-anchor="end" textLength="179.5" lengthAdjust="spacingAndGlyphs">50 Greatly Increase</text>
<text x="1307" y="164" font-size="20.6" text-anchor="end" textLength="22.6" lengthAdjust="spacingAndGlyphs">25</text>
<text x="1307" y="267.6" font-size="20.6" text-anchor="end" textLength="118.6" lengthAdjust="spacingAndGlyphs">0 No Change</text>
<text x="1307" y="371.4" font-size="20.6" text-anchor="end" textLength="29.6" lengthAdjust="spacingAndGlyphs">-25</text>
<text x="1307" y="475.2" font-size="20.6" text-anchor="end" textLength="194" lengthAdjust="spacingAndGlyphs">-50 Greatly Decrease</text>
<text transform="translate(1079.3 264.5) rotate(-90)" font-size="24" text-anchor="middle" textLength="317.5" lengthAdjust="spacingAndGlyphs">Concern about Breast Cancer</text>
<text x="1348.8" y="528.2" font-size="17.3" text-anchor="middle">No AI</text>
<text transform="translate(1387 523) rotate(45)" font-size="17">0</text>
<text transform="translate(1435.3 523) rotate(45)" font-size="17">0+Cut</text>
<text transform="translate(1483.5 523) rotate(45)" font-size="17">0+Cut+FOR</text>
<text transform="translate(1531.8 523) rotate(45)" font-size="17">29</text>
<text transform="translate(1580.1 523) rotate(45)" font-size="17">29+Cut</text>
<text transform="translate(1628.4 523) rotate(45)" font-size="17">29+Cut+FOR</text>
<text transform="translate(1679.3 523) rotate(45)" font-size="17">31</text>
<text transform="translate(1727.4 523) rotate(45)" font-size="17">31+Cut</text>
<text transform="translate(1775.4 523) rotate(45)" font-size="17">31+Cut+FDR</text>
<text transform="translate(1823.5 523) rotate(45)" font-size="17">50</text>
<text transform="translate(1871.5 523) rotate(45)" font-size="17">50+Cut</text>
<text transform="translate(1919.6 523) rotate(45)" font-size="17">50+Cut+FDR</text>
<text x="1339.2" y="726.5" font-size="32.4" font-weight="bold" textLength="494.5" lengthAdjust="spacingAndGlyphs">B. Concern about Breast Cancer</text>
</svg>
</body></html>
